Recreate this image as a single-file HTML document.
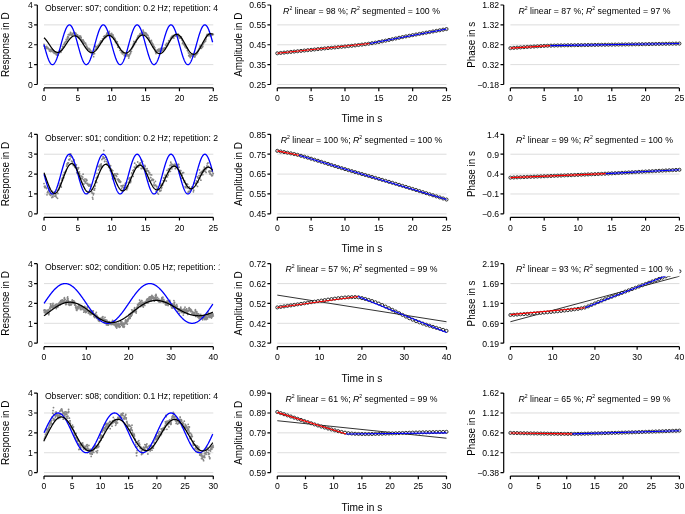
<!DOCTYPE html>
<html><head><meta charset="utf-8"><style>
html,body{margin:0;padding:0;background:#fff;}
body{width:685px;height:514px;overflow:hidden;}
svg{display:block;will-change:transform;}
text{font-family:"Liberation Sans", sans-serif;}
</style></head><body>
<svg width="685" height="514" viewBox="0 0 685 514" font-family='"Liberation Sans", sans-serif' fill="#000"><rect width="685" height="514" fill="#fff"/><line x1="44.00" y1="84.50" x2="213.30" y2="84.50" stroke="#d9d9d9" stroke-width="0.9"/><line x1="44.00" y1="64.62" x2="213.30" y2="64.62" stroke="#d9d9d9" stroke-width="0.9"/><line x1="44.00" y1="44.75" x2="213.30" y2="44.75" stroke="#d9d9d9" stroke-width="0.9"/><line x1="44.00" y1="24.88" x2="213.30" y2="24.88" stroke="#d9d9d9" stroke-width="0.9"/><path d="M44.0,44.3h0.01M44.3,46.2h0.01M44.6,46.4h0.01M44.9,48.2h0.01M45.2,47.0h0.01M45.5,47.7h0.01M45.8,47.3h0.01M46.2,47.8h0.01M46.5,46.4h0.01M46.8,48.5h0.01M47.1,47.8h0.01M47.4,48.2h0.01M47.7,47.3h0.01M48.0,48.1h0.01M48.3,48.8h0.01M48.6,48.9h0.01M48.9,48.9h0.01M49.2,50.0h0.01M49.5,51.0h0.01M49.8,51.0h0.01M50.2,49.9h0.01M50.5,49.3h0.01M50.8,51.5h0.01M51.1,50.4h0.01M51.4,51.1h0.01M51.7,49.6h0.01M52.0,51.2h0.01M52.3,51.2h0.01M52.6,50.9h0.01M52.9,51.8h0.01M53.2,50.1h0.01M53.5,52.5h0.01M53.9,51.3h0.01M54.2,52.9h0.01M54.5,53.4h0.01M54.8,53.2h0.01M55.1,52.1h0.01M55.4,52.0h0.01M55.7,52.0h0.01M56.0,53.9h0.01M56.3,54.7h0.01M56.6,53.8h0.01M56.9,54.7h0.01M57.2,55.2h0.01M57.5,53.6h0.01M57.9,54.2h0.01M58.2,55.2h0.01M58.5,53.7h0.01M58.8,53.3h0.01M59.1,53.0h0.01M59.4,50.8h0.01M59.7,51.7h0.01M60.0,51.8h0.01M60.3,51.1h0.01M60.6,52.2h0.01M60.9,52.3h0.01M61.2,50.7h0.01M61.5,49.1h0.01M61.9,50.0h0.01M62.2,49.6h0.01M62.5,46.3h0.01M62.8,47.8h0.01M63.1,46.9h0.01M63.4,47.0h0.01M63.7,44.6h0.01M64.0,44.7h0.01M64.3,43.3h0.01M64.6,43.0h0.01M64.9,44.0h0.01M65.2,42.1h0.01M65.5,41.8h0.01M65.9,41.4h0.01M66.2,39.3h0.01M66.5,40.3h0.01M66.8,41.3h0.01M67.1,39.7h0.01M67.4,37.7h0.01M67.7,36.7h0.01M68.0,38.5h0.01M68.3,34.7h0.01M68.6,37.1h0.01M68.9,34.5h0.01M69.2,35.1h0.01M69.5,34.5h0.01M69.9,34.5h0.01M70.2,33.9h0.01M70.5,32.5h0.01M70.8,32.6h0.01M71.1,35.1h0.01M71.4,34.1h0.01M71.7,34.1h0.01M72.0,35.3h0.01M72.3,34.0h0.01M72.6,34.5h0.01M72.9,34.1h0.01M73.2,33.1h0.01M73.6,32.3h0.01M73.9,33.6h0.01M74.2,32.5h0.01M74.5,32.6h0.01M74.8,32.7h0.01M75.1,34.2h0.01M75.4,33.4h0.01M75.7,33.5h0.01M76.0,33.4h0.01M76.3,35.9h0.01M76.6,34.7h0.01M76.9,34.9h0.01M77.2,35.7h0.01M77.6,34.8h0.01M77.9,35.9h0.01M78.2,36.4h0.01M78.5,37.5h0.01M78.8,37.1h0.01M79.1,36.5h0.01M79.4,37.8h0.01M79.7,36.9h0.01M80.0,35.9h0.01M80.3,37.0h0.01M80.6,36.1h0.01M80.9,38.8h0.01M81.2,37.5h0.01M81.6,39.7h0.01M81.9,40.2h0.01M82.2,39.9h0.01M82.5,41.0h0.01M82.8,40.9h0.01M83.1,40.0h0.01M83.4,42.1h0.01M83.7,43.1h0.01M84.0,41.5h0.01M84.3,42.8h0.01M84.6,43.2h0.01M84.9,43.3h0.01M85.2,43.1h0.01M85.6,43.2h0.01M85.9,44.5h0.01M86.2,46.6h0.01M86.5,46.0h0.01M86.8,46.2h0.01M87.1,47.4h0.01M87.4,47.7h0.01M87.7,49.2h0.01M88.0,49.0h0.01M88.3,49.7h0.01M88.6,49.0h0.01M88.9,48.3h0.01M89.2,49.3h0.01M89.6,51.1h0.01M89.9,49.5h0.01M90.2,50.4h0.01M90.5,50.7h0.01M90.8,50.8h0.01M91.1,52.4h0.01M91.4,51.5h0.01M91.7,51.8h0.01M92.0,53.0h0.01M92.3,54.6h0.01M92.6,54.2h0.01M92.9,53.5h0.01M93.3,53.9h0.01M93.6,56.7h0.01M93.9,53.6h0.01M94.2,50.5h0.01M94.5,53.7h0.01M94.8,50.1h0.01M95.1,49.8h0.01M95.4,46.5h0.01M95.7,46.5h0.01M96.0,49.2h0.01M96.3,48.1h0.01M96.6,47.4h0.01M96.9,46.8h0.01M97.3,48.0h0.01M97.6,46.2h0.01M97.9,45.6h0.01M98.2,45.8h0.01M98.5,45.5h0.01M98.8,44.3h0.01M99.1,44.1h0.01M99.4,44.7h0.01M99.7,43.8h0.01M100.0,42.9h0.01M100.3,42.0h0.01M100.6,42.3h0.01M100.9,41.0h0.01M101.3,40.9h0.01M101.6,41.2h0.01M101.9,41.4h0.01M102.2,41.5h0.01M102.5,38.8h0.01M102.8,39.5h0.01M103.1,39.0h0.01M103.4,39.1h0.01M103.7,36.6h0.01M104.0,37.1h0.01M104.3,38.0h0.01M104.6,35.8h0.01M104.9,36.7h0.01M105.3,37.7h0.01M105.6,35.6h0.01M105.9,37.3h0.01M106.2,36.6h0.01M106.5,34.7h0.01M106.8,33.6h0.01M107.1,33.0h0.01M107.4,34.2h0.01M107.7,35.5h0.01M108.0,33.9h0.01M108.3,33.1h0.01M108.6,32.3h0.01M108.9,33.9h0.01M109.3,31.5h0.01M109.6,33.3h0.01M109.9,34.8h0.01M110.2,35.1h0.01M110.5,34.7h0.01M110.8,35.1h0.01M111.1,35.9h0.01M111.4,34.5h0.01M111.7,33.4h0.01M112.0,35.0h0.01M112.3,36.2h0.01M112.6,35.4h0.01M113.0,35.0h0.01M113.3,36.5h0.01M113.6,37.1h0.01M113.9,38.9h0.01M114.2,38.9h0.01M114.5,38.1h0.01M114.8,38.6h0.01M115.1,38.9h0.01M115.4,41.8h0.01M115.7,40.5h0.01M116.0,41.8h0.01M116.3,43.3h0.01M116.6,42.7h0.01M117.0,42.0h0.01M117.3,41.9h0.01M117.6,45.3h0.01M117.9,47.2h0.01M118.2,44.5h0.01M118.5,46.4h0.01M118.8,47.0h0.01M119.1,47.5h0.01M119.4,48.1h0.01M119.7,48.1h0.01M120.0,50.3h0.01M120.3,50.1h0.01M120.6,50.3h0.01M121.0,50.5h0.01M121.3,52.6h0.01M121.6,52.3h0.01M121.9,51.2h0.01M122.2,51.9h0.01M122.5,53.9h0.01M122.8,51.5h0.01M123.1,53.3h0.01M123.4,52.7h0.01M123.7,52.8h0.01M124.0,53.3h0.01M124.3,55.5h0.01M124.6,54.9h0.01M125.0,54.8h0.01M125.3,56.1h0.01M125.6,55.9h0.01M125.9,56.3h0.01M126.2,54.9h0.01M126.5,54.7h0.01M126.8,54.4h0.01M127.1,52.7h0.01M127.4,54.7h0.01M127.7,54.6h0.01M128.0,56.0h0.01M128.3,54.8h0.01M128.7,58.1h0.01M129.0,56.6h0.01M129.3,55.8h0.01M129.6,54.8h0.01M129.9,54.2h0.01M130.2,53.5h0.01M130.5,53.4h0.01M130.8,51.7h0.01M131.1,51.1h0.01M131.4,51.5h0.01M131.7,48.9h0.01M132.0,48.3h0.01M132.3,47.5h0.01M132.7,46.8h0.01M133.0,45.1h0.01M133.3,46.7h0.01M133.6,43.4h0.01M133.9,41.4h0.01M134.2,43.3h0.01M134.5,44.5h0.01M134.8,41.9h0.01M135.1,41.8h0.01M135.4,42.4h0.01M135.7,41.7h0.01M136.0,42.0h0.01M136.3,39.9h0.01M136.7,39.7h0.01M137.0,39.1h0.01M137.3,37.9h0.01M137.6,37.9h0.01M137.9,36.2h0.01M138.2,37.5h0.01M138.5,36.3h0.01M138.8,35.7h0.01M139.1,35.6h0.01M139.4,34.9h0.01M139.7,35.1h0.01M140.0,33.6h0.01M140.3,35.2h0.01M140.7,33.7h0.01M141.0,34.1h0.01M141.3,34.8h0.01M141.6,32.2h0.01M141.9,32.9h0.01M142.2,32.3h0.01M142.5,33.0h0.01M142.8,33.0h0.01M143.1,30.2h0.01M143.4,31.7h0.01M143.7,32.3h0.01M144.0,32.3h0.01M144.3,33.5h0.01M144.7,34.0h0.01M145.0,32.7h0.01M145.3,33.1h0.01M145.6,33.2h0.01M145.9,33.0h0.01M146.2,35.0h0.01M146.5,34.8h0.01M146.8,34.2h0.01M147.1,35.0h0.01M147.4,35.0h0.01M147.7,35.7h0.01M148.0,35.4h0.01M148.4,37.8h0.01M148.7,37.3h0.01M149.0,38.1h0.01M149.3,39.1h0.01M149.6,40.6h0.01M149.9,41.4h0.01M150.2,41.3h0.01M150.5,41.0h0.01M150.8,41.4h0.01M151.1,41.4h0.01M151.4,40.3h0.01M151.7,42.1h0.01M152.0,42.8h0.01M152.4,44.1h0.01M152.7,43.6h0.01M153.0,46.6h0.01M153.3,45.0h0.01M153.6,46.2h0.01M153.9,46.5h0.01M154.2,46.7h0.01M154.5,48.5h0.01M154.8,47.6h0.01M155.1,49.3h0.01M155.4,51.3h0.01M155.7,52.5h0.01M156.0,53.5h0.01M156.4,52.3h0.01M156.7,50.8h0.01M157.0,50.7h0.01M157.3,49.9h0.01M157.6,49.8h0.01M157.9,49.7h0.01M158.2,51.3h0.01M158.5,50.7h0.01M158.8,49.2h0.01M159.1,51.2h0.01M159.4,51.2h0.01M159.7,51.6h0.01M160.0,50.0h0.01M160.4,48.4h0.01M160.7,51.8h0.01M161.0,51.6h0.01M161.3,51.1h0.01M161.6,50.0h0.01M161.9,49.4h0.01M162.2,49.3h0.01M162.5,48.5h0.01M162.8,50.0h0.01M163.1,49.0h0.01M163.4,48.6h0.01M163.7,48.7h0.01M164.0,49.2h0.01M164.4,48.0h0.01M164.7,49.2h0.01M165.0,47.8h0.01M165.3,48.1h0.01M165.6,45.0h0.01M165.9,45.5h0.01M166.2,46.0h0.01M166.5,43.3h0.01M166.8,46.4h0.01M167.1,45.2h0.01M167.4,45.4h0.01M167.7,43.8h0.01M168.1,44.6h0.01M168.4,42.4h0.01M168.7,40.6h0.01M169.0,42.4h0.01M169.3,41.6h0.01M169.6,41.5h0.01M169.9,40.3h0.01M170.2,40.2h0.01M170.5,38.3h0.01M170.8,38.7h0.01M171.1,37.4h0.01M171.4,37.8h0.01M171.7,36.3h0.01M172.1,36.9h0.01M172.4,37.0h0.01M172.7,37.7h0.01M173.0,35.7h0.01M173.3,35.5h0.01M173.6,36.5h0.01M173.9,38.1h0.01M174.2,35.6h0.01M174.5,35.4h0.01M174.8,35.9h0.01M175.1,35.2h0.01M175.4,36.1h0.01M175.7,35.3h0.01M176.1,34.5h0.01M176.4,34.5h0.01M176.7,34.3h0.01M177.0,35.5h0.01M177.3,35.6h0.01M177.6,35.3h0.01M177.9,35.5h0.01M178.2,34.1h0.01M178.5,36.4h0.01M178.8,35.8h0.01M179.1,36.8h0.01M179.4,37.8h0.01M179.7,37.9h0.01M180.1,38.2h0.01M180.4,37.0h0.01M180.7,36.6h0.01M181.0,37.0h0.01M181.3,36.9h0.01M181.6,38.5h0.01M181.9,39.0h0.01M182.2,40.3h0.01M182.5,43.3h0.01M182.8,42.8h0.01M183.1,41.8h0.01M183.4,43.4h0.01M183.7,44.4h0.01M184.1,44.8h0.01M184.4,44.2h0.01M184.7,45.8h0.01M185.0,46.8h0.01M185.3,46.5h0.01M185.6,46.3h0.01M185.9,46.7h0.01M186.2,47.9h0.01M186.5,48.2h0.01M186.8,48.0h0.01M187.1,48.6h0.01M187.4,50.6h0.01M187.8,50.9h0.01M188.1,50.1h0.01M188.4,52.8h0.01M188.7,55.7h0.01M189.0,53.3h0.01M189.3,56.0h0.01M189.6,54.3h0.01M189.9,55.1h0.01M190.2,57.5h0.01M190.5,56.5h0.01M190.8,54.8h0.01M191.1,55.1h0.01M191.4,54.9h0.01M191.8,55.9h0.01M192.1,54.2h0.01M192.4,56.0h0.01M192.7,54.9h0.01M193.0,55.0h0.01M193.3,54.5h0.01M193.6,54.4h0.01M193.9,55.7h0.01M194.2,56.4h0.01M194.5,55.1h0.01M194.8,57.0h0.01M195.1,55.9h0.01M195.4,55.0h0.01M195.8,55.1h0.01M196.1,53.2h0.01M196.4,53.6h0.01M196.7,54.2h0.01M197.0,52.7h0.01M197.3,51.7h0.01M197.6,52.9h0.01M197.9,51.0h0.01M198.2,51.1h0.01M198.5,49.9h0.01M198.8,49.8h0.01M199.1,48.5h0.01M199.4,48.4h0.01M199.8,46.3h0.01M200.1,46.2h0.01M200.4,45.5h0.01M200.7,46.1h0.01M201.0,48.4h0.01M201.3,48.3h0.01M201.6,46.5h0.01M201.9,47.4h0.01M202.2,46.9h0.01M202.5,45.4h0.01M202.8,46.6h0.01M203.1,44.1h0.01M203.4,42.9h0.01M203.8,42.8h0.01M204.1,41.7h0.01M204.4,42.3h0.01M204.7,41.3h0.01M205.0,40.4h0.01M205.3,41.3h0.01M205.6,40.9h0.01M205.9,39.3h0.01M206.2,37.7h0.01M206.5,36.1h0.01M206.8,35.1h0.01M207.1,34.3h0.01M207.5,35.8h0.01M207.8,35.0h0.01M208.1,34.8h0.01M208.4,34.1h0.01M208.7,34.7h0.01M209.0,35.8h0.01M209.3,34.5h0.01M209.6,33.7h0.01M209.9,34.1h0.01M210.2,35.0h0.01M210.5,34.8h0.01M210.8,35.9h0.01M211.1,35.1h0.01M211.5,35.0h0.01M211.8,34.9h0.01M212.1,35.0h0.01M212.4,34.7h0.01M212.7,33.8h0.01M213.0,34.5h0.01M213.3,34.4h0.01" stroke="#878787" stroke-width="1.8" stroke-linecap="round" fill="none"/><polyline points="44.00,44.75 44.28,45.79 44.56,46.82 44.84,47.85 45.12,48.87 45.41,49.87 45.69,50.87 45.97,51.85 46.25,52.80 46.53,53.74 46.81,54.65 47.09,55.54 47.37,56.39 47.65,57.22 47.93,58.01 48.22,58.76 48.50,59.48 48.78,60.15 49.06,60.79 49.34,61.38 49.62,61.92 49.90,62.42 50.18,62.87 50.46,63.27 50.74,63.62 51.03,63.92 51.31,64.17 51.59,64.36 51.87,64.50 52.15,64.59 52.43,64.62 52.71,64.60 52.99,64.53 53.27,64.40 53.56,64.22 53.84,63.98 54.12,63.70 54.40,63.36 54.68,62.97 54.96,62.53 55.24,62.04 55.52,61.51 55.80,60.93 56.08,60.31 56.37,59.64 56.65,58.94 56.93,58.19 57.21,57.41 57.49,56.59 57.77,55.75 58.05,54.87 58.33,53.96 58.61,53.03 58.90,52.08 59.18,51.11 59.46,50.11 59.74,49.11 60.02,48.09 60.30,47.07 60.58,46.04 60.86,45.00 61.14,43.96 61.42,42.93 61.71,41.90 61.99,40.88 62.27,39.87 62.55,38.87 62.83,37.89 63.11,36.93 63.39,35.98 63.67,35.07 63.95,34.17 64.23,33.31 64.52,32.48 64.80,31.68 65.08,30.92 65.36,30.19 65.64,29.51 65.92,28.86 66.20,28.26 66.48,27.71 66.76,27.20 67.05,26.73 67.33,26.32 67.61,25.96 67.89,25.65 68.17,25.39 68.45,25.18 68.73,25.03 69.01,24.93 69.29,24.88 69.57,24.89 69.86,24.95 70.14,25.06 70.42,25.23 70.70,25.45 70.98,25.73 71.26,26.05 71.54,26.43 71.82,26.86 72.10,27.33 72.38,27.86 72.67,28.42 72.95,29.04 73.23,29.69 73.51,30.39 73.79,31.13 74.07,31.90 74.35,32.71 74.63,33.55 74.91,34.42 75.20,35.32 75.48,36.24 75.76,37.19 76.04,38.16 76.32,39.15 76.60,40.15 76.88,41.16 77.16,42.18 77.44,43.22 77.72,44.25 78.01,45.29 78.29,46.32 78.57,47.35 78.85,48.38 79.13,49.39 79.41,50.39 79.69,51.38 79.97,52.34 80.25,53.29 80.53,54.22 80.82,55.11 81.10,55.98 81.38,56.82 81.66,57.63 81.94,58.40 82.22,59.14 82.50,59.83 82.78,60.48 83.06,61.10 83.35,61.66 83.63,62.18 83.91,62.66 84.19,63.08 84.47,63.46 84.75,63.78 85.03,64.06 85.31,64.28 85.59,64.44 85.87,64.56 86.16,64.62 86.44,64.62 86.72,64.57 87.00,64.47 87.28,64.31 87.56,64.10 87.84,63.84 88.12,63.53 88.40,63.16 88.69,62.75 88.97,62.29 89.25,61.77 89.53,61.22 89.81,60.61 90.09,59.97 90.37,59.28 90.65,58.55 90.93,57.79 91.21,56.99 91.50,56.16 91.78,55.29 92.06,54.40 92.34,53.48 92.62,52.54 92.90,51.58 93.18,50.59 93.46,49.60 93.74,48.58 94.02,47.56 94.31,46.53 94.59,45.50 94.87,44.46 95.15,43.43 95.43,42.40 95.71,41.37 95.99,40.35 96.27,39.35 96.55,38.36 96.84,37.39 97.12,36.43 97.40,35.51 97.68,34.60 97.96,33.72 98.24,32.88 98.52,32.06 98.80,31.28 99.08,30.54 99.36,29.83 99.65,29.17 99.93,28.55 100.21,27.97 100.49,27.44 100.77,26.95 101.05,26.51 101.33,26.13 101.61,25.79 101.89,25.51 102.17,25.27 102.46,25.09 102.74,24.97 103.02,24.89 103.30,24.88 103.58,24.91 103.86,25.00 104.14,25.14 104.42,25.34 104.70,25.59 104.99,25.89 105.27,26.24 105.55,26.65 105.83,27.10 106.11,27.60 106.39,28.15 106.67,28.74 106.95,29.37 107.23,30.05 107.51,30.77 107.80,31.52 108.08,32.31 108.36,33.14 108.64,34.00 108.92,34.88 109.20,35.79 109.48,36.73 109.76,37.69 110.04,38.67 110.32,39.66 110.61,40.67 110.89,41.69 111.17,42.72 111.45,43.75 111.73,44.79 112.01,45.82 112.29,46.86 112.57,47.88 112.85,48.90 113.14,49.91 113.42,50.90 113.70,51.88 113.98,52.84 114.26,53.77 114.54,54.68 114.82,55.57 115.10,56.42 115.38,57.24 115.66,58.03 115.95,58.79 116.23,59.50 116.51,60.17 116.79,60.81 117.07,61.40 117.35,61.94 117.63,62.44 117.91,62.88 118.19,63.28 118.48,63.63 118.76,63.93 119.04,64.18 119.32,64.37 119.60,64.51 119.88,64.59 120.16,64.62 120.44,64.60 120.72,64.53 121.00,64.40 121.29,64.21 121.57,63.98 121.85,63.69 122.13,63.35 122.41,62.96 122.69,62.52 122.97,62.03 123.25,61.49 123.53,60.91 123.81,60.28 124.10,59.62 124.38,58.91 124.66,58.16 124.94,57.38 125.22,56.56 125.50,55.71 125.78,54.83 126.06,53.93 126.34,53.00 126.63,52.04 126.91,51.07 127.19,50.08 127.47,49.07 127.75,48.06 128.03,47.03 128.31,46.00 128.59,44.96 128.87,43.93 129.15,42.89 129.44,41.86 129.72,40.84 130.00,39.83 130.28,38.83 130.56,37.85 130.84,36.89 131.12,35.95 131.40,35.03 131.68,34.14 131.96,33.28 132.25,32.45 132.53,31.65 132.81,30.89 133.09,30.17 133.37,29.48 133.65,28.84 133.93,28.24 134.21,27.69 134.49,27.18 134.78,26.72 135.06,26.31 135.34,25.95 135.62,25.64 135.90,25.38 136.18,25.17 136.46,25.02 136.74,24.92 137.02,24.88 137.30,24.89 137.59,24.95 137.87,25.07 138.15,25.24 138.43,25.46 138.71,25.74 138.99,26.07 139.27,26.45 139.55,26.87 139.83,27.35 140.11,27.88 140.40,28.45 140.68,29.06 140.96,29.72 141.24,30.42 141.52,31.15 141.80,31.93 142.08,32.74 142.36,33.58 142.64,34.45 142.93,35.35 143.21,36.28 143.49,37.23 143.77,38.19 144.05,39.18 144.33,40.18 144.61,41.20 144.89,42.22 145.17,43.25 145.45,44.29 145.74,45.32 146.02,46.36 146.30,47.39 146.58,48.41 146.86,49.43 147.14,50.43 147.42,51.41 147.70,52.38 147.98,53.33 148.27,54.25 148.55,55.15 148.83,56.01 149.11,56.85 149.39,57.66 149.67,58.43 149.95,59.16 150.23,59.85 150.51,60.51 150.79,61.12 151.08,61.68 151.36,62.20 151.64,62.67 151.92,63.10 152.20,63.47 152.48,63.79 152.76,64.06 153.04,64.28 153.32,64.45 153.60,64.56 153.89,64.62 154.17,64.62 154.45,64.57 154.73,64.47 155.01,64.31 155.29,64.10 155.57,63.83 155.85,63.52 156.13,63.15 156.42,62.73 156.70,62.27 156.98,61.75 157.26,61.20 157.54,60.59 157.82,59.94 158.10,59.26 158.38,58.53 158.66,57.76 158.94,56.96 159.23,56.13 159.51,55.26 159.79,54.37 160.07,53.45 160.35,52.51 160.63,51.54 160.91,50.56 161.19,49.56 161.47,48.55 161.75,47.53 162.04,46.50 162.32,45.46 162.60,44.43 162.88,43.39 163.16,42.36 163.44,41.33 163.72,40.32 164.00,39.31 164.28,38.32 164.57,37.35 164.85,36.40 165.13,35.47 165.41,34.57 165.69,33.69 165.97,32.85 166.25,32.03 166.53,31.25 166.81,30.51 167.09,29.81 167.38,29.15 167.66,28.53 167.94,27.95 168.22,27.42 168.50,26.93 168.78,26.50 169.06,26.11 169.34,25.78 169.62,25.50 169.91,25.27 170.19,25.09 170.47,24.96 170.75,24.89 171.03,24.88 171.31,24.91 171.59,25.00 171.87,25.15 172.15,25.35 172.43,25.60 172.72,25.90 173.00,26.26 173.28,26.66 173.56,27.12 173.84,27.62 174.12,28.17 174.40,28.76 174.68,29.40 174.96,30.08 175.24,30.79 175.53,31.55 175.81,32.34 176.09,33.17 176.37,34.03 176.65,34.91 176.93,35.83 177.21,36.77 177.49,37.72 177.77,38.70 178.06,39.70 178.34,40.71 178.62,41.73 178.90,42.76 179.18,43.79 179.46,44.82 179.74,45.86 180.02,46.89 180.30,47.92 180.58,48.94 180.87,49.95 181.15,50.94 181.43,51.92 181.71,52.87 181.99,53.81 182.27,54.72 182.55,55.60 182.83,56.45 183.11,57.27 183.39,58.06 183.68,58.81 183.96,59.53 184.24,60.20 184.52,60.83 184.80,61.42 185.08,61.96 185.36,62.45 185.64,62.90 185.92,63.30 186.21,63.64 186.49,63.94 186.77,64.18 187.05,64.37 187.33,64.51 187.61,64.60 187.89,64.62 188.17,64.60 188.45,64.52 188.73,64.39 189.02,64.20 189.30,63.97 189.58,63.68 189.86,63.33 190.14,62.94 190.42,62.50 190.70,62.01 190.98,61.47 191.26,60.89 191.54,60.26 191.83,59.59 192.11,58.88 192.39,58.14 192.67,57.35 192.95,56.53 193.23,55.68 193.51,54.80 193.79,53.90 194.07,52.96 194.36,52.01 194.64,51.03 194.92,50.04 195.20,49.04 195.48,48.02 195.76,46.99 196.04,45.96 196.32,44.92 196.60,43.89 196.88,42.85 197.17,41.83 197.45,40.81 197.73,39.80 198.01,38.80 198.29,37.82 198.57,36.86 198.85,35.92 199.13,35.00 199.41,34.11 199.70,33.25 199.98,32.42 200.26,31.63 200.54,30.87 200.82,30.14 201.10,29.46 201.38,28.82 201.66,28.22 201.94,27.67 202.22,27.16 202.51,26.70 202.79,26.29 203.07,25.93 203.35,25.63 203.63,25.37 203.91,25.17 204.19,25.02 204.47,24.92 204.75,24.88 205.03,24.89 205.32,24.95 205.60,25.07 205.88,25.25 206.16,25.47 206.44,25.75 206.72,26.08 207.00,26.46 207.28,26.89 207.56,27.37 207.85,27.90 208.13,28.47 208.41,29.08 208.69,29.74 208.97,30.44 209.25,31.18 209.53,31.96 209.81,32.77 210.09,33.61 210.37,34.48 210.66,35.38 210.94,36.31 211.22,37.26 211.50,38.23 211.78,39.22 212.06,40.22 212.34,41.23 212.62,42.26" fill="none" stroke="#0000ff" stroke-width="1.3"/><polyline points="44.00,37.70 44.28,37.96 44.56,38.23 44.84,38.52 45.12,38.83 45.41,39.15 45.69,39.48 45.97,39.83 46.25,40.18 46.53,40.55 46.81,40.93 47.09,41.32 47.37,41.71 47.65,42.11 47.93,42.52 48.22,42.93 48.50,43.35 48.78,43.77 49.06,44.19 49.34,44.61 49.62,45.02 49.90,45.44 50.18,45.85 50.46,46.26 50.74,46.67 51.03,47.06 51.31,47.45 51.59,47.84 51.87,48.21 52.15,48.57 52.43,48.92 52.71,49.26 52.99,49.58 53.27,49.89 53.56,50.19 53.84,50.46 54.12,50.73 54.40,50.97 54.68,51.20 54.96,51.41 55.24,51.60 55.52,51.77 55.80,51.92 56.08,52.05 56.37,52.16 56.65,52.25 56.93,52.31 57.21,52.36 57.49,52.38 57.77,52.38 58.05,52.36 58.33,52.32 58.61,52.25 58.90,52.17 59.18,52.06 59.46,51.93 59.74,51.78 60.02,51.61 60.30,51.42 60.58,51.21 60.86,50.98 61.14,50.74 61.42,50.47 61.71,50.19 61.99,49.89 62.27,49.58 62.55,49.25 62.83,48.91 63.11,48.56 63.39,48.19 63.67,47.81 63.95,47.43 64.23,47.03 64.52,46.63 64.80,46.22 65.08,45.80 65.36,45.38 65.64,44.95 65.92,44.52 66.20,44.10 66.48,43.67 66.76,43.24 67.05,42.81 67.33,42.39 67.61,41.97 67.89,41.56 68.17,41.15 68.45,40.76 68.73,40.37 69.01,39.99 69.29,39.62 69.57,39.26 69.86,38.92 70.14,38.59 70.42,38.27 70.70,37.97 70.98,37.69 71.26,37.42 71.54,37.17 71.82,36.94 72.10,36.73 72.38,36.53 72.67,36.36 72.95,36.21 73.23,36.08 73.51,35.97 73.79,35.88 74.07,35.82 74.35,35.77 74.63,35.75 74.91,35.75 75.20,35.78 75.48,35.82 75.76,35.89 76.04,35.98 76.32,36.09 76.60,36.23 76.88,36.38 77.16,36.56 77.44,36.76 77.72,36.97 78.01,37.21 78.29,37.46 78.57,37.74 78.85,38.03 79.13,38.33 79.41,38.66 79.69,38.99 79.97,39.35 80.25,39.71 80.53,40.09 80.82,40.48 81.10,40.87 81.38,41.28 81.66,41.70 81.94,42.12 82.22,42.55 82.50,42.98 82.78,43.42 83.06,43.86 83.35,44.30 83.63,44.74 83.91,45.18 84.19,45.61 84.47,46.05 84.75,46.48 85.03,46.90 85.31,47.31 85.59,47.72 85.87,48.12 86.16,48.51 86.44,48.88 86.72,49.24 87.00,49.59 87.28,49.93 87.56,50.25 87.84,50.55 88.12,50.84 88.40,51.11 88.69,51.36 88.97,51.59 89.25,51.80 89.53,52.00 89.81,52.16 90.09,52.31 90.37,52.44 90.65,52.54 90.93,52.63 91.21,52.68 91.50,52.72 91.78,52.73 92.06,52.72 92.34,52.69 92.62,52.63 92.90,52.55 93.18,52.45 93.46,52.32 93.74,52.18 94.02,52.01 94.31,51.82 94.59,51.61 94.87,51.38 95.15,51.13 95.43,50.86 95.71,50.57 95.99,50.26 96.27,49.94 96.55,49.60 96.84,49.25 97.12,48.88 97.40,48.50 97.68,48.11 97.96,47.70 98.24,47.29 98.52,46.87 98.80,46.44 99.08,46.00 99.36,45.56 99.65,45.12 99.93,44.67 100.21,44.22 100.49,43.77 100.77,43.32 101.05,42.87 101.33,42.43 101.61,41.99 101.89,41.55 102.17,41.12 102.46,40.71 102.74,40.29 103.02,39.89 103.30,39.50 103.58,39.13 103.86,38.76 104.14,38.41 104.42,38.08 104.70,37.76 104.99,37.46 105.27,37.18 105.55,36.92 105.83,36.67 106.11,36.45 106.39,36.24 106.67,36.06 106.95,35.90 107.23,35.76 107.51,35.65 107.80,35.55 108.08,35.48 108.36,35.44 108.64,35.41 108.92,35.42 109.20,35.44 109.48,35.49 109.76,35.56 110.04,35.66 110.32,35.77 110.61,35.91 110.89,36.08 111.17,36.26 111.45,36.47 111.73,36.70 112.01,36.94 112.29,37.21 112.57,37.50 112.85,37.80 113.14,38.13 113.42,38.47 113.70,38.82 113.98,39.19 114.26,39.57 114.54,39.97 114.82,40.37 115.10,40.79 115.38,41.22 115.66,41.65 115.95,42.09 116.23,42.54 116.51,43.00 116.79,43.45 117.07,43.91 117.35,44.37 117.63,44.83 117.91,45.29 118.19,45.74 118.48,46.19 118.76,46.64 119.04,47.08 119.32,47.51 119.60,47.93 119.88,48.34 120.16,48.74 120.44,49.13 120.72,49.51 121.00,49.87 121.29,50.22 121.57,50.55 121.85,50.86 122.13,51.16 122.41,51.44 122.69,51.69 122.97,51.93 123.25,52.15 123.53,52.34 123.81,52.51 124.10,52.67 124.38,52.79 124.66,52.90 124.94,52.98 125.22,53.03 125.50,53.07 125.78,53.08 126.06,53.06 126.34,53.02 126.63,52.96 126.91,52.87 127.19,52.76 127.47,52.63 127.75,52.47 128.03,52.29 128.31,52.09 128.59,51.86 128.87,51.62 129.15,51.35 129.44,51.07 129.72,50.76 130.00,50.44 130.28,50.10 130.56,49.75 130.84,49.38 131.12,48.99 131.40,48.59 131.68,48.18 131.96,47.76 132.25,47.33 132.53,46.89 132.81,46.44 133.09,45.98 133.37,45.52 133.65,45.06 133.93,44.59 134.21,44.12 134.49,43.65 134.78,43.18 135.06,42.71 135.34,42.25 135.62,41.79 135.90,41.34 136.18,40.89 136.46,40.46 136.74,40.03 137.02,39.61 137.30,39.21 137.59,38.82 137.87,38.44 138.15,38.08 138.43,37.73 138.71,37.40 138.99,37.09 139.27,36.80 139.55,36.53 139.83,36.27 140.11,36.04 140.40,35.83 140.68,35.64 140.96,35.48 141.24,35.34 141.52,35.22 141.80,35.13 142.08,35.06 142.36,35.01 142.64,34.99 142.93,34.99 143.21,35.02 143.49,35.08 143.77,35.16 144.05,35.26 144.33,35.39 144.61,35.54 144.89,35.71 145.17,35.91 145.45,36.13 145.74,36.37 146.02,36.63 146.30,36.92 146.58,37.22 146.86,37.54 147.14,37.89 147.42,38.24 147.70,38.62 147.98,39.01 148.27,39.41 148.55,39.83 148.83,40.26 149.11,40.70 149.39,41.16 149.67,41.62 149.95,42.08 150.23,42.56 150.51,43.04 150.79,43.52 151.08,44.00 151.36,44.49 151.64,44.97 151.92,45.46 152.20,45.94 152.48,46.41 152.76,46.88 153.04,47.35 153.32,47.80 153.60,48.25 153.89,48.69 154.17,49.11 154.45,49.52 154.73,49.92 155.01,50.30 155.29,50.67 155.57,51.02 155.85,51.35 156.13,51.66 156.42,51.95 156.70,52.22 156.98,52.47 157.26,52.70 157.54,52.91 157.82,53.09 158.10,53.24 158.38,53.38 158.66,53.49 158.94,53.57 159.23,53.63 159.51,53.66 159.79,53.66 160.07,53.64 160.35,53.60 160.63,53.53 160.91,53.43 161.19,53.31 161.47,53.16 161.75,52.99 162.04,52.80 162.32,52.58 162.60,52.34 162.88,52.07 163.16,51.79 163.44,51.48 163.72,51.15 164.00,50.80 164.28,50.44 164.57,50.06 164.85,49.66 165.13,49.24 165.41,48.81 165.69,48.37 165.97,47.92 166.25,47.45 166.53,46.98 166.81,46.50 167.09,46.01 167.38,45.51 167.66,45.01 167.94,44.51 168.22,44.01 168.50,43.50 168.78,43.00 169.06,42.50 169.34,42.00 169.62,41.51 169.91,41.03 170.19,40.55 170.47,40.08 170.75,39.63 171.03,39.18 171.31,38.75 171.59,38.33 171.87,37.93 172.15,37.54 172.43,37.17 172.72,36.82 173.00,36.49 173.28,36.18 173.56,35.89 173.84,35.63 174.12,35.38 174.40,35.16 174.68,34.96 174.96,34.79 175.24,34.65 175.53,34.52 175.81,34.43 176.09,34.36 176.37,34.32 176.65,34.30 176.93,34.31 177.21,34.35 177.49,34.41 177.77,34.50 178.06,34.62 178.34,34.76 178.62,34.93 178.90,35.12 179.18,35.34 179.46,35.58 179.74,35.85 180.02,36.13 180.30,36.44 180.58,36.77 180.87,37.13 181.15,37.50 181.43,37.89 181.71,38.29 181.99,38.72 182.27,39.15 182.55,39.60 182.83,40.07 183.11,40.55 183.39,41.03 183.68,41.53 183.96,42.03 184.24,42.54 184.52,43.05 184.80,43.57 185.08,44.09 185.36,44.61 185.64,45.13 185.92,45.65 186.21,46.16 186.49,46.67 186.77,47.18 187.05,47.67 187.33,48.16 187.61,48.63 187.89,49.10 188.17,49.55 188.45,49.99 188.73,50.41 189.02,50.81 189.30,51.20 189.58,51.57 189.86,51.92 190.14,52.25 190.42,52.56 190.70,52.84 190.98,53.10 191.26,53.34 191.54,53.55 191.83,53.74 192.11,53.90 192.39,54.04 192.67,54.15 192.95,54.23 193.23,54.28 193.51,54.31 193.79,54.31 194.07,54.28 194.36,54.23 194.64,54.15 194.92,54.04 195.20,53.90 195.48,53.74 195.76,53.55 196.04,53.34 196.32,53.10 196.60,52.84 196.88,52.55 197.17,52.24 197.45,51.91 197.73,51.55 198.01,51.18 198.29,50.78 198.57,50.37 198.85,49.94 199.13,49.50 199.41,49.04 199.70,48.56 199.98,48.08 200.26,47.58 200.54,47.07 200.82,46.56 201.10,46.04 201.38,45.51 201.66,44.98 201.94,44.44 202.22,43.90 202.51,43.37 202.79,42.83 203.07,42.30 203.35,41.78 203.63,41.25 203.91,40.74 204.19,40.24 204.47,39.74 204.75,39.26 205.03,38.79 205.32,38.33 205.60,37.89 205.88,37.47 206.16,37.06 206.44,36.67 206.72,36.30 207.00,35.95 207.28,35.63 207.56,35.33 207.85,35.05 208.13,34.79 208.41,34.56 208.69,34.36 208.97,34.18 209.25,34.03 209.53,33.91 209.81,33.81 210.09,33.74 210.37,33.70 210.66,33.69 210.94,33.70 211.22,33.75 211.50,33.82 211.78,33.92 212.06,34.05 212.34,34.21 212.62,34.39" fill="none" stroke="#000" stroke-width="1.25"/><path d="M37.30,5.00V84.50M34.10,84.50H37.30M34.10,64.62H37.30M34.10,44.75H37.30M34.10,24.88H37.30M34.10,5.00H37.30M44.00,87.95H213.30M44.00,87.95V91.15M77.86,87.95V91.15M111.72,87.95V91.15M145.58,87.95V91.15M179.44,87.95V91.15M213.30,87.95V91.15" stroke="#000" stroke-width="1.2" fill="none"/><text transform="translate(32.70,87.85) scale(1.005,1)" font-size="8.6" text-anchor="end">0</text><text transform="translate(32.70,67.97) scale(1.005,1)" font-size="8.6" text-anchor="end">1</text><text transform="translate(32.70,48.10) scale(1.005,1)" font-size="8.6" text-anchor="end">2</text><text transform="translate(32.70,28.23) scale(1.005,1)" font-size="8.6" text-anchor="end">3</text><text transform="translate(32.70,8.35) scale(1.005,1)" font-size="8.6" text-anchor="end">4</text><text transform="translate(44.00,101.25) scale(1.005,1)" font-size="8.6" text-anchor="middle">0</text><text transform="translate(77.86,101.25) scale(1.005,1)" font-size="8.6" text-anchor="middle">5</text><text transform="translate(111.72,101.25) scale(1.005,1)" font-size="8.6" text-anchor="middle">10</text><text transform="translate(145.58,101.25) scale(1.005,1)" font-size="8.6" text-anchor="middle">15</text><text transform="translate(179.44,101.25) scale(1.005,1)" font-size="8.6" text-anchor="middle">20</text><text transform="translate(213.30,101.25) scale(1.005,1)" font-size="8.6" text-anchor="middle">25</text><text transform="translate(8.70,44.75) scale(1.04,1) rotate(-90)" font-size="9.85" text-anchor="middle">Response in D</text><clipPath id="cl0"><rect x="0" y="-5.0" width="219.6" height="30"/></clipPath><g clip-path="url(#cl0)"><text transform="translate(44.90,11.30) scale(1.047,1)" font-size="8.25" text-anchor="start">Observer: s07; condition: 0.2 Hz; repetition: 4</text></g><line x1="277.30" y1="84.50" x2="446.50" y2="84.50" stroke="#d9d9d9" stroke-width="0.9"/><line x1="277.30" y1="64.62" x2="446.50" y2="64.62" stroke="#d9d9d9" stroke-width="0.9"/><line x1="277.30" y1="44.75" x2="446.50" y2="44.75" stroke="#d9d9d9" stroke-width="0.9"/><line x1="277.30" y1="24.88" x2="446.50" y2="24.88" stroke="#d9d9d9" stroke-width="0.9"/><g fill="#fff" stroke="#000" stroke-width="0.8"><circle cx="277.30" cy="53.30" r="1.55"/><circle cx="280.68" cy="52.95" r="1.55"/><circle cx="284.07" cy="52.60" r="1.55"/><circle cx="287.45" cy="52.26" r="1.55"/><circle cx="290.84" cy="51.91" r="1.55"/><circle cx="294.22" cy="51.57" r="1.55"/><circle cx="297.60" cy="51.22" r="1.55"/><circle cx="300.99" cy="50.88" r="1.55"/><circle cx="304.37" cy="50.53" r="1.55"/><circle cx="307.76" cy="50.18" r="1.55"/><circle cx="311.14" cy="49.83" r="1.55"/><circle cx="314.52" cy="49.48" r="1.55"/><circle cx="317.91" cy="49.12" r="1.55"/><circle cx="321.29" cy="48.77" r="1.55"/><circle cx="324.68" cy="48.43" r="1.55"/><circle cx="328.06" cy="48.10" r="1.55"/><circle cx="331.44" cy="47.78" r="1.55"/><circle cx="334.83" cy="47.46" r="1.55"/><circle cx="338.21" cy="47.14" r="1.55"/><circle cx="341.60" cy="46.81" r="1.55"/><circle cx="344.98" cy="46.48" r="1.55"/><circle cx="348.36" cy="46.13" r="1.55"/><circle cx="351.75" cy="45.78" r="1.55"/><circle cx="355.13" cy="45.41" r="1.55"/><circle cx="358.52" cy="45.02" r="1.55"/><circle cx="361.90" cy="44.60" r="1.55"/><circle cx="365.28" cy="44.17" r="1.55"/><circle cx="368.67" cy="43.70" r="1.55"/><circle cx="372.05" cy="43.20" r="1.55"/><circle cx="375.44" cy="42.63" r="1.55"/><circle cx="378.82" cy="42.01" r="1.55"/><circle cx="382.20" cy="41.34" r="1.55"/><circle cx="385.59" cy="40.65" r="1.55"/><circle cx="388.97" cy="39.93" r="1.55"/><circle cx="392.36" cy="39.20" r="1.55"/><circle cx="395.74" cy="38.47" r="1.55"/><circle cx="399.12" cy="37.76" r="1.55"/><circle cx="402.51" cy="37.06" r="1.55"/><circle cx="405.89" cy="36.40" r="1.55"/><circle cx="409.28" cy="35.77" r="1.55"/><circle cx="412.66" cy="35.14" r="1.55"/><circle cx="416.04" cy="34.52" r="1.55"/><circle cx="419.43" cy="33.90" r="1.55"/><circle cx="422.81" cy="33.29" r="1.55"/><circle cx="426.20" cy="32.69" r="1.55"/><circle cx="429.58" cy="32.08" r="1.55"/><circle cx="432.96" cy="31.48" r="1.55"/><circle cx="436.35" cy="30.87" r="1.55"/><circle cx="439.73" cy="30.27" r="1.55"/><circle cx="443.12" cy="29.66" r="1.55"/><circle cx="446.50" cy="29.05" r="1.55"/></g><polyline points="277.30,53.30 369.68,43.56" fill="none" stroke="#ff0000" stroke-width="1.1"/><polyline points="369.68,43.56 446.50,29.05" fill="none" stroke="#0000ff" stroke-width="1.1"/><path d="M270.60,5.00V84.50M267.40,84.50H270.60M267.40,64.62H270.60M267.40,44.75H270.60M267.40,24.88H270.60M267.40,5.00H270.60M277.30,87.95H446.50M277.30,87.95V91.15M311.14,87.95V91.15M344.98,87.95V91.15M378.82,87.95V91.15M412.66,87.95V91.15M446.50,87.95V91.15" stroke="#000" stroke-width="1.2" fill="none"/><text transform="translate(266.00,87.85) scale(1.005,1)" font-size="8.6" text-anchor="end">0.25</text><text transform="translate(266.00,67.97) scale(1.005,1)" font-size="8.6" text-anchor="end">0.35</text><text transform="translate(266.00,48.10) scale(1.005,1)" font-size="8.6" text-anchor="end">0.45</text><text transform="translate(266.00,28.23) scale(1.005,1)" font-size="8.6" text-anchor="end">0.55</text><text transform="translate(266.00,8.35) scale(1.005,1)" font-size="8.6" text-anchor="end">0.65</text><text transform="translate(277.30,101.25) scale(1.005,1)" font-size="8.6" text-anchor="middle">0</text><text transform="translate(311.14,101.25) scale(1.005,1)" font-size="8.6" text-anchor="middle">5</text><text transform="translate(344.98,101.25) scale(1.005,1)" font-size="8.6" text-anchor="middle">10</text><text transform="translate(378.82,101.25) scale(1.005,1)" font-size="8.6" text-anchor="middle">15</text><text transform="translate(412.66,101.25) scale(1.005,1)" font-size="8.6" text-anchor="middle">20</text><text transform="translate(446.50,101.25) scale(1.005,1)" font-size="8.6" text-anchor="middle">25</text><text transform="translate(242.00,44.75) scale(1.04,1) rotate(-90)" font-size="9.85" text-anchor="middle">Amplitude in D</text><text transform="translate(361.90,122.45) scale(0.99,1)" font-size="10.3" text-anchor="middle">Time in s</text><text transform="translate(361.50,13.60) scale(0.917,1)" font-size="9.5" text-anchor="middle"><tspan font-style="italic">R</tspan><tspan font-size="5.6" dy="-4.0">2</tspan><tspan dy="4.0"> linear = 98 %; </tspan><tspan font-style="italic">R</tspan><tspan font-size="5.6" dy="-4.0">2</tspan><tspan dy="4.0"> segmented = 100 %</tspan></text><line x1="510.40" y1="84.50" x2="679.40" y2="84.50" stroke="#d9d9d9" stroke-width="0.9"/><line x1="510.40" y1="64.62" x2="679.40" y2="64.62" stroke="#d9d9d9" stroke-width="0.9"/><line x1="510.40" y1="44.75" x2="679.40" y2="44.75" stroke="#d9d9d9" stroke-width="0.9"/><line x1="510.40" y1="24.88" x2="679.40" y2="24.88" stroke="#d9d9d9" stroke-width="0.9"/><g fill="#fff" stroke="#000" stroke-width="0.8"><circle cx="510.40" cy="48.13" r="1.55"/><circle cx="513.78" cy="47.89" r="1.55"/><circle cx="517.16" cy="47.65" r="1.55"/><circle cx="520.54" cy="47.42" r="1.55"/><circle cx="523.92" cy="47.18" r="1.55"/><circle cx="527.30" cy="46.95" r="1.55"/><circle cx="530.68" cy="46.74" r="1.55"/><circle cx="534.06" cy="46.52" r="1.55"/><circle cx="537.44" cy="46.31" r="1.55"/><circle cx="540.82" cy="46.10" r="1.55"/><circle cx="544.20" cy="45.91" r="1.55"/><circle cx="547.58" cy="45.76" r="1.55"/><circle cx="550.96" cy="45.64" r="1.55"/><circle cx="554.34" cy="45.55" r="1.55"/><circle cx="557.72" cy="45.47" r="1.55"/><circle cx="561.10" cy="45.40" r="1.55"/><circle cx="564.48" cy="45.34" r="1.55"/><circle cx="567.86" cy="45.28" r="1.55"/><circle cx="571.24" cy="45.23" r="1.55"/><circle cx="574.62" cy="45.18" r="1.55"/><circle cx="578.00" cy="45.14" r="1.55"/><circle cx="581.38" cy="45.09" r="1.55"/><circle cx="584.76" cy="45.05" r="1.55"/><circle cx="588.14" cy="45.00" r="1.55"/><circle cx="591.52" cy="44.95" r="1.55"/><circle cx="594.90" cy="44.90" r="1.55"/><circle cx="598.28" cy="44.84" r="1.55"/><circle cx="601.66" cy="44.79" r="1.55"/><circle cx="605.04" cy="44.75" r="1.55"/><circle cx="608.42" cy="44.70" r="1.55"/><circle cx="611.80" cy="44.65" r="1.55"/><circle cx="615.18" cy="44.60" r="1.55"/><circle cx="618.56" cy="44.55" r="1.55"/><circle cx="621.94" cy="44.51" r="1.55"/><circle cx="625.32" cy="44.46" r="1.55"/><circle cx="628.70" cy="44.41" r="1.55"/><circle cx="632.08" cy="44.35" r="1.55"/><circle cx="635.46" cy="44.30" r="1.55"/><circle cx="638.84" cy="44.24" r="1.55"/><circle cx="642.22" cy="44.19" r="1.55"/><circle cx="645.60" cy="44.13" r="1.55"/><circle cx="648.98" cy="44.08" r="1.55"/><circle cx="652.36" cy="44.02" r="1.55"/><circle cx="655.74" cy="43.96" r="1.55"/><circle cx="659.12" cy="43.90" r="1.55"/><circle cx="662.50" cy="43.85" r="1.55"/><circle cx="665.88" cy="43.79" r="1.55"/><circle cx="669.26" cy="43.73" r="1.55"/><circle cx="672.64" cy="43.67" r="1.55"/><circle cx="676.02" cy="43.61" r="1.55"/><circle cx="679.40" cy="43.56" r="1.55"/></g><polyline points="510.40,48.13 550.28,45.66" fill="none" stroke="#ff0000" stroke-width="1.1"/><polyline points="550.28,45.66 679.40,43.56" fill="none" stroke="#0000ff" stroke-width="1.1"/><path d="M503.70,5.00V84.50M500.50,84.50H503.70M500.50,64.62H503.70M500.50,44.75H503.70M500.50,24.88H503.70M500.50,5.00H503.70M510.40,87.95H679.40M510.40,87.95V91.15M544.20,87.95V91.15M578.00,87.95V91.15M611.80,87.95V91.15M645.60,87.95V91.15M679.40,87.95V91.15" stroke="#000" stroke-width="1.2" fill="none"/><text transform="translate(499.10,87.85) scale(1.005,1)" font-size="8.6" text-anchor="end">−0.18</text><text transform="translate(499.10,67.97) scale(1.005,1)" font-size="8.6" text-anchor="end">0.32</text><text transform="translate(499.10,48.10) scale(1.005,1)" font-size="8.6" text-anchor="end">0.82</text><text transform="translate(499.10,28.23) scale(1.005,1)" font-size="8.6" text-anchor="end">1.32</text><text transform="translate(499.10,8.35) scale(1.005,1)" font-size="8.6" text-anchor="end">1.82</text><text transform="translate(510.40,101.25) scale(1.005,1)" font-size="8.6" text-anchor="middle">0</text><text transform="translate(544.20,101.25) scale(1.005,1)" font-size="8.6" text-anchor="middle">5</text><text transform="translate(578.00,101.25) scale(1.005,1)" font-size="8.6" text-anchor="middle">10</text><text transform="translate(611.80,101.25) scale(1.005,1)" font-size="8.6" text-anchor="middle">15</text><text transform="translate(645.60,101.25) scale(1.005,1)" font-size="8.6" text-anchor="middle">20</text><text transform="translate(679.40,101.25) scale(1.005,1)" font-size="8.6" text-anchor="middle">25</text><text transform="translate(475.10,44.75) scale(1.04,1) rotate(-90)" font-size="9.85" text-anchor="middle">Phase in s</text><text transform="translate(594.50,13.60) scale(0.917,1)" font-size="9.5" text-anchor="middle"><tspan font-style="italic">R</tspan><tspan font-size="5.6" dy="-4.0">2</tspan><tspan dy="4.0"> linear = 87 %; </tspan><tspan font-style="italic">R</tspan><tspan font-size="5.6" dy="-4.0">2</tspan><tspan dy="4.0"> segmented = 97 %</tspan></text><line x1="44.00" y1="213.85" x2="213.30" y2="213.85" stroke="#d9d9d9" stroke-width="0.9"/><line x1="44.00" y1="193.97" x2="213.30" y2="193.97" stroke="#d9d9d9" stroke-width="0.9"/><line x1="44.00" y1="174.10" x2="213.30" y2="174.10" stroke="#d9d9d9" stroke-width="0.9"/><line x1="44.00" y1="154.22" x2="213.30" y2="154.22" stroke="#d9d9d9" stroke-width="0.9"/><path d="M44.0,183.6h0.01M44.4,186.4h0.01M44.8,187.5h0.01M45.1,186.2h0.01M45.5,186.8h0.01M45.9,187.6h0.01M46.3,187.8h0.01M46.6,188.5h0.01M47.0,194.8h0.01M47.4,192.7h0.01M47.8,191.7h0.01M48.1,192.8h0.01M48.5,190.7h0.01M48.9,188.5h0.01M49.3,189.6h0.01M49.6,194.5h0.01M50.0,193.5h0.01M50.4,192.4h0.01M50.8,195.4h0.01M51.1,191.2h0.01M51.5,193.9h0.01M51.9,197.5h0.01M52.3,191.3h0.01M52.7,196.1h0.01M53.0,196.9h0.01M53.4,194.7h0.01M53.8,193.3h0.01M54.2,192.2h0.01M54.5,192.6h0.01M54.9,196.2h0.01M55.3,194.3h0.01M55.7,196.0h0.01M56.0,194.8h0.01M56.4,197.1h0.01M56.8,192.7h0.01M57.2,190.7h0.01M57.5,198.3h0.01M57.9,193.4h0.01M58.3,189.5h0.01M58.7,189.7h0.01M59.0,188.1h0.01M59.4,185.8h0.01M59.8,184.9h0.01M60.2,183.3h0.01M60.6,183.4h0.01M60.9,186.2h0.01M61.3,187.1h0.01M61.7,179.9h0.01M62.1,178.3h0.01M62.4,180.5h0.01M62.8,177.4h0.01M63.2,175.1h0.01M63.6,177.7h0.01M63.9,175.0h0.01M64.3,172.4h0.01M64.7,173.4h0.01M65.1,172.6h0.01M65.4,171.9h0.01M65.8,171.6h0.01M66.2,170.4h0.01M66.6,166.0h0.01M66.9,164.0h0.01M67.3,164.6h0.01M67.7,162.9h0.01M68.1,163.3h0.01M68.5,162.8h0.01M68.8,159.6h0.01M69.2,159.9h0.01M69.6,156.2h0.01M70.0,158.9h0.01M70.3,155.9h0.01M70.7,153.9h0.01M71.1,157.1h0.01M71.5,161.1h0.01M71.8,161.6h0.01M72.2,161.7h0.01M72.6,163.4h0.01M73.0,161.5h0.01M73.3,165.6h0.01M73.7,165.3h0.01M74.1,159.9h0.01M74.5,163.8h0.01M74.9,167.3h0.01M75.2,165.7h0.01M75.6,165.6h0.01M76.0,165.7h0.01M76.4,164.8h0.01M76.7,172.8h0.01M77.1,167.9h0.01M77.5,169.0h0.01M77.9,168.4h0.01M78.2,168.8h0.01M78.6,167.7h0.01M79.0,173.0h0.01M79.4,171.8h0.01M79.7,173.8h0.01M80.1,178.5h0.01M80.5,178.4h0.01M80.9,175.8h0.01M81.2,178.4h0.01M81.6,182.2h0.01M82.0,176.5h0.01M82.4,178.7h0.01M82.8,177.1h0.01M83.1,174.2h0.01M83.5,179.8h0.01M83.9,184.0h0.01M84.3,181.3h0.01M84.6,180.9h0.01M85.0,178.9h0.01M85.4,182.6h0.01M85.8,181.3h0.01M86.1,183.2h0.01M86.5,179.4h0.01M86.9,180.4h0.01M87.3,183.9h0.01M87.6,183.3h0.01M88.0,185.0h0.01M88.4,184.3h0.01M88.8,186.1h0.01M89.1,185.7h0.01M89.5,185.9h0.01M89.9,184.5h0.01M90.3,184.8h0.01M90.7,186.5h0.01M91.0,185.9h0.01M91.4,189.3h0.01M91.8,191.9h0.01M92.2,193.2h0.01M92.5,197.4h0.01M92.9,199.1h0.01M93.3,194.8h0.01M93.7,193.5h0.01M94.0,190.0h0.01M94.4,190.2h0.01M94.8,188.4h0.01M95.2,185.9h0.01M95.5,181.4h0.01M95.9,180.6h0.01M96.3,177.9h0.01M96.7,182.4h0.01M97.0,173.3h0.01M97.4,176.3h0.01M97.8,176.9h0.01M98.2,166.5h0.01M98.6,169.9h0.01M98.9,169.6h0.01M99.3,166.1h0.01M99.7,168.0h0.01M100.1,165.0h0.01M100.4,166.3h0.01M100.8,166.5h0.01M101.2,164.0h0.01M101.6,165.8h0.01M101.9,159.5h0.01M102.3,166.9h0.01M102.7,158.4h0.01M103.1,156.7h0.01M103.4,157.9h0.01M103.8,150.5h0.01M104.2,158.5h0.01M104.6,161.5h0.01M104.9,161.3h0.01M105.3,157.3h0.01M105.7,157.2h0.01M106.1,159.6h0.01M106.5,163.8h0.01M106.8,161.6h0.01M107.2,164.0h0.01M107.6,163.2h0.01M108.0,163.8h0.01M108.3,163.5h0.01M108.7,167.3h0.01M109.1,166.3h0.01M109.5,166.4h0.01M109.8,166.8h0.01M110.2,170.5h0.01M110.6,165.7h0.01M111.0,168.8h0.01M111.3,170.9h0.01M111.7,170.5h0.01M112.1,170.1h0.01M112.5,178.7h0.01M112.8,170.6h0.01M113.2,177.8h0.01M113.6,174.6h0.01M114.0,175.5h0.01M114.4,174.0h0.01M114.7,174.9h0.01M115.1,173.8h0.01M115.5,178.5h0.01M115.9,175.4h0.01M116.2,175.7h0.01M116.6,176.4h0.01M117.0,173.7h0.01M117.4,179.6h0.01M117.7,174.2h0.01M118.1,178.8h0.01M118.5,180.7h0.01M118.9,181.6h0.01M119.2,179.8h0.01M119.6,182.2h0.01M120.0,180.9h0.01M120.4,182.3h0.01M120.7,181.7h0.01M121.1,185.9h0.01M121.5,188.4h0.01M121.9,190.4h0.01M122.3,185.6h0.01M122.6,186.9h0.01M123.0,190.4h0.01M123.4,185.3h0.01M123.8,188.0h0.01M124.1,189.9h0.01M124.5,185.3h0.01M124.9,187.4h0.01M125.3,183.4h0.01M125.6,183.3h0.01M126.0,183.4h0.01M126.4,187.6h0.01M126.8,189.7h0.01M127.1,185.9h0.01M127.5,188.1h0.01M127.9,186.4h0.01M128.3,182.5h0.01M128.7,182.3h0.01M129.0,179.0h0.01M129.4,177.9h0.01M129.8,180.2h0.01M130.2,177.9h0.01M130.5,182.5h0.01M130.9,180.9h0.01M131.3,176.9h0.01M131.7,173.0h0.01M132.0,173.2h0.01M132.4,174.6h0.01M132.8,170.6h0.01M133.2,176.3h0.01M133.5,169.9h0.01M133.9,171.6h0.01M134.3,167.1h0.01M134.7,163.2h0.01M135.0,168.3h0.01M135.4,167.5h0.01M135.8,167.6h0.01M136.2,165.0h0.01M136.6,166.1h0.01M136.9,166.0h0.01M137.3,167.2h0.01M137.7,162.0h0.01M138.1,166.1h0.01M138.4,166.9h0.01M138.8,165.9h0.01M139.2,164.0h0.01M139.6,164.4h0.01M139.9,163.2h0.01M140.3,162.9h0.01M140.7,164.5h0.01M141.1,168.5h0.01M141.4,160.0h0.01M141.8,168.5h0.01M142.2,162.3h0.01M142.6,161.3h0.01M142.9,168.0h0.01M143.3,166.7h0.01M143.7,167.1h0.01M144.1,169.0h0.01M144.5,168.1h0.01M144.8,165.5h0.01M145.2,166.4h0.01M145.6,169.1h0.01M146.0,171.2h0.01M146.3,170.6h0.01M146.7,170.9h0.01M147.1,168.7h0.01M147.5,170.6h0.01M147.8,174.3h0.01M148.2,170.9h0.01M148.6,171.2h0.01M149.0,172.7h0.01M149.3,181.2h0.01M149.7,173.0h0.01M150.1,174.7h0.01M150.5,177.6h0.01M150.8,177.7h0.01M151.2,180.5h0.01M151.6,174.9h0.01M152.0,179.7h0.01M152.4,179.1h0.01M152.7,179.7h0.01M153.1,180.6h0.01M153.5,179.6h0.01M153.9,185.0h0.01M154.2,182.9h0.01M154.6,185.7h0.01M155.0,185.5h0.01M155.4,181.3h0.01M155.7,185.1h0.01M156.1,191.3h0.01M156.5,186.7h0.01M156.9,186.4h0.01M157.2,188.4h0.01M157.6,193.1h0.01M158.0,189.2h0.01M158.4,194.1h0.01M158.7,189.8h0.01M159.1,189.4h0.01M159.5,189.8h0.01M159.9,191.3h0.01M160.3,185.4h0.01M160.6,183.5h0.01M161.0,190.6h0.01M161.4,188.6h0.01M161.8,187.3h0.01M162.1,184.6h0.01M162.5,185.3h0.01M162.9,183.8h0.01M163.3,180.7h0.01M163.6,178.0h0.01M164.0,181.5h0.01M164.4,177.9h0.01M164.8,180.0h0.01M165.1,175.1h0.01M165.5,176.6h0.01M165.9,176.2h0.01M166.3,181.0h0.01M166.6,176.6h0.01M167.0,170.3h0.01M167.4,176.9h0.01M167.8,173.1h0.01M168.2,175.0h0.01M168.5,169.0h0.01M168.9,171.8h0.01M169.3,169.5h0.01M169.7,168.5h0.01M170.0,165.5h0.01M170.4,171.3h0.01M170.8,162.2h0.01M171.2,164.0h0.01M171.5,165.8h0.01M171.9,168.8h0.01M172.3,166.8h0.01M172.7,164.3h0.01M173.0,164.8h0.01M173.4,166.4h0.01M173.8,165.3h0.01M174.2,166.1h0.01M174.5,165.6h0.01M174.9,164.1h0.01M175.3,168.7h0.01M175.7,165.2h0.01M176.1,164.6h0.01M176.4,166.8h0.01M176.8,164.4h0.01M177.2,164.8h0.01M177.6,165.9h0.01M177.9,167.2h0.01M178.3,164.5h0.01M178.7,164.5h0.01M179.1,167.2h0.01M179.4,173.2h0.01M179.8,170.3h0.01M180.2,171.7h0.01M180.6,173.2h0.01M180.9,170.7h0.01M181.3,174.0h0.01M181.7,178.3h0.01M182.1,175.4h0.01M182.4,173.4h0.01M182.8,172.7h0.01M183.2,178.1h0.01M183.6,172.7h0.01M184.0,180.6h0.01M184.3,182.3h0.01M184.7,181.0h0.01M185.1,186.8h0.01M185.5,187.6h0.01M185.8,183.6h0.01M186.2,185.1h0.01M186.6,186.5h0.01M187.0,184.0h0.01M187.3,187.9h0.01M187.7,184.3h0.01M188.1,192.3h0.01M188.5,191.4h0.01M188.8,187.2h0.01M189.2,186.8h0.01M189.6,188.7h0.01M190.0,191.0h0.01M190.4,189.0h0.01M190.7,190.2h0.01M191.1,188.8h0.01M191.5,187.8h0.01M191.9,186.9h0.01M192.2,188.2h0.01M192.6,187.8h0.01M193.0,187.1h0.01M193.4,191.8h0.01M193.7,190.2h0.01M194.1,183.2h0.01M194.5,183.1h0.01M194.9,183.4h0.01M195.2,183.6h0.01M195.6,183.2h0.01M196.0,185.1h0.01M196.4,180.8h0.01M196.7,181.5h0.01M197.1,176.6h0.01M197.5,186.4h0.01M197.9,178.0h0.01M198.3,182.1h0.01M198.6,177.7h0.01M199.0,175.7h0.01M199.4,169.9h0.01M199.8,178.4h0.01M200.1,173.0h0.01M200.5,175.4h0.01M200.9,180.2h0.01M201.3,171.9h0.01M201.6,174.6h0.01M202.0,172.4h0.01M202.4,171.0h0.01M202.8,174.7h0.01M203.1,172.0h0.01M203.5,169.3h0.01M203.9,169.8h0.01M204.3,167.2h0.01M204.6,171.0h0.01M205.0,168.7h0.01M205.4,171.6h0.01M205.8,169.5h0.01M206.2,172.4h0.01M206.5,168.4h0.01M206.9,165.9h0.01M207.3,163.8h0.01M207.7,163.3h0.01M208.0,163.0h0.01M208.4,166.3h0.01M208.8,171.7h0.01M209.2,170.8h0.01M209.5,172.1h0.01M209.9,173.9h0.01M210.3,173.2h0.01M210.7,171.1h0.01M211.0,174.3h0.01M211.4,175.2h0.01M211.8,175.8h0.01M212.2,171.4h0.01M212.5,175.5h0.01M212.9,173.1h0.01M213.3,173.7h0.01" stroke="#878787" stroke-width="1.8" stroke-linecap="round" fill="none"/><polyline points="44.00,174.10 44.28,175.14 44.56,176.17 44.84,177.20 45.12,178.22 45.41,179.22 45.69,180.22 45.97,181.20 46.25,182.15 46.53,183.09 46.81,184.00 47.09,184.89 47.37,185.74 47.65,186.57 47.93,187.36 48.22,188.11 48.50,188.83 48.78,189.50 49.06,190.14 49.34,190.73 49.62,191.27 49.90,191.77 50.18,192.22 50.46,192.62 50.74,192.97 51.03,193.27 51.31,193.52 51.59,193.71 51.87,193.85 52.15,193.94 52.43,193.97 52.71,193.95 52.99,193.88 53.27,193.75 53.56,193.57 53.84,193.33 54.12,193.05 54.40,192.71 54.68,192.32 54.96,191.88 55.24,191.39 55.52,190.86 55.80,190.28 56.08,189.66 56.37,188.99 56.65,188.29 56.93,187.54 57.21,186.76 57.49,185.94 57.77,185.10 58.05,184.22 58.33,183.31 58.61,182.38 58.90,181.43 59.18,180.46 59.46,179.46 59.74,178.46 60.02,177.44 60.30,176.42 60.58,175.39 60.86,174.35 61.14,173.31 61.42,172.28 61.71,171.25 61.99,170.23 62.27,169.22 62.55,168.22 62.83,167.24 63.11,166.28 63.39,165.33 63.67,164.42 63.95,163.52 64.23,162.66 64.52,161.83 64.80,161.03 65.08,160.27 65.36,159.54 65.64,158.86 65.92,158.21 66.20,157.61 66.48,157.06 66.76,156.55 67.05,156.08 67.33,155.67 67.61,155.31 67.89,155.00 68.17,154.74 68.45,154.53 68.73,154.38 69.01,154.28 69.29,154.23 69.57,154.24 69.86,154.30 70.14,154.41 70.42,154.58 70.70,154.80 70.98,155.08 71.26,155.40 71.54,155.78 71.82,156.21 72.10,156.68 72.38,157.21 72.67,157.77 72.95,158.39 73.23,159.04 73.51,159.74 73.79,160.48 74.07,161.25 74.35,162.06 74.63,162.90 74.91,163.77 75.20,164.67 75.48,165.59 75.76,166.54 76.04,167.51 76.32,168.50 76.60,169.50 76.88,170.51 77.16,171.53 77.44,172.57 77.72,173.60 78.01,174.64 78.29,175.67 78.57,176.70 78.85,177.73 79.13,178.74 79.41,179.74 79.69,180.73 79.97,181.69 80.25,182.64 80.53,183.57 80.82,184.46 81.10,185.33 81.38,186.17 81.66,186.98 81.94,187.75 82.22,188.49 82.50,189.18 82.78,189.83 83.06,190.45 83.35,191.01 83.63,191.53 83.91,192.01 84.19,192.43 84.47,192.81 84.75,193.13 85.03,193.41 85.31,193.63 85.59,193.79 85.87,193.91 86.16,193.97 86.44,193.97 86.72,193.92 87.00,193.82 87.28,193.66 87.56,193.45 87.84,193.19 88.12,192.88 88.40,192.51 88.69,192.10 88.97,191.64 89.25,191.12 89.53,190.57 89.81,189.96 90.09,189.32 90.37,188.63 90.65,187.90 90.93,187.14 91.21,186.34 91.50,185.51 91.78,184.64 92.06,183.75 92.34,182.83 92.62,181.89 92.90,180.93 93.18,179.94 93.46,178.95 93.74,177.93 94.02,176.91 94.31,175.88 94.59,174.85 94.87,173.81 95.15,172.78 95.43,171.75 95.71,170.72 95.99,169.70 96.27,168.70 96.55,167.71 96.84,166.74 97.12,165.78 97.40,164.86 97.68,163.95 97.96,163.07 98.24,162.23 98.52,161.41 98.80,160.63 99.08,159.89 99.36,159.18 99.65,158.52 99.93,157.90 100.21,157.32 100.49,156.79 100.77,156.30 101.05,155.86 101.33,155.48 101.61,155.14 101.89,154.86 102.17,154.62 102.46,154.44 102.74,154.32 103.02,154.24 103.30,154.23 103.58,154.26 103.86,154.35 104.14,154.49 104.42,154.69 104.70,154.94 104.99,155.24 105.27,155.59 105.55,156.00 105.83,156.45 106.11,156.95 106.39,157.50 106.67,158.09 106.95,158.72 107.23,159.40 107.51,160.12 107.80,160.87 108.08,161.66 108.36,162.49 108.64,163.35 108.92,164.23 109.20,165.14 109.48,166.08 109.76,167.04 110.04,168.02 110.32,169.01 110.61,170.02 110.89,171.04 111.17,172.07 111.45,173.10 111.73,174.14 112.01,175.17 112.29,176.21 112.57,177.23 112.85,178.25 113.14,179.26 113.42,180.25 113.70,181.23 113.98,182.19 114.26,183.12 114.54,184.03 114.82,184.92 115.10,185.77 115.38,186.59 115.66,187.38 115.95,188.14 116.23,188.85 116.51,189.52 116.79,190.16 117.07,190.75 117.35,191.29 117.63,191.79 117.91,192.23 118.19,192.63 118.48,192.98 118.76,193.28 119.04,193.53 119.32,193.72 119.60,193.86 119.88,193.94 120.16,193.97 120.44,193.95 120.72,193.88 121.00,193.75 121.29,193.56 121.57,193.33 121.85,193.04 122.13,192.70 122.41,192.31 122.69,191.87 122.97,191.38 123.25,190.84 123.53,190.26 123.81,189.63 124.10,188.97 124.38,188.26 124.66,187.51 124.94,186.73 125.22,185.91 125.50,185.06 125.78,184.18 126.06,183.28 126.34,182.35 126.63,181.39 126.91,180.42 127.19,179.43 127.47,178.42 127.75,177.41 128.03,176.38 128.31,175.35 128.59,174.31 128.87,173.28 129.15,172.24 129.44,171.21 129.72,170.19 130.00,169.18 130.28,168.18 130.56,167.20 130.84,166.24 131.12,165.30 131.40,164.38 131.68,163.49 131.96,162.63 132.25,161.80 132.53,161.00 132.81,160.24 133.09,159.52 133.37,158.83 133.65,158.19 133.93,157.59 134.21,157.04 134.49,156.53 134.78,156.07 135.06,155.66 135.34,155.30 135.62,154.99 135.90,154.73 136.18,154.52 136.46,154.37 136.74,154.27 137.02,154.23 137.30,154.24 137.59,154.30 137.87,154.42 138.15,154.59 138.43,154.81 138.71,155.09 138.99,155.42 139.27,155.80 139.55,156.22 139.83,156.70 140.11,157.23 140.40,157.80 140.68,158.41 140.96,159.07 141.24,159.77 141.52,160.50 141.80,161.28 142.08,162.09 142.36,162.93 142.64,163.80 142.93,164.70 143.21,165.63 143.49,166.58 143.77,167.54 144.05,168.53 144.33,169.53 144.61,170.55 144.89,171.57 145.17,172.60 145.45,173.64 145.74,174.67 146.02,175.71 146.30,176.74 146.58,177.76 146.86,178.78 147.14,179.78 147.42,180.76 147.70,181.73 147.98,182.68 148.27,183.60 148.55,184.50 148.83,185.36 149.11,186.20 149.39,187.01 149.67,187.78 149.95,188.51 150.23,189.20 150.51,189.86 150.79,190.47 151.08,191.03 151.36,191.55 151.64,192.02 151.92,192.45 152.20,192.82 152.48,193.14 152.76,193.41 153.04,193.63 153.32,193.80 153.60,193.91 153.89,193.97 154.17,193.97 154.45,193.92 154.73,193.82 155.01,193.66 155.29,193.45 155.57,193.18 155.85,192.87 156.13,192.50 156.42,192.08 156.70,191.62 156.98,191.10 157.26,190.55 157.54,189.94 157.82,189.29 158.10,188.61 158.38,187.88 158.66,187.11 158.94,186.31 159.23,185.48 159.51,184.61 159.79,183.72 160.07,182.80 160.35,181.86 160.63,180.89 160.91,179.91 161.19,178.91 161.47,177.90 161.75,176.88 162.04,175.85 162.32,174.81 162.60,173.78 162.88,172.74 163.16,171.71 163.44,170.68 163.72,169.67 164.00,168.66 164.28,167.67 164.57,166.70 164.85,165.75 165.13,164.82 165.41,163.92 165.69,163.04 165.97,162.20 166.25,161.38 166.53,160.60 166.81,159.86 167.09,159.16 167.38,158.50 167.66,157.88 167.94,157.30 168.22,156.77 168.50,156.28 168.78,155.85 169.06,155.46 169.34,155.13 169.62,154.85 169.91,154.62 170.19,154.44 170.47,154.31 170.75,154.24 171.03,154.23 171.31,154.26 171.59,154.35 171.87,154.50 172.15,154.70 172.43,154.95 172.72,155.25 173.00,155.61 173.28,156.01 173.56,156.47 173.84,156.97 174.12,157.52 174.40,158.11 174.68,158.75 174.96,159.43 175.24,160.14 175.53,160.90 175.81,161.69 176.09,162.52 176.37,163.38 176.65,164.26 176.93,165.18 177.21,166.12 177.49,167.07 177.77,168.05 178.06,169.05 178.34,170.06 178.62,171.08 178.90,172.11 179.18,173.14 179.46,174.17 179.74,175.21 180.02,176.24 180.30,177.27 180.58,178.29 180.87,179.30 181.15,180.29 181.43,181.27 181.71,182.22 181.99,183.16 182.27,184.07 182.55,184.95 182.83,185.80 183.11,186.62 183.39,187.41 183.68,188.16 183.96,188.88 184.24,189.55 184.52,190.18 184.80,190.77 185.08,191.31 185.36,191.80 185.64,192.25 185.92,192.65 186.21,192.99 186.49,193.29 186.77,193.53 187.05,193.72 187.33,193.86 187.61,193.95 187.89,193.97 188.17,193.95 188.45,193.87 188.73,193.74 189.02,193.55 189.30,193.32 189.58,193.03 189.86,192.68 190.14,192.29 190.42,191.85 190.70,191.36 190.98,190.82 191.26,190.24 191.54,189.61 191.83,188.94 192.11,188.23 192.39,187.49 192.67,186.70 192.95,185.88 193.23,185.03 193.51,184.15 193.79,183.25 194.07,182.31 194.36,181.36 194.64,180.38 194.92,179.39 195.20,178.39 195.48,177.37 195.76,176.34 196.04,175.31 196.32,174.27 196.60,173.24 196.88,172.20 197.17,171.18 197.45,170.16 197.73,169.15 198.01,168.15 198.29,167.17 198.57,166.21 198.85,165.27 199.13,164.35 199.41,163.46 199.70,162.60 199.98,161.77 200.26,160.98 200.54,160.22 200.82,159.49 201.10,158.81 201.38,158.17 201.66,157.57 201.94,157.02 202.22,156.51 202.51,156.05 202.79,155.64 203.07,155.28 203.35,154.98 203.63,154.72 203.91,154.52 204.19,154.37 204.47,154.27 204.75,154.23 205.03,154.24 205.32,154.30 205.60,154.42 205.88,154.60 206.16,154.82 206.44,155.10 206.72,155.43 207.00,155.81 207.28,156.24 207.56,156.72 207.85,157.25 208.13,157.82 208.41,158.43 208.69,159.09 208.97,159.79 209.25,160.53 209.53,161.31 209.81,162.12 210.09,162.96 210.37,163.83 210.66,164.73 210.94,165.66 211.22,166.61 211.50,167.58 211.78,168.57 212.06,169.57 212.34,170.58 212.62,171.61" fill="none" stroke="#0000ff" stroke-width="1.3"/><polyline points="44.00,172.67 44.28,173.40 44.56,174.15 44.84,174.91 45.12,175.68 45.41,176.46 45.69,177.24 45.97,178.03 46.25,178.81 46.53,179.59 46.81,180.37 47.09,181.15 47.37,181.91 47.65,182.67 47.93,183.41 48.22,184.14 48.50,184.86 48.78,185.56 49.06,186.23 49.34,186.89 49.62,187.52 49.90,188.13 50.18,188.71 50.46,189.27 50.74,189.79 51.03,190.29 51.31,190.75 51.59,191.18 51.87,191.57 52.15,191.93 52.43,192.25 52.71,192.53 52.99,192.78 53.27,192.99 53.56,193.16 53.84,193.28 54.12,193.37 54.40,193.42 54.68,193.43 54.96,193.40 55.24,193.32 55.52,193.21 55.80,193.06 56.08,192.86 56.37,192.63 56.65,192.37 56.93,192.06 57.21,191.72 57.49,191.34 57.77,190.92 58.05,190.48 58.33,190.00 58.61,189.49 58.90,188.95 59.18,188.38 59.46,187.79 59.74,187.17 60.02,186.53 60.30,185.87 60.58,185.19 60.86,184.48 61.14,183.77 61.42,183.04 61.71,182.29 61.99,181.54 62.27,180.78 62.55,180.01 62.83,179.24 63.11,178.47 63.39,177.70 63.67,176.93 63.95,176.16 64.23,175.41 64.52,174.65 64.80,173.91 65.08,173.19 65.36,172.47 65.64,171.78 65.92,171.10 66.20,170.44 66.48,169.80 66.76,169.19 67.05,168.60 67.33,168.04 67.61,167.51 67.89,167.00 68.17,166.53 68.45,166.09 68.73,165.68 69.01,165.30 69.29,164.96 69.57,164.66 69.86,164.40 70.14,164.17 70.42,163.98 70.70,163.82 70.98,163.71 71.26,163.63 71.54,163.60 71.82,163.60 72.10,163.65 72.38,163.73 72.67,163.85 72.95,164.01 73.23,164.21 73.51,164.44 73.79,164.71 74.07,165.02 74.35,165.36 74.63,165.74 74.91,166.15 75.20,166.59 75.48,167.06 75.76,167.56 76.04,168.09 76.32,168.65 76.60,169.23 76.88,169.83 77.16,170.46 77.44,171.10 77.72,171.77 78.01,172.45 78.29,173.14 78.57,173.85 78.85,174.57 79.13,175.30 79.41,176.03 79.69,176.77 79.97,177.51 80.25,178.25 80.53,179.00 80.82,179.73 81.10,180.47 81.38,181.19 81.66,181.91 81.94,182.62 82.22,183.31 82.50,183.99 82.78,184.65 83.06,185.30 83.35,185.92 83.63,186.52 83.91,187.10 84.19,187.66 84.47,188.18 84.75,188.69 85.03,189.16 85.31,189.60 85.59,190.01 85.87,190.39 86.16,190.73 86.44,191.04 86.72,191.32 87.00,191.56 87.28,191.76 87.56,191.93 87.84,192.05 88.12,192.15 88.40,192.20 88.69,192.22 88.97,192.19 89.25,192.13 89.53,192.04 89.81,191.90 90.09,191.73 90.37,191.52 90.65,191.28 90.93,191.00 91.21,190.69 91.50,190.34 91.78,189.96 92.06,189.55 92.34,189.11 92.62,188.64 92.90,188.14 93.18,187.62 93.46,187.07 93.74,186.50 94.02,185.90 94.31,185.29 94.59,184.65 94.87,184.00 95.15,183.34 95.43,182.66 95.71,181.97 95.99,181.27 96.27,180.56 96.55,179.85 96.84,179.13 97.12,178.41 97.40,177.69 97.68,176.97 97.96,176.26 98.24,175.55 98.52,174.85 98.80,174.15 99.08,173.47 99.36,172.80 99.65,172.15 99.93,171.51 100.21,170.90 100.49,170.30 100.77,169.72 101.05,169.17 101.33,168.64 101.61,168.13 101.89,167.65 102.17,167.20 102.46,166.79 102.74,166.40 103.02,166.04 103.30,165.71 103.58,165.42 103.86,165.16 104.14,164.94 104.42,164.75 104.70,164.60 104.99,164.48 105.27,164.40 105.55,164.36 105.83,164.35 106.11,164.38 106.39,164.45 106.67,164.55 106.95,164.68 107.23,164.86 107.51,165.06 107.80,165.30 108.08,165.58 108.36,165.89 108.64,166.23 108.92,166.60 109.20,167.00 109.48,167.43 109.76,167.88 110.04,168.37 110.32,168.87 110.61,169.41 110.89,169.96 111.17,170.53 111.45,171.13 111.73,171.74 112.01,172.36 112.29,173.00 112.57,173.66 112.85,174.32 113.14,174.99 113.42,175.67 113.70,176.35 113.98,177.04 114.26,177.73 114.54,178.42 114.82,179.10 115.10,179.79 115.38,180.46 115.66,181.13 115.95,181.79 116.23,182.43 116.51,183.07 116.79,183.69 117.07,184.29 117.35,184.87 117.63,185.44 117.91,185.98 118.19,186.50 118.48,187.00 118.76,187.47 119.04,187.92 119.32,188.34 119.60,188.73 119.88,189.09 120.16,189.42 120.44,189.71 120.72,189.98 121.00,190.21 121.29,190.41 121.57,190.58 121.85,190.71 122.13,190.80 122.41,190.86 122.69,190.89 122.97,190.88 123.25,190.84 123.53,190.76 123.81,190.64 124.10,190.50 124.38,190.31 124.66,190.10 124.94,189.85 125.22,189.57 125.50,189.26 125.78,188.92 126.06,188.55 126.34,188.15 126.63,187.73 126.91,187.28 127.19,186.80 127.47,186.30 127.75,185.78 128.03,185.24 128.31,184.68 128.59,184.10 128.87,183.50 129.15,182.89 129.44,182.27 129.72,181.64 130.00,180.99 130.28,180.34 130.56,179.68 130.84,179.02 131.12,178.36 131.40,177.69 131.68,177.03 131.96,176.37 132.25,175.71 132.53,175.06 132.81,174.42 133.09,173.78 133.37,173.16 133.65,172.55 133.93,171.96 134.21,171.38 134.49,170.83 134.78,170.29 135.06,169.77 135.34,169.27 135.62,168.80 135.90,168.35 136.18,167.92 136.46,167.53 136.74,167.16 137.02,166.82 137.30,166.51 137.59,166.23 137.87,165.98 138.15,165.76 138.43,165.58 138.71,165.43 138.99,165.31 139.27,165.23 139.55,165.17 139.83,165.16 140.11,165.17 140.40,165.22 140.68,165.31 140.96,165.42 141.24,165.57 141.52,165.76 141.80,165.97 142.08,166.21 142.36,166.49 142.64,166.80 142.93,167.13 143.21,167.49 143.49,167.88 143.77,168.30 144.05,168.74 144.33,169.20 144.61,169.68 144.89,170.19 145.17,170.72 145.45,171.26 145.74,171.82 146.02,172.40 146.30,172.99 146.58,173.59 146.86,174.20 147.14,174.82 147.42,175.45 147.70,176.08 147.98,176.72 148.27,177.35 148.55,177.99 148.83,178.63 149.11,179.26 149.39,179.89 149.67,180.51 149.95,181.13 150.23,181.73 150.51,182.32 150.79,182.90 151.08,183.47 151.36,184.02 151.64,184.55 151.92,185.06 152.20,185.56 152.48,186.03 152.76,186.48 153.04,186.90 153.32,187.30 153.60,187.67 153.89,188.02 154.17,188.34 154.45,188.63 154.73,188.89 155.01,189.12 155.29,189.32 155.57,189.49 155.85,189.62 156.13,189.73 156.42,189.80 156.70,189.84 156.98,189.85 157.26,189.83 157.54,189.77 157.82,189.68 158.10,189.56 158.38,189.41 158.66,189.23 158.94,189.02 159.23,188.77 159.51,188.50 159.79,188.20 160.07,187.87 160.35,187.52 160.63,187.14 160.91,186.74 161.19,186.31 161.47,185.86 161.75,185.39 162.04,184.90 162.32,184.39 162.60,183.86 162.88,183.32 163.16,182.77 163.44,182.20 163.72,181.62 164.00,181.03 164.28,180.43 164.57,179.83 164.85,179.22 165.13,178.61 165.41,177.99 165.69,177.38 165.97,176.77 166.25,176.16 166.53,175.56 166.81,174.97 167.09,174.38 167.38,173.80 167.66,173.23 167.94,172.68 168.22,172.14 168.50,171.62 168.78,171.11 169.06,170.62 169.34,170.15 169.62,169.71 169.91,169.28 170.19,168.88 170.47,168.50 170.75,168.15 171.03,167.82 171.31,167.52 171.59,167.25 171.87,167.00 172.15,166.79 172.43,166.60 172.72,166.45 173.00,166.32 173.28,166.23 173.56,166.16 173.84,166.13 174.12,166.13 174.40,166.15 174.68,166.21 174.96,166.30 175.24,166.42 175.53,166.58 175.81,166.76 176.09,166.96 176.37,167.20 176.65,167.47 176.93,167.76 177.21,168.08 177.49,168.42 177.77,168.79 178.06,169.18 178.34,169.59 178.62,170.03 178.90,170.48 179.18,170.95 179.46,171.44 179.74,171.95 180.02,172.47 180.30,173.01 180.58,173.55 180.87,174.11 181.15,174.67 181.43,175.25 181.71,175.82 181.99,176.40 182.27,176.99 182.55,177.58 182.83,178.16 183.11,178.74 183.39,179.32 183.68,179.90 183.96,180.46 184.24,181.02 184.52,181.57 184.80,182.11 185.08,182.64 185.36,183.15 185.64,183.65 185.92,184.13 186.21,184.59 186.49,185.03 186.77,185.45 187.05,185.85 187.33,186.23 187.61,186.59 187.89,186.92 188.17,187.23 188.45,187.51 188.73,187.76 189.02,187.99 189.30,188.18 189.58,188.36 189.86,188.50 190.14,188.61 190.42,188.69 190.70,188.75 190.98,188.77 191.26,188.76 191.54,188.73 191.83,188.67 192.11,188.57 192.39,188.45 192.67,188.30 192.95,188.12 193.23,187.91 193.51,187.68 193.79,187.42 194.07,187.13 194.36,186.82 194.64,186.49 194.92,186.13 195.20,185.75 195.48,185.35 195.76,184.93 196.04,184.50 196.32,184.04 196.60,183.57 196.88,183.08 197.17,182.58 197.45,182.07 197.73,181.55 198.01,181.01 198.29,180.47 198.57,179.92 198.85,179.37 199.13,178.82 199.41,178.26 199.70,177.70 199.98,177.14 200.26,176.59 200.54,176.03 200.82,175.49 201.10,174.95 201.38,174.42 201.66,173.89 201.94,173.38 202.22,172.89 202.51,172.40 202.79,171.93 203.07,171.48 203.35,171.04 203.63,170.62 203.91,170.22 204.19,169.85 204.47,169.49 204.75,169.16 205.03,168.85 205.32,168.56 205.60,168.30 205.88,168.06 206.16,167.85 206.44,167.67 206.72,167.51 207.00,167.39 207.28,167.28 207.56,167.21 207.85,167.17 208.13,167.15 208.41,167.16 208.69,167.20 208.97,167.27 209.25,167.36 209.53,167.49 209.81,167.64 210.09,167.81 210.37,168.01 210.66,168.24 210.94,168.49 211.22,168.77 211.50,169.07 211.78,169.39 212.06,169.74 212.34,170.10 212.62,170.48" fill="none" stroke="#000" stroke-width="1.25"/><path d="M37.30,134.35V213.85M34.10,213.85H37.30M34.10,193.97H37.30M34.10,174.10H37.30M34.10,154.22H37.30M34.10,134.35H37.30M44.00,217.30H213.30M44.00,217.30V220.50M77.86,217.30V220.50M111.72,217.30V220.50M145.58,217.30V220.50M179.44,217.30V220.50M213.30,217.30V220.50" stroke="#000" stroke-width="1.2" fill="none"/><text transform="translate(32.70,217.20) scale(1.005,1)" font-size="8.6" text-anchor="end">0</text><text transform="translate(32.70,197.32) scale(1.005,1)" font-size="8.6" text-anchor="end">1</text><text transform="translate(32.70,177.45) scale(1.005,1)" font-size="8.6" text-anchor="end">2</text><text transform="translate(32.70,157.57) scale(1.005,1)" font-size="8.6" text-anchor="end">3</text><text transform="translate(32.70,137.70) scale(1.005,1)" font-size="8.6" text-anchor="end">4</text><text transform="translate(44.00,230.60) scale(1.005,1)" font-size="8.6" text-anchor="middle">0</text><text transform="translate(77.86,230.60) scale(1.005,1)" font-size="8.6" text-anchor="middle">5</text><text transform="translate(111.72,230.60) scale(1.005,1)" font-size="8.6" text-anchor="middle">10</text><text transform="translate(145.58,230.60) scale(1.005,1)" font-size="8.6" text-anchor="middle">15</text><text transform="translate(179.44,230.60) scale(1.005,1)" font-size="8.6" text-anchor="middle">20</text><text transform="translate(213.30,230.60) scale(1.005,1)" font-size="8.6" text-anchor="middle">25</text><text transform="translate(8.70,174.10) scale(1.04,1) rotate(-90)" font-size="9.85" text-anchor="middle">Response in D</text><clipPath id="cl1"><rect x="0" y="124.35" width="219.6" height="30"/></clipPath><g clip-path="url(#cl1)"><text transform="translate(44.90,140.65) scale(1.047,1)" font-size="8.25" text-anchor="start">Observer: s01; condition: 0.2 Hz; repetition: 2</text></g><line x1="277.30" y1="213.85" x2="446.50" y2="213.85" stroke="#d9d9d9" stroke-width="0.9"/><line x1="277.30" y1="193.97" x2="446.50" y2="193.97" stroke="#d9d9d9" stroke-width="0.9"/><line x1="277.30" y1="174.10" x2="446.50" y2="174.10" stroke="#d9d9d9" stroke-width="0.9"/><line x1="277.30" y1="154.22" x2="446.50" y2="154.22" stroke="#d9d9d9" stroke-width="0.9"/><g fill="#fff" stroke="#000" stroke-width="0.8"><circle cx="277.30" cy="150.85" r="1.55"/><circle cx="280.68" cy="151.50" r="1.55"/><circle cx="284.07" cy="152.11" r="1.55"/><circle cx="287.45" cy="152.72" r="1.55"/><circle cx="290.84" cy="153.36" r="1.55"/><circle cx="294.22" cy="154.06" r="1.55"/><circle cx="297.60" cy="154.86" r="1.55"/><circle cx="300.99" cy="155.77" r="1.55"/><circle cx="304.37" cy="156.72" r="1.55"/><circle cx="307.76" cy="157.70" r="1.55"/><circle cx="311.14" cy="158.71" r="1.55"/><circle cx="314.52" cy="159.73" r="1.55"/><circle cx="317.91" cy="160.77" r="1.55"/><circle cx="321.29" cy="161.82" r="1.55"/><circle cx="324.68" cy="162.87" r="1.55"/><circle cx="328.06" cy="163.93" r="1.55"/><circle cx="331.44" cy="164.99" r="1.55"/><circle cx="334.83" cy="166.05" r="1.55"/><circle cx="338.21" cy="167.09" r="1.55"/><circle cx="341.60" cy="168.12" r="1.55"/><circle cx="344.98" cy="169.13" r="1.55"/><circle cx="348.36" cy="170.13" r="1.55"/><circle cx="351.75" cy="171.12" r="1.55"/><circle cx="355.13" cy="172.10" r="1.55"/><circle cx="358.52" cy="173.08" r="1.55"/><circle cx="361.90" cy="174.05" r="1.55"/><circle cx="365.28" cy="175.02" r="1.55"/><circle cx="368.67" cy="175.99" r="1.55"/><circle cx="372.05" cy="176.96" r="1.55"/><circle cx="375.44" cy="177.92" r="1.55"/><circle cx="378.82" cy="178.90" r="1.55"/><circle cx="382.20" cy="179.87" r="1.55"/><circle cx="385.59" cy="180.85" r="1.55"/><circle cx="388.97" cy="181.83" r="1.55"/><circle cx="392.36" cy="182.82" r="1.55"/><circle cx="395.74" cy="183.82" r="1.55"/><circle cx="399.12" cy="184.83" r="1.55"/><circle cx="402.51" cy="185.85" r="1.55"/><circle cx="405.89" cy="186.88" r="1.55"/><circle cx="409.28" cy="187.92" r="1.55"/><circle cx="412.66" cy="188.96" r="1.55"/><circle cx="416.04" cy="190.01" r="1.55"/><circle cx="419.43" cy="191.06" r="1.55"/><circle cx="422.81" cy="192.12" r="1.55"/><circle cx="426.20" cy="193.18" r="1.55"/><circle cx="429.58" cy="194.24" r="1.55"/><circle cx="432.96" cy="195.31" r="1.55"/><circle cx="436.35" cy="196.37" r="1.55"/><circle cx="439.73" cy="197.43" r="1.55"/><circle cx="443.12" cy="198.49" r="1.55"/><circle cx="446.50" cy="199.54" r="1.55"/></g><polyline points="277.30,150.85 298.96,155.22" fill="none" stroke="#ff0000" stroke-width="1.1"/><polyline points="298.96,155.22 446.50,199.54" fill="none" stroke="#0000ff" stroke-width="1.1"/><path d="M270.60,134.35V213.85M267.40,213.85H270.60M267.40,193.97H270.60M267.40,174.10H270.60M267.40,154.22H270.60M267.40,134.35H270.60M277.30,217.30H446.50M277.30,217.30V220.50M311.14,217.30V220.50M344.98,217.30V220.50M378.82,217.30V220.50M412.66,217.30V220.50M446.50,217.30V220.50" stroke="#000" stroke-width="1.2" fill="none"/><text transform="translate(266.00,217.20) scale(1.005,1)" font-size="8.6" text-anchor="end">0.45</text><text transform="translate(266.00,197.32) scale(1.005,1)" font-size="8.6" text-anchor="end">0.55</text><text transform="translate(266.00,177.45) scale(1.005,1)" font-size="8.6" text-anchor="end">0.65</text><text transform="translate(266.00,157.57) scale(1.005,1)" font-size="8.6" text-anchor="end">0.75</text><text transform="translate(266.00,137.70) scale(1.005,1)" font-size="8.6" text-anchor="end">0.85</text><text transform="translate(277.30,230.60) scale(1.005,1)" font-size="8.6" text-anchor="middle">0</text><text transform="translate(311.14,230.60) scale(1.005,1)" font-size="8.6" text-anchor="middle">5</text><text transform="translate(344.98,230.60) scale(1.005,1)" font-size="8.6" text-anchor="middle">10</text><text transform="translate(378.82,230.60) scale(1.005,1)" font-size="8.6" text-anchor="middle">15</text><text transform="translate(412.66,230.60) scale(1.005,1)" font-size="8.6" text-anchor="middle">20</text><text transform="translate(446.50,230.60) scale(1.005,1)" font-size="8.6" text-anchor="middle">25</text><text transform="translate(242.00,174.10) scale(1.04,1) rotate(-90)" font-size="9.85" text-anchor="middle">Amplitude in D</text><text transform="translate(361.90,251.80) scale(0.99,1)" font-size="10.3" text-anchor="middle">Time in s</text><text transform="translate(361.50,142.95) scale(0.917,1)" font-size="9.5" text-anchor="middle"><tspan font-style="italic">R</tspan><tspan font-size="5.6" dy="-4.0">2</tspan><tspan dy="4.0"> linear = 100 %; </tspan><tspan font-style="italic">R</tspan><tspan font-size="5.6" dy="-4.0">2</tspan><tspan dy="4.0"> segmented = 100 %</tspan></text><line x1="510.40" y1="213.85" x2="679.40" y2="213.85" stroke="#d9d9d9" stroke-width="0.9"/><line x1="510.40" y1="193.97" x2="679.40" y2="193.97" stroke="#d9d9d9" stroke-width="0.9"/><line x1="510.40" y1="174.10" x2="679.40" y2="174.10" stroke="#d9d9d9" stroke-width="0.9"/><line x1="510.40" y1="154.22" x2="679.40" y2="154.22" stroke="#d9d9d9" stroke-width="0.9"/><g fill="#fff" stroke="#000" stroke-width="0.8"><circle cx="510.40" cy="177.64" r="1.55"/><circle cx="513.78" cy="177.50" r="1.55"/><circle cx="517.16" cy="177.36" r="1.55"/><circle cx="520.54" cy="177.22" r="1.55"/><circle cx="523.92" cy="177.08" r="1.55"/><circle cx="527.30" cy="176.94" r="1.55"/><circle cx="530.68" cy="176.81" r="1.55"/><circle cx="534.06" cy="176.67" r="1.55"/><circle cx="537.44" cy="176.53" r="1.55"/><circle cx="540.82" cy="176.39" r="1.55"/><circle cx="544.20" cy="176.25" r="1.55"/><circle cx="547.58" cy="176.11" r="1.55"/><circle cx="550.96" cy="175.97" r="1.55"/><circle cx="554.34" cy="175.83" r="1.55"/><circle cx="557.72" cy="175.69" r="1.55"/><circle cx="561.10" cy="175.55" r="1.55"/><circle cx="564.48" cy="175.41" r="1.55"/><circle cx="567.86" cy="175.27" r="1.55"/><circle cx="571.24" cy="175.14" r="1.55"/><circle cx="574.62" cy="175.00" r="1.55"/><circle cx="578.00" cy="174.86" r="1.55"/><circle cx="581.38" cy="174.72" r="1.55"/><circle cx="584.76" cy="174.59" r="1.55"/><circle cx="588.14" cy="174.44" r="1.55"/><circle cx="591.52" cy="174.30" r="1.55"/><circle cx="594.90" cy="174.15" r="1.55"/><circle cx="598.28" cy="174.01" r="1.55"/><circle cx="601.66" cy="173.85" r="1.55"/><circle cx="605.04" cy="173.69" r="1.55"/><circle cx="608.42" cy="173.53" r="1.55"/><circle cx="611.80" cy="173.36" r="1.55"/><circle cx="615.18" cy="173.19" r="1.55"/><circle cx="618.56" cy="173.01" r="1.55"/><circle cx="621.94" cy="172.82" r="1.55"/><circle cx="625.32" cy="172.64" r="1.55"/><circle cx="628.70" cy="172.45" r="1.55"/><circle cx="632.08" cy="172.26" r="1.55"/><circle cx="635.46" cy="172.07" r="1.55"/><circle cx="638.84" cy="171.88" r="1.55"/><circle cx="642.22" cy="171.70" r="1.55"/><circle cx="645.60" cy="171.52" r="1.55"/><circle cx="648.98" cy="171.34" r="1.55"/><circle cx="652.36" cy="171.16" r="1.55"/><circle cx="655.74" cy="170.99" r="1.55"/><circle cx="659.12" cy="170.81" r="1.55"/><circle cx="662.50" cy="170.64" r="1.55"/><circle cx="665.88" cy="170.46" r="1.55"/><circle cx="669.26" cy="170.29" r="1.55"/><circle cx="672.64" cy="170.12" r="1.55"/><circle cx="676.02" cy="169.94" r="1.55"/><circle cx="679.40" cy="169.77" r="1.55"/></g><polyline points="510.40,177.64 605.72,173.66" fill="none" stroke="#ff0000" stroke-width="1.1"/><polyline points="605.72,173.66 679.40,169.77" fill="none" stroke="#0000ff" stroke-width="1.1"/><path d="M503.70,134.35V213.85M500.50,213.85H503.70M500.50,193.97H503.70M500.50,174.10H503.70M500.50,154.22H503.70M500.50,134.35H503.70M510.40,217.30H679.40M510.40,217.30V220.50M544.20,217.30V220.50M578.00,217.30V220.50M611.80,217.30V220.50M645.60,217.30V220.50M679.40,217.30V220.50" stroke="#000" stroke-width="1.2" fill="none"/><text transform="translate(499.10,217.20) scale(1.005,1)" font-size="8.6" text-anchor="end">−0.6</text><text transform="translate(499.10,197.32) scale(1.005,1)" font-size="8.6" text-anchor="end">−0.1</text><text transform="translate(499.10,177.45) scale(1.005,1)" font-size="8.6" text-anchor="end">0.4</text><text transform="translate(499.10,157.57) scale(1.005,1)" font-size="8.6" text-anchor="end">0.9</text><text transform="translate(499.10,137.70) scale(1.005,1)" font-size="8.6" text-anchor="end">1.4</text><text transform="translate(510.40,230.60) scale(1.005,1)" font-size="8.6" text-anchor="middle">0</text><text transform="translate(544.20,230.60) scale(1.005,1)" font-size="8.6" text-anchor="middle">5</text><text transform="translate(578.00,230.60) scale(1.005,1)" font-size="8.6" text-anchor="middle">10</text><text transform="translate(611.80,230.60) scale(1.005,1)" font-size="8.6" text-anchor="middle">15</text><text transform="translate(645.60,230.60) scale(1.005,1)" font-size="8.6" text-anchor="middle">20</text><text transform="translate(679.40,230.60) scale(1.005,1)" font-size="8.6" text-anchor="middle">25</text><text transform="translate(475.10,174.10) scale(1.04,1) rotate(-90)" font-size="9.85" text-anchor="middle">Phase in s</text><text transform="translate(594.50,142.95) scale(0.917,1)" font-size="9.5" text-anchor="middle"><tspan font-style="italic">R</tspan><tspan font-size="5.6" dy="-4.0">2</tspan><tspan dy="4.0"> linear = 99 %; </tspan><tspan font-style="italic">R</tspan><tspan font-size="5.6" dy="-4.0">2</tspan><tspan dy="4.0"> segmented = 100 %</tspan></text><line x1="44.00" y1="343.20" x2="213.30" y2="343.20" stroke="#d9d9d9" stroke-width="0.9"/><line x1="44.00" y1="323.32" x2="213.30" y2="323.32" stroke="#d9d9d9" stroke-width="0.9"/><line x1="44.00" y1="303.45" x2="213.30" y2="303.45" stroke="#d9d9d9" stroke-width="0.9"/><line x1="44.00" y1="283.57" x2="213.30" y2="283.57" stroke="#d9d9d9" stroke-width="0.9"/><path d="M44.0,310.2h0.01M44.2,311.1h0.01M44.4,312.6h0.01M44.6,310.5h0.01M44.8,309.9h0.01M45.0,309.9h0.01M45.2,310.7h0.01M45.3,310.4h0.01M45.5,312.6h0.01M45.7,312.1h0.01M45.9,312.1h0.01M46.1,313.0h0.01M46.3,310.9h0.01M46.5,311.5h0.01M46.7,313.0h0.01M46.9,313.4h0.01M47.1,310.2h0.01M47.3,311.8h0.01M47.5,312.4h0.01M47.7,310.7h0.01M47.8,310.5h0.01M48.0,311.1h0.01M48.2,310.9h0.01M48.4,309.8h0.01M48.6,313.3h0.01M48.8,314.7h0.01M49.0,313.2h0.01M49.2,310.8h0.01M49.4,311.1h0.01M49.6,308.7h0.01M49.8,308.7h0.01M50.0,308.7h0.01M50.2,306.9h0.01M50.3,308.9h0.01M50.5,303.9h0.01M50.7,305.2h0.01M50.9,304.0h0.01M51.1,306.2h0.01M51.3,306.4h0.01M51.5,307.3h0.01M51.7,307.1h0.01M51.9,307.6h0.01M52.1,306.9h0.01M52.3,307.5h0.01M52.5,305.7h0.01M52.7,307.5h0.01M52.8,304.8h0.01M53.0,303.4h0.01M53.2,306.2h0.01M53.4,305.9h0.01M53.6,307.9h0.01M53.8,308.0h0.01M54.0,306.8h0.01M54.2,306.3h0.01M54.4,305.7h0.01M54.6,305.8h0.01M54.8,305.6h0.01M55.0,305.4h0.01M55.2,304.8h0.01M55.4,305.4h0.01M55.5,306.4h0.01M55.7,306.6h0.01M55.9,307.5h0.01M56.1,305.1h0.01M56.3,308.5h0.01M56.5,304.2h0.01M56.7,306.3h0.01M56.9,305.1h0.01M57.1,305.0h0.01M57.3,304.9h0.01M57.5,305.9h0.01M57.7,307.2h0.01M57.9,305.3h0.01M58.0,306.4h0.01M58.2,303.8h0.01M58.4,305.3h0.01M58.6,303.8h0.01M58.8,305.2h0.01M59.0,304.2h0.01M59.2,302.6h0.01M59.4,304.1h0.01M59.6,302.5h0.01M59.8,303.6h0.01M60.0,304.9h0.01M60.2,301.6h0.01M60.4,303.7h0.01M60.5,302.9h0.01M60.7,300.7h0.01M60.9,302.2h0.01M61.1,300.8h0.01M61.3,301.9h0.01M61.5,302.4h0.01M61.7,300.3h0.01M61.9,301.4h0.01M62.1,299.8h0.01M62.3,301.0h0.01M62.5,303.0h0.01M62.7,302.6h0.01M62.9,300.5h0.01M63.0,301.1h0.01M63.2,302.6h0.01M63.4,302.3h0.01M63.6,302.1h0.01M63.8,301.0h0.01M64.0,300.2h0.01M64.2,298.3h0.01M64.4,297.7h0.01M64.6,300.6h0.01M64.8,299.6h0.01M65.0,302.3h0.01M65.2,299.3h0.01M65.4,302.6h0.01M65.5,302.4h0.01M65.7,304.6h0.01M65.9,301.4h0.01M66.1,303.0h0.01M66.3,302.1h0.01M66.5,304.4h0.01M66.7,300.7h0.01M66.9,300.5h0.01M67.1,300.8h0.01M67.3,297.8h0.01M67.5,298.4h0.01M67.7,296.9h0.01M67.9,300.0h0.01M68.0,298.7h0.01M68.2,301.5h0.01M68.4,300.7h0.01M68.6,303.9h0.01M68.8,304.5h0.01M69.0,303.0h0.01M69.2,305.2h0.01M69.4,305.3h0.01M69.6,302.4h0.01M69.8,304.2h0.01M70.0,303.7h0.01M70.2,304.9h0.01M70.4,302.2h0.01M70.5,304.6h0.01M70.7,303.8h0.01M70.9,305.1h0.01M71.1,303.8h0.01M71.3,304.8h0.01M71.5,303.6h0.01M71.7,303.5h0.01M71.9,301.1h0.01M72.1,302.4h0.01M72.3,300.0h0.01M72.5,301.4h0.01M72.7,302.2h0.01M72.9,302.9h0.01M73.1,303.3h0.01M73.2,303.3h0.01M73.4,300.9h0.01M73.6,302.9h0.01M73.8,300.8h0.01M74.0,302.3h0.01M74.2,301.5h0.01M74.4,303.6h0.01M74.6,302.0h0.01M74.8,305.2h0.01M75.0,303.9h0.01M75.2,304.5h0.01M75.4,305.2h0.01M75.6,307.3h0.01M75.7,307.0h0.01M75.9,305.6h0.01M76.1,308.7h0.01M76.3,307.8h0.01M76.5,310.3h0.01M76.7,307.4h0.01M76.9,310.4h0.01M77.1,308.4h0.01M77.3,308.9h0.01M77.5,307.2h0.01M77.7,308.9h0.01M77.9,306.3h0.01M78.1,307.6h0.01M78.2,308.6h0.01M78.4,308.0h0.01M78.6,306.0h0.01M78.8,305.8h0.01M79.0,305.9h0.01M79.2,306.0h0.01M79.4,307.4h0.01M79.6,306.1h0.01M79.8,307.6h0.01M80.0,308.1h0.01M80.2,307.5h0.01M80.4,309.6h0.01M80.6,307.1h0.01M80.7,307.7h0.01M80.9,306.5h0.01M81.1,309.4h0.01M81.3,306.9h0.01M81.5,305.7h0.01M81.7,305.9h0.01M81.9,309.5h0.01M82.1,307.4h0.01M82.3,307.4h0.01M82.5,306.9h0.01M82.7,307.4h0.01M82.9,308.3h0.01M83.1,306.9h0.01M83.2,308.4h0.01M83.4,307.6h0.01M83.6,309.1h0.01M83.8,312.2h0.01M84.0,310.2h0.01M84.2,309.9h0.01M84.4,311.1h0.01M84.6,311.0h0.01M84.8,306.3h0.01M85.0,307.5h0.01M85.2,310.1h0.01M85.4,311.2h0.01M85.6,310.3h0.01M85.7,312.5h0.01M85.9,311.3h0.01M86.1,308.5h0.01M86.3,308.7h0.01M86.5,312.0h0.01M86.7,308.7h0.01M86.9,311.1h0.01M87.1,310.9h0.01M87.3,306.9h0.01M87.5,307.9h0.01M87.7,310.8h0.01M87.9,311.0h0.01M88.1,310.8h0.01M88.2,310.6h0.01M88.4,313.3h0.01M88.6,313.0h0.01M88.8,312.1h0.01M89.0,312.1h0.01M89.2,312.4h0.01M89.4,310.7h0.01M89.6,312.2h0.01M89.8,312.8h0.01M90.0,314.6h0.01M90.2,313.7h0.01M90.4,312.7h0.01M90.6,310.9h0.01M90.7,313.2h0.01M90.9,311.2h0.01M91.1,314.7h0.01M91.3,314.3h0.01M91.5,311.5h0.01M91.7,311.0h0.01M91.9,313.3h0.01M92.1,311.1h0.01M92.3,311.7h0.01M92.5,312.9h0.01M92.7,311.2h0.01M92.9,314.2h0.01M93.1,312.8h0.01M93.3,311.0h0.01M93.4,314.3h0.01M93.6,314.7h0.01M93.8,316.4h0.01M94.0,315.5h0.01M94.2,315.9h0.01M94.4,316.3h0.01M94.6,317.3h0.01M94.8,317.5h0.01M95.0,317.1h0.01M95.2,314.0h0.01M95.4,316.2h0.01M95.6,315.7h0.01M95.8,315.0h0.01M95.9,315.8h0.01M96.1,316.2h0.01M96.3,312.5h0.01M96.5,317.5h0.01M96.7,318.3h0.01M96.9,315.4h0.01M97.1,317.1h0.01M97.3,316.6h0.01M97.5,317.8h0.01M97.7,317.5h0.01M97.9,316.9h0.01M98.1,318.7h0.01M98.3,319.8h0.01M98.4,320.6h0.01M98.6,320.3h0.01M98.8,320.5h0.01M99.0,321.0h0.01M99.2,319.4h0.01M99.4,321.3h0.01M99.6,320.8h0.01M99.8,318.4h0.01M100.0,318.8h0.01M100.2,318.9h0.01M100.4,318.3h0.01M100.6,319.1h0.01M100.8,318.7h0.01M100.9,319.5h0.01M101.1,318.7h0.01M101.3,318.9h0.01M101.5,318.9h0.01M101.7,319.4h0.01M101.9,319.4h0.01M102.1,318.0h0.01M102.3,317.1h0.01M102.5,318.5h0.01M102.7,317.6h0.01M102.9,316.7h0.01M103.1,320.0h0.01M103.3,320.0h0.01M103.4,318.9h0.01M103.6,322.3h0.01M103.8,319.6h0.01M104.0,320.1h0.01M104.2,319.9h0.01M104.4,319.3h0.01M104.6,319.7h0.01M104.8,323.0h0.01M105.0,317.3h0.01M105.2,321.5h0.01M105.4,321.8h0.01M105.6,319.8h0.01M105.8,323.4h0.01M105.9,320.6h0.01M106.1,321.6h0.01M106.3,321.0h0.01M106.5,324.9h0.01M106.7,320.2h0.01M106.9,324.4h0.01M107.1,324.5h0.01M107.3,323.0h0.01M107.5,321.6h0.01M107.7,323.9h0.01M107.9,321.6h0.01M108.1,325.2h0.01M108.3,323.6h0.01M108.4,322.1h0.01M108.6,322.6h0.01M108.8,324.5h0.01M109.0,321.8h0.01M109.2,323.2h0.01M109.4,322.5h0.01M109.6,321.7h0.01M109.8,323.6h0.01M110.0,322.4h0.01M110.2,322.4h0.01M110.4,322.3h0.01M110.6,322.7h0.01M110.8,323.9h0.01M111.0,322.6h0.01M111.1,324.6h0.01M111.3,322.7h0.01M111.5,322.4h0.01M111.7,323.4h0.01M111.9,324.4h0.01M112.1,324.1h0.01M112.3,321.9h0.01M112.5,320.5h0.01M112.7,321.5h0.01M112.9,321.7h0.01M113.1,321.8h0.01M113.3,322.1h0.01M113.5,323.4h0.01M113.6,324.5h0.01M113.8,323.4h0.01M114.0,324.2h0.01M114.2,321.0h0.01M114.4,324.9h0.01M114.6,322.1h0.01M114.8,324.3h0.01M115.0,323.6h0.01M115.2,324.3h0.01M115.4,326.0h0.01M115.6,325.4h0.01M115.8,326.8h0.01M116.0,324.3h0.01M116.1,326.4h0.01M116.3,326.2h0.01M116.5,323.2h0.01M116.7,328.0h0.01M116.9,324.7h0.01M117.1,324.4h0.01M117.3,323.9h0.01M117.5,325.5h0.01M117.7,324.9h0.01M117.9,324.8h0.01M118.1,326.7h0.01M118.3,325.9h0.01M118.5,323.5h0.01M118.6,323.4h0.01M118.8,325.1h0.01M119.0,325.8h0.01M119.2,324.9h0.01M119.4,327.3h0.01M119.6,324.8h0.01M119.8,324.3h0.01M120.0,324.6h0.01M120.2,326.7h0.01M120.4,323.3h0.01M120.6,323.2h0.01M120.8,321.3h0.01M121.0,322.8h0.01M121.1,324.1h0.01M121.3,324.2h0.01M121.5,324.2h0.01M121.7,325.3h0.01M121.9,321.9h0.01M122.1,323.5h0.01M122.3,324.6h0.01M122.5,323.9h0.01M122.7,325.7h0.01M122.9,326.9h0.01M123.1,323.8h0.01M123.3,324.0h0.01M123.5,323.2h0.01M123.6,324.9h0.01M123.8,323.3h0.01M124.0,327.3h0.01M124.2,324.5h0.01M124.4,326.6h0.01M124.6,324.6h0.01M124.8,323.9h0.01M125.0,323.5h0.01M125.2,322.2h0.01M125.4,320.7h0.01M125.6,319.8h0.01M125.8,321.8h0.01M126.0,321.8h0.01M126.1,321.7h0.01M126.3,322.1h0.01M126.5,323.0h0.01M126.7,320.8h0.01M126.9,321.9h0.01M127.1,321.5h0.01M127.3,324.2h0.01M127.5,319.4h0.01M127.7,319.8h0.01M127.9,321.0h0.01M128.1,320.0h0.01M128.3,319.2h0.01M128.5,318.3h0.01M128.7,318.9h0.01M128.8,318.7h0.01M129.0,316.9h0.01M129.2,317.2h0.01M129.4,314.3h0.01M129.6,316.6h0.01M129.8,316.3h0.01M130.0,318.0h0.01M130.2,318.3h0.01M130.4,316.7h0.01M130.6,313.7h0.01M130.8,315.5h0.01M131.0,316.1h0.01M131.2,316.2h0.01M131.3,312.6h0.01M131.5,312.3h0.01M131.7,309.8h0.01M131.9,315.1h0.01M132.1,313.0h0.01M132.3,313.8h0.01M132.5,310.4h0.01M132.7,312.4h0.01M132.9,311.6h0.01M133.1,311.0h0.01M133.3,310.7h0.01M133.5,312.0h0.01M133.7,311.6h0.01M133.8,310.7h0.01M134.0,311.6h0.01M134.2,311.0h0.01M134.4,309.0h0.01M134.6,307.6h0.01M134.8,310.6h0.01M135.0,310.3h0.01M135.2,309.3h0.01M135.4,311.9h0.01M135.6,310.6h0.01M135.8,310.8h0.01M136.0,311.3h0.01M136.2,313.0h0.01M136.3,311.3h0.01M136.5,309.4h0.01M136.7,307.5h0.01M136.9,307.6h0.01M137.1,307.1h0.01M137.3,307.0h0.01M137.5,304.8h0.01M137.7,308.0h0.01M137.9,306.2h0.01M138.1,305.3h0.01M138.3,305.8h0.01M138.5,303.5h0.01M138.7,303.7h0.01M138.8,304.5h0.01M139.0,304.4h0.01M139.2,304.1h0.01M139.4,304.5h0.01M139.6,300.1h0.01M139.8,302.6h0.01M140.0,304.3h0.01M140.2,303.1h0.01M140.4,301.6h0.01M140.6,304.6h0.01M140.8,306.5h0.01M141.0,304.7h0.01M141.2,304.5h0.01M141.3,303.4h0.01M141.5,304.6h0.01M141.7,300.6h0.01M141.9,300.7h0.01M142.1,302.4h0.01M142.3,305.0h0.01M142.5,304.1h0.01M142.7,305.9h0.01M142.9,303.2h0.01M143.1,304.0h0.01M143.3,307.0h0.01M143.5,305.1h0.01M143.7,303.0h0.01M143.8,304.4h0.01M144.0,302.5h0.01M144.2,302.4h0.01M144.4,304.6h0.01M144.6,305.0h0.01M144.8,305.4h0.01M145.0,303.0h0.01M145.2,302.7h0.01M145.4,302.2h0.01M145.6,302.3h0.01M145.8,301.6h0.01M146.0,303.1h0.01M146.2,301.1h0.01M146.3,300.9h0.01M146.5,301.3h0.01M146.7,299.4h0.01M146.9,301.2h0.01M147.1,302.9h0.01M147.3,301.4h0.01M147.5,300.5h0.01M147.7,298.8h0.01M147.9,303.0h0.01M148.1,299.1h0.01M148.3,299.7h0.01M148.5,300.1h0.01M148.7,298.0h0.01M148.9,301.5h0.01M149.0,298.8h0.01M149.2,298.0h0.01M149.4,296.8h0.01M149.6,298.5h0.01M149.8,297.5h0.01M150.0,298.9h0.01M150.2,300.0h0.01M150.4,298.8h0.01M150.6,299.2h0.01M150.8,296.7h0.01M151.0,299.9h0.01M151.2,301.0h0.01M151.4,299.2h0.01M151.5,297.9h0.01M151.7,297.0h0.01M151.9,295.5h0.01M152.1,296.7h0.01M152.3,296.1h0.01M152.5,298.2h0.01M152.7,296.6h0.01M152.9,296.5h0.01M153.1,297.7h0.01M153.3,298.7h0.01M153.5,297.3h0.01M153.7,297.1h0.01M153.9,299.5h0.01M154.0,300.2h0.01M154.2,300.2h0.01M154.4,301.1h0.01M154.6,298.0h0.01M154.8,299.3h0.01M155.0,299.1h0.01M155.2,298.9h0.01M155.4,295.5h0.01M155.6,297.2h0.01M155.8,296.5h0.01M156.0,294.5h0.01M156.2,295.4h0.01M156.4,297.8h0.01M156.5,299.4h0.01M156.7,299.5h0.01M156.9,300.1h0.01M157.1,299.9h0.01M157.3,300.3h0.01M157.5,297.4h0.01M157.7,299.4h0.01M157.9,299.4h0.01M158.1,300.9h0.01M158.3,301.0h0.01M158.5,299.1h0.01M158.7,301.5h0.01M158.9,299.1h0.01M159.0,300.9h0.01M159.2,302.1h0.01M159.4,300.4h0.01M159.6,301.6h0.01M159.8,301.8h0.01M160.0,300.8h0.01M160.2,301.1h0.01M160.4,301.2h0.01M160.6,301.7h0.01M160.8,302.0h0.01M161.0,300.2h0.01M161.2,300.9h0.01M161.4,300.7h0.01M161.5,299.7h0.01M161.7,298.2h0.01M161.9,297.6h0.01M162.1,300.2h0.01M162.3,297.6h0.01M162.5,298.9h0.01M162.7,301.0h0.01M162.9,297.2h0.01M163.1,302.3h0.01M163.3,300.6h0.01M163.5,302.7h0.01M163.7,299.5h0.01M163.9,300.5h0.01M164.0,301.2h0.01M164.2,301.8h0.01M164.4,301.9h0.01M164.6,302.5h0.01M164.8,302.4h0.01M165.0,302.5h0.01M165.2,302.0h0.01M165.4,304.6h0.01M165.6,303.3h0.01M165.8,304.4h0.01M166.0,305.1h0.01M166.2,303.0h0.01M166.4,303.7h0.01M166.6,301.4h0.01M166.7,304.8h0.01M166.9,301.5h0.01M167.1,301.4h0.01M167.3,302.4h0.01M167.5,301.0h0.01M167.7,304.3h0.01M167.9,302.2h0.01M168.1,305.6h0.01M168.3,303.7h0.01M168.5,301.7h0.01M168.7,302.7h0.01M168.9,302.7h0.01M169.1,301.0h0.01M169.2,302.5h0.01M169.4,303.5h0.01M169.6,301.9h0.01M169.8,300.5h0.01M170.0,301.2h0.01M170.2,302.3h0.01M170.4,304.2h0.01M170.6,304.2h0.01M170.8,305.5h0.01M171.0,305.6h0.01M171.2,306.1h0.01M171.4,305.2h0.01M171.6,307.8h0.01M171.7,306.8h0.01M171.9,306.1h0.01M172.1,304.4h0.01M172.3,303.9h0.01M172.5,307.7h0.01M172.7,308.0h0.01M172.9,306.6h0.01M173.1,304.9h0.01M173.3,306.1h0.01M173.5,305.9h0.01M173.7,306.7h0.01M173.9,300.6h0.01M174.1,302.9h0.01M174.2,303.8h0.01M174.4,304.9h0.01M174.6,302.3h0.01M174.8,305.2h0.01M175.0,305.5h0.01M175.2,308.3h0.01M175.4,306.1h0.01M175.6,307.2h0.01M175.8,306.7h0.01M176.0,306.4h0.01M176.2,307.6h0.01M176.4,307.1h0.01M176.6,306.8h0.01M176.7,304.7h0.01M176.9,307.4h0.01M177.1,308.2h0.01M177.3,306.2h0.01M177.5,309.2h0.01M177.7,308.5h0.01M177.9,311.6h0.01M178.1,309.0h0.01M178.3,310.8h0.01M178.5,310.6h0.01M178.7,309.8h0.01M178.9,310.7h0.01M179.1,310.0h0.01M179.2,309.2h0.01M179.4,313.3h0.01M179.6,310.5h0.01M179.8,310.2h0.01M180.0,308.7h0.01M180.2,311.1h0.01M180.4,309.7h0.01M180.6,308.4h0.01M180.8,307.2h0.01M181.0,310.7h0.01M181.2,310.2h0.01M181.4,312.3h0.01M181.6,309.5h0.01M181.7,310.1h0.01M181.9,309.9h0.01M182.1,312.5h0.01M182.3,311.8h0.01M182.5,312.4h0.01M182.7,310.6h0.01M182.9,311.5h0.01M183.1,311.4h0.01M183.3,315.1h0.01M183.5,309.4h0.01M183.7,313.1h0.01M183.9,311.0h0.01M184.1,313.1h0.01M184.2,308.9h0.01M184.4,309.9h0.01M184.6,310.8h0.01M184.8,309.2h0.01M185.0,307.2h0.01M185.2,309.7h0.01M185.4,310.8h0.01M185.6,311.5h0.01M185.8,311.5h0.01M186.0,310.5h0.01M186.2,312.1h0.01M186.4,312.7h0.01M186.6,309.0h0.01M186.8,309.0h0.01M186.9,311.0h0.01M187.1,310.3h0.01M187.3,312.9h0.01M187.5,313.0h0.01M187.7,314.4h0.01M187.9,314.3h0.01M188.1,311.2h0.01M188.3,310.9h0.01M188.5,310.7h0.01M188.7,310.5h0.01M188.9,308.7h0.01M189.1,307.6h0.01M189.3,308.1h0.01M189.4,309.3h0.01M189.6,309.5h0.01M189.8,310.1h0.01M190.0,310.2h0.01M190.2,309.0h0.01M190.4,311.7h0.01M190.6,309.7h0.01M190.8,309.3h0.01M191.0,309.7h0.01M191.2,310.3h0.01M191.4,310.1h0.01M191.6,311.6h0.01M191.8,311.2h0.01M191.9,313.8h0.01M192.1,313.9h0.01M192.3,311.9h0.01M192.5,313.2h0.01M192.7,312.0h0.01M192.9,313.7h0.01M193.1,312.4h0.01M193.3,312.5h0.01M193.5,313.4h0.01M193.7,314.0h0.01M193.9,315.3h0.01M194.1,314.3h0.01M194.3,314.5h0.01M194.4,314.8h0.01M194.6,312.6h0.01M194.8,314.7h0.01M195.0,314.0h0.01M195.2,311.0h0.01M195.4,309.7h0.01M195.6,311.9h0.01M195.8,316.4h0.01M196.0,315.3h0.01M196.2,313.8h0.01M196.4,314.0h0.01M196.6,311.6h0.01M196.8,311.6h0.01M196.9,312.9h0.01M197.1,313.8h0.01M197.3,315.5h0.01M197.5,313.4h0.01M197.7,316.9h0.01M197.9,317.1h0.01M198.1,314.8h0.01M198.3,317.5h0.01M198.5,315.0h0.01M198.7,313.9h0.01M198.9,315.9h0.01M199.1,317.1h0.01M199.3,318.8h0.01M199.4,317.0h0.01M199.6,315.5h0.01M199.8,316.4h0.01M200.0,315.5h0.01M200.2,317.6h0.01M200.4,315.5h0.01M200.6,318.0h0.01M200.8,314.3h0.01M201.0,317.4h0.01M201.2,315.6h0.01M201.4,317.3h0.01M201.6,316.4h0.01M201.8,318.2h0.01M201.9,317.0h0.01M202.1,317.0h0.01M202.3,319.1h0.01M202.5,318.8h0.01M202.7,319.8h0.01M202.9,317.1h0.01M203.1,317.0h0.01M203.3,317.6h0.01M203.5,318.4h0.01M203.7,317.7h0.01M203.9,316.7h0.01M204.1,317.7h0.01M204.3,316.7h0.01M204.5,316.9h0.01M204.6,317.5h0.01M204.8,319.6h0.01M205.0,317.8h0.01M205.2,317.8h0.01M205.4,316.4h0.01M205.6,316.3h0.01M205.8,318.9h0.01M206.0,319.0h0.01M206.2,319.6h0.01M206.4,317.7h0.01M206.6,317.6h0.01M206.8,318.4h0.01M207.0,317.7h0.01M207.1,315.3h0.01M207.3,317.5h0.01M207.5,318.9h0.01M207.7,315.4h0.01M207.9,311.8h0.01M208.1,314.9h0.01M208.3,313.4h0.01M208.5,316.9h0.01M208.7,314.2h0.01M208.9,315.8h0.01M209.1,315.5h0.01M209.3,314.3h0.01M209.5,317.4h0.01M209.6,314.3h0.01M209.8,314.5h0.01M210.0,315.4h0.01M210.2,316.2h0.01M210.4,315.5h0.01M210.6,316.8h0.01M210.8,313.9h0.01M211.0,313.8h0.01M211.2,317.5h0.01M211.4,318.1h0.01M211.6,316.5h0.01M211.8,316.5h0.01M212.0,316.9h0.01M212.1,314.9h0.01M212.3,313.2h0.01M212.5,314.4h0.01M212.7,314.6h0.01M212.9,315.8h0.01M213.1,314.1h0.01M213.3,315.9h0.01" stroke="#878787" stroke-width="1.8" stroke-linecap="round" fill="none"/><polyline points="44.00,303.45 44.28,303.03 44.56,302.62 44.84,302.21 45.13,301.79 45.41,301.38 45.69,300.97 45.97,300.55 46.25,300.14 46.53,299.73 46.81,299.33 47.10,298.92 47.38,298.52 47.66,298.12 47.94,297.72 48.22,297.32 48.50,296.93 48.78,296.54 49.07,296.15 49.35,295.77 49.63,295.39 49.91,295.01 50.19,294.63 50.47,294.26 50.76,293.90 51.04,293.54 51.32,293.18 51.60,292.82 51.88,292.48 52.16,292.13 52.44,291.79 52.73,291.46 53.01,291.13 53.29,290.81 53.57,290.49 53.85,290.18 54.13,289.87 54.41,289.57 54.70,289.28 54.98,288.99 55.26,288.71 55.54,288.43 55.82,288.16 56.10,287.90 56.38,287.65 56.67,287.40 56.95,287.16 57.23,286.92 57.51,286.70 57.79,286.48 58.07,286.26 58.35,286.06 58.64,285.86 58.92,285.67 59.20,285.49 59.48,285.32 59.76,285.15 60.04,284.99 60.32,284.84 60.61,284.70 60.89,284.57 61.17,284.44 61.45,284.32 61.73,284.22 62.01,284.12 62.29,284.02 62.58,283.94 62.86,283.87 63.14,283.80 63.42,283.74 63.70,283.69 63.98,283.65 64.27,283.62 64.55,283.60 64.83,283.58 65.11,283.58 65.39,283.58 65.67,283.59 65.95,283.61 66.24,283.64 66.52,283.68 66.80,283.72 67.08,283.78 67.36,283.84 67.64,283.91 67.92,283.99 68.21,284.08 68.49,284.18 68.77,284.28 69.05,284.40 69.33,284.52 69.61,284.65 69.89,284.79 70.18,284.94 70.46,285.09 70.74,285.25 71.02,285.42 71.30,285.60 71.58,285.79 71.86,285.98 72.15,286.19 72.43,286.40 72.71,286.61 72.99,286.84 73.27,287.07 73.55,287.31 73.83,287.55 74.12,287.81 74.40,288.06 74.68,288.33 74.96,288.60 75.24,288.88 75.52,289.17 75.81,289.46 76.09,289.76 76.37,290.06 76.65,290.37 76.93,290.69 77.21,291.01 77.49,291.34 77.78,291.67 78.06,292.00 78.34,292.35 78.62,292.69 78.90,293.04 79.18,293.40 79.46,293.76 79.75,294.13 80.03,294.49 80.31,294.87 80.59,295.24 80.87,295.62 81.15,296.01 81.43,296.39 81.72,296.78 82.00,297.17 82.28,297.57 82.56,297.97 82.84,298.37 83.12,298.77 83.40,299.18 83.69,299.58 83.97,299.99 84.25,300.40 84.53,300.81 84.81,301.22 85.09,301.64 85.37,302.05 85.66,302.46 85.94,302.88 86.22,303.29 86.50,303.71 86.78,304.12 87.06,304.54 87.35,304.95 87.63,305.37 87.91,305.78 88.19,306.19 88.47,306.60 88.75,307.01 89.03,307.42 89.32,307.83 89.60,308.23 89.88,308.63 90.16,309.03 90.44,309.43 90.72,309.82 91.00,310.21 91.29,310.60 91.57,310.99 91.85,311.37 92.13,311.75 92.41,312.13 92.69,312.50 92.97,312.87 93.26,313.23 93.54,313.59 93.82,313.94 94.10,314.29 94.38,314.64 94.66,314.98 94.94,315.32 95.23,315.65 95.51,315.97 95.79,316.29 96.07,316.61 96.35,316.91 96.63,317.22 96.91,317.51 97.20,317.80 97.48,318.09 97.76,318.36 98.04,318.64 98.32,318.90 98.60,319.16 98.88,319.41 99.17,319.65 99.45,319.89 99.73,320.12 100.01,320.34 100.29,320.56 100.57,320.76 100.86,320.96 101.14,321.16 101.42,321.34 101.70,321.52 101.98,321.69 102.26,321.85 102.54,322.00 102.83,322.15 103.11,322.28 103.39,322.41 103.67,322.53 103.95,322.64 104.23,322.75 104.51,322.84 104.80,322.93 105.08,323.01 105.36,323.08 105.64,323.14 105.92,323.19 106.20,323.23 106.48,323.27 106.77,323.30 107.05,323.31 107.33,323.32 107.61,323.32 107.89,323.32 108.17,323.30 108.45,323.27 108.74,323.24 109.02,323.20 109.30,323.15 109.58,323.09 109.86,323.02 110.14,322.94 110.42,322.85 110.71,322.76 110.99,322.66 111.27,322.55 111.55,322.43 111.83,322.30 112.11,322.16 112.40,322.02 112.68,321.87 112.96,321.71 113.24,321.54 113.52,321.37 113.80,321.18 114.08,320.99 114.37,320.79 114.65,320.58 114.93,320.37 115.21,320.15 115.49,319.92 115.77,319.68 116.05,319.44 116.34,319.19 116.62,318.93 116.90,318.67 117.18,318.40 117.46,318.12 117.74,317.84 118.02,317.55 118.31,317.25 118.59,316.95 118.87,316.65 119.15,316.33 119.43,316.01 119.71,315.69 119.99,315.36 120.28,315.02 120.56,314.68 120.84,314.34 121.12,313.99 121.40,313.63 121.68,313.28 121.96,312.91 122.25,312.55 122.53,312.17 122.81,311.80 123.09,311.42 123.37,311.04 123.65,310.65 123.93,310.26 124.22,309.87 124.50,309.48 124.78,309.08 125.06,308.68 125.34,308.28 125.62,307.88 125.91,307.47 126.19,307.06 126.47,306.65 126.75,306.24 127.03,305.83 127.31,305.42 127.59,305.01 127.88,304.59 128.16,304.18 128.44,303.76 128.72,303.35 129.00,302.93 129.28,302.52 129.56,302.10 129.85,301.69 130.13,301.28 130.41,300.86 130.69,300.45 130.97,300.04 131.25,299.63 131.53,299.23 131.82,298.82 132.10,298.42 132.38,298.02 132.66,297.62 132.94,297.23 133.22,296.83 133.50,296.44 133.79,296.06 134.07,295.67 134.35,295.29 134.63,294.91 134.91,294.54 135.19,294.17 135.47,293.81 135.76,293.45 136.04,293.09 136.32,292.74 136.60,292.39 136.88,292.05 137.16,291.71 137.45,291.38 137.73,291.05 138.01,290.73 138.29,290.41 138.57,290.10 138.85,289.80 139.13,289.50 139.42,289.21 139.70,288.92 139.98,288.64 140.26,288.37 140.54,288.10 140.82,287.84 141.10,287.58 141.39,287.34 141.67,287.10 141.95,286.87 142.23,286.64 142.51,286.42 142.79,286.21 143.07,286.01 143.36,285.81 143.64,285.63 143.92,285.45 144.20,285.27 144.48,285.11 144.76,284.95 145.04,284.81 145.33,284.67 145.61,284.54 145.89,284.41 146.17,284.30 146.45,284.19 146.73,284.09 147.01,284.00 147.30,283.92 147.58,283.85 147.86,283.78 148.14,283.73 148.42,283.68 148.70,283.64 148.99,283.61 149.27,283.59 149.55,283.58 149.83,283.58 150.11,283.58 150.39,283.59 150.67,283.62 150.96,283.65 151.24,283.69 151.52,283.73 151.80,283.79 152.08,283.86 152.36,283.93 152.64,284.01 152.93,284.10 153.21,284.20 153.49,284.31 153.77,284.43 154.05,284.55 154.33,284.68 154.61,284.82 154.90,284.97 155.18,285.13 155.46,285.29 155.74,285.47 156.02,285.65 156.30,285.84 156.58,286.03 156.87,286.24 157.15,286.45 157.43,286.67 157.71,286.89 157.99,287.13 158.27,287.37 158.55,287.61 158.84,287.87 159.12,288.13 159.40,288.40 159.68,288.67 159.96,288.95 160.24,289.24 160.52,289.53 160.81,289.83 161.09,290.14 161.37,290.45 161.65,290.77 161.93,291.09 162.21,291.42 162.50,291.75 162.78,292.09 163.06,292.43 163.34,292.78 163.62,293.13 163.90,293.49 164.18,293.85 164.47,294.22 164.75,294.59 165.03,294.96 165.31,295.34 165.59,295.72 165.87,296.10 166.15,296.49 166.44,296.88 166.72,297.27 167.00,297.67 167.28,298.07 167.56,298.47 167.84,298.87 168.12,299.28 168.41,299.68 168.69,300.09 168.97,300.50 169.25,300.91 169.53,301.32 169.81,301.74 170.09,302.15 170.38,302.57 170.66,302.98 170.94,303.40 171.22,303.81 171.50,304.23 171.78,304.64 172.06,305.06 172.35,305.47 172.63,305.88 172.91,306.29 173.19,306.70 173.47,307.11 173.75,307.52 174.04,307.93 174.32,308.33 174.60,308.73 174.88,309.13 175.16,309.53 175.44,309.92 175.72,310.31 176.01,310.70 176.29,311.08 176.57,311.47 176.85,311.84 177.13,312.22 177.41,312.59 177.69,312.96 177.98,313.32 178.26,313.68 178.54,314.03 178.82,314.38 179.10,314.72 179.38,315.06 179.66,315.40 179.95,315.73 180.23,316.05 180.51,316.37 180.79,316.68 181.07,316.99 181.35,317.29 181.63,317.59 181.92,317.87 182.20,318.16 182.48,318.43 182.76,318.70 183.04,318.96 183.32,319.22 183.60,319.47 183.89,319.71 184.17,319.95 184.45,320.18 184.73,320.40 185.01,320.61 185.29,320.82 185.58,321.01 185.86,321.20 186.14,321.39 186.42,321.56 186.70,321.73 186.98,321.89 187.26,322.04 187.55,322.18 187.83,322.32 188.11,322.44 188.39,322.56 188.67,322.67 188.95,322.77 189.23,322.87 189.52,322.95 189.80,323.03 190.08,323.09 190.36,323.15 190.64,323.20 190.92,323.24 191.20,323.28 191.49,323.30 191.77,323.32 192.05,323.32 192.33,323.32 192.61,323.31 192.89,323.29 193.17,323.27 193.46,323.23 193.74,323.19 194.02,323.13 194.30,323.07 194.58,323.00 194.86,322.92 195.14,322.83 195.43,322.74 195.71,322.63 195.99,322.52 196.27,322.40 196.55,322.27 196.83,322.13 197.11,321.98 197.40,321.83 197.68,321.67 197.96,321.50 198.24,321.32 198.52,321.13 198.80,320.94 199.09,320.74 199.37,320.53 199.65,320.32 199.93,320.09 200.21,319.86 200.49,319.62 200.77,319.38 201.06,319.13 201.34,318.87 201.62,318.60 201.90,318.33 202.18,318.05 202.46,317.77 202.74,317.48 203.03,317.18 203.31,316.88 203.59,316.57 203.87,316.25 204.15,315.93 204.43,315.61 204.71,315.28 205.00,314.94 205.28,314.60 205.56,314.25 205.84,313.90 206.12,313.55 206.40,313.19 206.68,312.82 206.97,312.45 207.25,312.08 207.53,311.71 207.81,311.33 208.09,310.94 208.37,310.56 208.65,310.17 208.94,309.78 209.22,309.38 209.50,308.98 209.78,308.58 210.06,308.18 210.34,307.78 210.63,307.37 210.91,306.96 211.19,306.55 211.47,306.14 211.75,305.73 212.03,305.32 212.31,304.90 212.60,304.49 212.88,304.07" fill="none" stroke="#0000ff" stroke-width="1.3"/><polyline points="44.00,315.76 44.28,315.56 44.56,315.36 44.84,315.15 45.13,314.94 45.41,314.74 45.69,314.53 45.97,314.32 46.25,314.11 46.53,313.90 46.81,313.69 47.10,313.48 47.38,313.26 47.66,313.05 47.94,312.84 48.22,312.63 48.50,312.41 48.78,312.20 49.07,311.99 49.35,311.77 49.63,311.56 49.91,311.35 50.19,311.14 50.47,310.93 50.76,310.72 51.04,310.51 51.32,310.30 51.60,310.09 51.88,309.89 52.16,309.68 52.44,309.48 52.73,309.27 53.01,309.07 53.29,308.87 53.57,308.67 53.85,308.48 54.13,308.28 54.41,308.09 54.70,307.90 54.98,307.71 55.26,307.52 55.54,307.33 55.82,307.15 56.10,306.97 56.38,306.79 56.67,306.62 56.95,306.44 57.23,306.27 57.51,306.10 57.79,305.94 58.07,305.77 58.35,305.61 58.64,305.46 58.92,305.30 59.20,305.15 59.48,305.00 59.76,304.86 60.04,304.72 60.32,304.58 60.61,304.44 60.89,304.31 61.17,304.18 61.45,304.06 61.73,303.94 62.01,303.82 62.29,303.71 62.58,303.60 62.86,303.49 63.14,303.39 63.42,303.29 63.70,303.20 63.98,303.11 64.27,303.02 64.55,302.94 64.83,302.86 65.11,302.79 65.39,302.72 65.67,302.65 65.95,302.59 66.24,302.54 66.52,302.48 66.80,302.43 67.08,302.39 67.36,302.35 67.64,302.31 67.92,302.28 68.21,302.26 68.49,302.23 68.77,302.22 69.05,302.20 69.33,302.19 69.61,302.19 69.89,302.19 70.18,302.19 70.46,302.20 70.74,302.21 71.02,302.23 71.30,302.25 71.58,302.28 71.86,302.31 72.15,302.35 72.43,302.38 72.71,302.43 72.99,302.48 73.27,302.53 73.55,302.59 73.83,302.65 74.12,302.71 74.40,302.78 74.68,302.85 74.96,302.93 75.24,303.01 75.52,303.10 75.81,303.19 76.09,303.29 76.37,303.38 76.65,303.49 76.93,303.59 77.21,303.70 77.49,303.82 77.78,303.93 78.06,304.05 78.34,304.18 78.62,304.31 78.90,304.44 79.18,304.57 79.46,304.71 79.75,304.86 80.03,305.00 80.31,305.15 80.59,305.30 80.87,305.46 81.15,305.62 81.43,305.78 81.72,305.94 82.00,306.11 82.28,306.28 82.56,306.45 82.84,306.63 83.12,306.81 83.40,306.99 83.69,307.17 83.97,307.35 84.25,307.54 84.53,307.73 84.81,307.92 85.09,308.12 85.37,308.31 85.66,308.51 85.94,308.71 86.22,308.91 86.50,309.11 86.78,309.32 87.06,309.52 87.35,309.73 87.63,309.93 87.91,310.14 88.19,310.35 88.47,310.56 88.75,310.78 89.03,310.99 89.32,311.20 89.60,311.41 89.88,311.63 90.16,311.84 90.44,312.06 90.72,312.27 91.00,312.49 91.29,312.70 91.57,312.92 91.85,313.13 92.13,313.35 92.41,313.56 92.69,313.78 92.97,313.99 93.26,314.20 93.54,314.41 93.82,314.62 94.10,314.83 94.38,315.04 94.66,315.25 94.94,315.46 95.23,315.66 95.51,315.87 95.79,316.07 96.07,316.27 96.35,316.47 96.63,316.67 96.91,316.86 97.20,317.05 97.48,317.25 97.76,317.44 98.04,317.62 98.32,317.81 98.60,317.99 98.88,318.17 99.17,318.35 99.45,318.52 99.73,318.69 100.01,318.86 100.29,319.03 100.57,319.19 100.86,319.36 101.14,319.51 101.42,319.67 101.70,319.82 101.98,319.97 102.26,320.11 102.54,320.25 102.83,320.39 103.11,320.52 103.39,320.66 103.67,320.78 103.95,320.91 104.23,321.03 104.51,321.14 104.80,321.25 105.08,321.36 105.36,321.46 105.64,321.56 105.92,321.66 106.20,321.75 106.48,321.84 106.77,321.92 107.05,322.00 107.33,322.07 107.61,322.14 107.89,322.20 108.17,322.26 108.45,322.32 108.74,322.36 109.02,322.41 109.30,322.45 109.58,322.48 109.86,322.51 110.14,322.54 110.42,322.56 110.71,322.58 110.99,322.59 111.27,322.60 111.55,322.60 111.83,322.60 112.11,322.59 112.40,322.58 112.68,322.57 112.96,322.54 113.24,322.52 113.52,322.49 113.80,322.45 114.08,322.42 114.37,322.37 114.65,322.32 114.93,322.27 115.21,322.21 115.49,322.15 115.77,322.08 116.05,322.01 116.34,321.94 116.62,321.86 116.90,321.77 117.18,321.69 117.46,321.59 117.74,321.50 118.02,321.40 118.31,321.29 118.59,321.18 118.87,321.07 119.15,320.95 119.43,320.83 119.71,320.71 119.99,320.58 120.28,320.45 120.56,320.31 120.84,320.18 121.12,320.03 121.40,319.89 121.68,319.74 121.96,319.59 122.25,319.43 122.53,319.27 122.81,319.11 123.09,318.95 123.37,318.78 123.65,318.61 123.93,318.43 124.22,318.25 124.50,318.07 124.78,317.89 125.06,317.70 125.34,317.52 125.62,317.33 125.91,317.13 126.19,316.94 126.47,316.74 126.75,316.54 127.03,316.33 127.31,316.13 127.59,315.92 127.88,315.72 128.16,315.51 128.44,315.29 128.72,315.08 129.00,314.87 129.28,314.65 129.56,314.44 129.85,314.22 130.13,314.00 130.41,313.78 130.69,313.56 130.97,313.34 131.25,313.12 131.53,312.90 131.82,312.67 132.10,312.45 132.38,312.23 132.66,312.01 132.94,311.78 133.22,311.56 133.50,311.34 133.79,311.11 134.07,310.89 134.35,310.67 134.63,310.45 134.91,310.23 135.19,310.01 135.47,309.79 135.76,309.57 136.04,309.35 136.32,309.13 136.60,308.92 136.88,308.70 137.16,308.49 137.45,308.27 137.73,308.06 138.01,307.85 138.29,307.65 138.57,307.44 138.85,307.23 139.13,307.03 139.42,306.83 139.70,306.63 139.98,306.43 140.26,306.24 140.54,306.05 140.82,305.85 141.10,305.67 141.39,305.48 141.67,305.30 141.95,305.12 142.23,304.94 142.51,304.76 142.79,304.59 143.07,304.42 143.36,304.25 143.64,304.09 143.92,303.93 144.20,303.77 144.48,303.62 144.76,303.47 145.04,303.32 145.33,303.17 145.61,303.03 145.89,302.89 146.17,302.76 146.45,302.63 146.73,302.50 147.01,302.38 147.30,302.26 147.58,302.15 147.86,302.03 148.14,301.93 148.42,301.82 148.70,301.72 148.99,301.62 149.27,301.53 149.55,301.44 149.83,301.36 150.11,301.28 150.39,301.20 150.67,301.13 150.96,301.06 151.24,300.99 151.52,300.93 151.80,300.87 152.08,300.82 152.36,300.77 152.64,300.73 152.93,300.69 153.21,300.65 153.49,300.62 153.77,300.59 154.05,300.56 154.33,300.53 154.61,300.51 154.90,300.49 155.18,300.47 155.46,300.46 155.74,300.45 156.02,300.44 156.30,300.44 156.58,300.44 156.87,300.45 157.15,300.46 157.43,300.47 157.71,300.49 157.99,300.52 158.27,300.54 158.55,300.57 158.84,300.60 159.12,300.64 159.40,300.68 159.68,300.73 159.96,300.78 160.24,300.83 160.52,300.88 160.81,300.94 161.09,301.01 161.37,301.07 161.65,301.14 161.93,301.21 162.21,301.29 162.50,301.37 162.78,301.45 163.06,301.54 163.34,301.63 163.62,301.72 163.90,301.81 164.18,301.91 164.47,302.01 164.75,302.11 165.03,302.22 165.31,302.33 165.59,302.44 165.87,302.55 166.15,302.67 166.44,302.79 166.72,302.91 167.00,303.03 167.28,303.16 167.56,303.29 167.84,303.42 168.12,303.55 168.41,303.68 168.69,303.82 168.97,303.96 169.25,304.10 169.53,304.24 169.81,304.38 170.09,304.53 170.38,304.67 170.66,304.82 170.94,304.97 171.22,305.12 171.50,305.27 171.78,305.42 172.06,305.57 172.35,305.73 172.63,305.88 172.91,306.04 173.19,306.20 173.47,306.35 173.75,306.51 174.04,306.67 174.32,306.83 174.60,306.99 174.88,307.15 175.16,307.31 175.44,307.47 175.72,307.63 176.01,307.79 176.29,307.95 176.57,308.11 176.85,308.27 177.13,308.43 177.41,308.59 177.69,308.75 177.98,308.91 178.26,309.07 178.54,309.23 178.82,309.39 179.10,309.54 179.38,309.70 179.66,309.85 179.95,310.01 180.23,310.16 180.51,310.31 180.79,310.47 181.07,310.62 181.35,310.76 181.63,310.91 181.92,311.06 182.20,311.20 182.48,311.35 182.76,311.49 183.04,311.63 183.32,311.77 183.60,311.91 183.89,312.04 184.17,312.18 184.45,312.31 184.73,312.44 185.01,312.57 185.29,312.69 185.58,312.82 185.86,312.94 186.14,313.06 186.42,313.18 186.70,313.29 186.98,313.41 187.26,313.52 187.55,313.63 187.83,313.73 188.11,313.84 188.39,313.94 188.67,314.04 188.95,314.13 189.23,314.23 189.52,314.32 189.80,314.41 190.08,314.49 190.36,314.58 190.64,314.66 190.92,314.73 191.20,314.81 191.49,314.88 191.77,314.95 192.05,315.01 192.33,315.08 192.61,315.14 192.89,315.19 193.17,315.25 193.46,315.30 193.74,315.35 194.02,315.39 194.30,315.43 194.58,315.47 194.86,315.51 195.14,315.54 195.43,315.57 195.71,315.59 195.99,315.62 196.27,315.64 196.55,315.66 196.83,315.68 197.11,315.70 197.40,315.72 197.68,315.73 197.96,315.74 198.24,315.75 198.52,315.76 198.80,315.76 199.09,315.75 199.37,315.75 199.65,315.74 199.93,315.73 200.21,315.71 200.49,315.69 200.77,315.67 201.06,315.65 201.34,315.62 201.62,315.59 201.90,315.55 202.18,315.52 202.46,315.48 202.74,315.43 203.03,315.39 203.31,315.34 203.59,315.29 203.87,315.23 204.15,315.17 204.43,315.11 204.71,315.05 205.00,314.98 205.28,314.91 205.56,314.84 205.84,314.76 206.12,314.68 206.40,314.60 206.68,314.52 206.97,314.43 207.25,314.34 207.53,314.25 207.81,314.16 208.09,314.06 208.37,313.96 208.65,313.86 208.94,313.76 209.22,313.65 209.50,313.54 209.78,313.43 210.06,313.32 210.34,313.21 210.63,313.09 210.91,312.97 211.19,312.85 211.47,312.73 211.75,312.60 212.03,312.48 212.31,312.35 212.60,312.22 212.88,312.09" fill="none" stroke="#000" stroke-width="1.25"/><path d="M37.30,263.70V343.20M34.10,343.20H37.30M34.10,323.32H37.30M34.10,303.45H37.30M34.10,283.57H37.30M34.10,263.70H37.30M44.00,346.65H213.30M44.00,346.65V349.85M86.33,346.65V349.85M128.65,346.65V349.85M170.97,346.65V349.85M213.30,346.65V349.85" stroke="#000" stroke-width="1.2" fill="none"/><text transform="translate(32.70,346.55) scale(1.005,1)" font-size="8.6" text-anchor="end">0</text><text transform="translate(32.70,326.68) scale(1.005,1)" font-size="8.6" text-anchor="end">1</text><text transform="translate(32.70,306.80) scale(1.005,1)" font-size="8.6" text-anchor="end">2</text><text transform="translate(32.70,286.93) scale(1.005,1)" font-size="8.6" text-anchor="end">3</text><text transform="translate(32.70,267.05) scale(1.005,1)" font-size="8.6" text-anchor="end">4</text><text transform="translate(44.00,359.95) scale(1.005,1)" font-size="8.6" text-anchor="middle">0</text><text transform="translate(86.33,359.95) scale(1.005,1)" font-size="8.6" text-anchor="middle">10</text><text transform="translate(128.65,359.95) scale(1.005,1)" font-size="8.6" text-anchor="middle">20</text><text transform="translate(170.97,359.95) scale(1.005,1)" font-size="8.6" text-anchor="middle">30</text><text transform="translate(213.30,359.95) scale(1.005,1)" font-size="8.6" text-anchor="middle">40</text><text transform="translate(8.70,303.45) scale(1.04,1) rotate(-90)" font-size="9.85" text-anchor="middle">Response in D</text><clipPath id="cl2"><rect x="0" y="253.7" width="219.6" height="30"/></clipPath><g clip-path="url(#cl2)"><text transform="translate(44.90,270.00) scale(1.047,1)" font-size="8.25" text-anchor="start">Observer: s02; condition: 0.05 Hz; repetition: 1</text></g><line x1="277.30" y1="343.20" x2="446.50" y2="343.20" stroke="#d9d9d9" stroke-width="0.9"/><line x1="277.30" y1="323.32" x2="446.50" y2="323.32" stroke="#d9d9d9" stroke-width="0.9"/><line x1="277.30" y1="303.45" x2="446.50" y2="303.45" stroke="#d9d9d9" stroke-width="0.9"/><line x1="277.30" y1="283.57" x2="446.50" y2="283.57" stroke="#d9d9d9" stroke-width="0.9"/><line x1="277.30" y1="295.10" x2="446.50" y2="321.74" stroke="#333" stroke-width="1"/><g fill="#fff" stroke="#000" stroke-width="0.8"><circle cx="277.30" cy="307.43" r="1.55"/><circle cx="280.68" cy="306.92" r="1.55"/><circle cx="284.07" cy="306.41" r="1.55"/><circle cx="287.45" cy="305.91" r="1.55"/><circle cx="290.84" cy="305.40" r="1.55"/><circle cx="294.22" cy="304.89" r="1.55"/><circle cx="297.60" cy="304.38" r="1.55"/><circle cx="300.99" cy="303.85" r="1.55"/><circle cx="304.37" cy="303.30" r="1.55"/><circle cx="307.76" cy="302.75" r="1.55"/><circle cx="311.14" cy="302.20" r="1.55"/><circle cx="314.52" cy="301.65" r="1.55"/><circle cx="317.91" cy="301.12" r="1.55"/><circle cx="321.29" cy="300.61" r="1.55"/><circle cx="324.68" cy="300.10" r="1.55"/><circle cx="328.06" cy="299.59" r="1.55"/><circle cx="331.44" cy="299.09" r="1.55"/><circle cx="334.83" cy="298.62" r="1.55"/><circle cx="338.21" cy="298.18" r="1.55"/><circle cx="341.60" cy="297.79" r="1.55"/><circle cx="344.98" cy="297.49" r="1.55"/><circle cx="348.36" cy="297.27" r="1.55"/><circle cx="351.75" cy="297.13" r="1.55"/><circle cx="355.13" cy="297.07" r="1.55"/><circle cx="358.52" cy="297.32" r="1.55"/><circle cx="361.90" cy="298.10" r="1.55"/><circle cx="365.28" cy="298.99" r="1.55"/><circle cx="368.67" cy="299.97" r="1.55"/><circle cx="372.05" cy="301.04" r="1.55"/><circle cx="375.44" cy="302.21" r="1.55"/><circle cx="378.82" cy="303.55" r="1.55"/><circle cx="382.20" cy="305.06" r="1.55"/><circle cx="385.59" cy="306.64" r="1.55"/><circle cx="388.97" cy="308.22" r="1.55"/><circle cx="392.36" cy="309.86" r="1.55"/><circle cx="395.74" cy="311.53" r="1.55"/><circle cx="399.12" cy="313.20" r="1.55"/><circle cx="402.51" cy="314.91" r="1.55"/><circle cx="405.89" cy="316.58" r="1.55"/><circle cx="409.28" cy="318.22" r="1.55"/><circle cx="412.66" cy="319.70" r="1.55"/><circle cx="416.04" cy="321.06" r="1.55"/><circle cx="419.43" cy="322.35" r="1.55"/><circle cx="422.81" cy="323.57" r="1.55"/><circle cx="426.20" cy="324.73" r="1.55"/><circle cx="429.58" cy="325.81" r="1.55"/><circle cx="432.96" cy="326.85" r="1.55"/><circle cx="436.35" cy="327.89" r="1.55"/><circle cx="439.73" cy="328.89" r="1.55"/><circle cx="443.12" cy="329.88" r="1.55"/><circle cx="446.50" cy="330.88" r="1.55"/></g><polyline points="277.30,307.43 358.09,296.49" fill="none" stroke="#ff0000" stroke-width="1.1"/><polyline points="358.09,296.49 446.50,332.47" fill="none" stroke="#0000ff" stroke-width="1.1"/><path d="M270.60,263.70V343.20M267.40,343.20H270.60M267.40,323.32H270.60M267.40,303.45H270.60M267.40,283.57H270.60M267.40,263.70H270.60M277.30,346.65H446.50M277.30,346.65V349.85M319.60,346.65V349.85M361.90,346.65V349.85M404.20,346.65V349.85M446.50,346.65V349.85" stroke="#000" stroke-width="1.2" fill="none"/><text transform="translate(266.00,346.55) scale(1.005,1)" font-size="8.6" text-anchor="end">0.32</text><text transform="translate(266.00,326.68) scale(1.005,1)" font-size="8.6" text-anchor="end">0.42</text><text transform="translate(266.00,306.80) scale(1.005,1)" font-size="8.6" text-anchor="end">0.52</text><text transform="translate(266.00,286.93) scale(1.005,1)" font-size="8.6" text-anchor="end">0.62</text><text transform="translate(266.00,267.05) scale(1.005,1)" font-size="8.6" text-anchor="end">0.72</text><text transform="translate(277.30,359.95) scale(1.005,1)" font-size="8.6" text-anchor="middle">0</text><text transform="translate(319.60,359.95) scale(1.005,1)" font-size="8.6" text-anchor="middle">10</text><text transform="translate(361.90,359.95) scale(1.005,1)" font-size="8.6" text-anchor="middle">20</text><text transform="translate(404.20,359.95) scale(1.005,1)" font-size="8.6" text-anchor="middle">30</text><text transform="translate(446.50,359.95) scale(1.005,1)" font-size="8.6" text-anchor="middle">40</text><text transform="translate(242.00,303.45) scale(1.04,1) rotate(-90)" font-size="9.85" text-anchor="middle">Amplitude in D</text><text transform="translate(361.90,381.85) scale(0.99,1)" font-size="10.3" text-anchor="middle">Time in s</text><text transform="translate(361.50,272.30) scale(0.917,1)" font-size="9.5" text-anchor="middle"><tspan font-style="italic">R</tspan><tspan font-size="5.6" dy="-4.0">2</tspan><tspan dy="4.0"> linear = 57 %; </tspan><tspan font-style="italic">R</tspan><tspan font-size="5.6" dy="-4.0">2</tspan><tspan dy="4.0"> segmented = 99 %</tspan></text><line x1="510.40" y1="343.20" x2="679.40" y2="343.20" stroke="#d9d9d9" stroke-width="0.9"/><line x1="510.40" y1="323.32" x2="679.40" y2="323.32" stroke="#d9d9d9" stroke-width="0.9"/><line x1="510.40" y1="303.45" x2="679.40" y2="303.45" stroke="#d9d9d9" stroke-width="0.9"/><line x1="510.40" y1="283.57" x2="679.40" y2="283.57" stroke="#d9d9d9" stroke-width="0.9"/><line x1="510.40" y1="321.74" x2="679.40" y2="276.26" stroke="#333" stroke-width="1"/><g fill="#fff" stroke="#000" stroke-width="0.8"><circle cx="510.40" cy="314.98" r="1.55"/><circle cx="513.78" cy="314.76" r="1.55"/><circle cx="517.16" cy="314.55" r="1.55"/><circle cx="520.54" cy="314.33" r="1.55"/><circle cx="523.92" cy="314.12" r="1.55"/><circle cx="527.30" cy="313.89" r="1.55"/><circle cx="530.68" cy="313.65" r="1.55"/><circle cx="534.06" cy="313.39" r="1.55"/><circle cx="537.44" cy="313.13" r="1.55"/><circle cx="540.82" cy="312.86" r="1.55"/><circle cx="544.20" cy="312.58" r="1.55"/><circle cx="547.58" cy="312.28" r="1.55"/><circle cx="550.96" cy="311.96" r="1.55"/><circle cx="554.34" cy="311.63" r="1.55"/><circle cx="557.72" cy="311.29" r="1.55"/><circle cx="561.10" cy="310.93" r="1.55"/><circle cx="564.48" cy="310.56" r="1.55"/><circle cx="567.86" cy="310.16" r="1.55"/><circle cx="571.24" cy="309.74" r="1.55"/><circle cx="574.62" cy="309.30" r="1.55"/><circle cx="578.00" cy="308.85" r="1.55"/><circle cx="581.38" cy="308.30" r="1.55"/><circle cx="584.76" cy="307.54" r="1.55"/><circle cx="588.14" cy="306.40" r="1.55"/><circle cx="591.52" cy="304.93" r="1.55"/><circle cx="594.90" cy="303.45" r="1.55"/><circle cx="598.28" cy="302.04" r="1.55"/><circle cx="601.66" cy="300.62" r="1.55"/><circle cx="605.04" cy="299.25" r="1.55"/><circle cx="608.42" cy="297.94" r="1.55"/><circle cx="611.80" cy="296.67" r="1.55"/><circle cx="615.18" cy="295.42" r="1.55"/><circle cx="618.56" cy="294.15" r="1.55"/><circle cx="621.94" cy="292.88" r="1.55"/><circle cx="625.32" cy="291.60" r="1.55"/><circle cx="628.70" cy="290.33" r="1.55"/><circle cx="632.08" cy="289.06" r="1.55"/><circle cx="635.46" cy="287.79" r="1.55"/><circle cx="638.84" cy="286.52" r="1.55"/><circle cx="642.22" cy="285.24" r="1.55"/><circle cx="645.60" cy="283.97" r="1.55"/><circle cx="648.98" cy="282.70" r="1.55"/><circle cx="652.36" cy="281.43" r="1.55"/><circle cx="655.74" cy="280.16" r="1.55"/><circle cx="659.12" cy="278.88" r="1.55"/><circle cx="662.50" cy="277.61" r="1.55"/><circle cx="665.88" cy="276.34" r="1.55"/><circle cx="669.26" cy="275.07" r="1.55"/><circle cx="672.64" cy="273.80" r="1.55"/><circle cx="676.02" cy="272.52" r="1.55"/><circle cx="679.40" cy="271.25" r="1.55"/></g><polyline points="510.40,314.66 585.18,307.70" fill="none" stroke="#ff0000" stroke-width="1.1"/><polyline points="585.18,307.70 679.40,270.46" fill="none" stroke="#0000ff" stroke-width="1.1"/><path d="M503.70,263.70V343.20M500.50,343.20H503.70M500.50,323.32H503.70M500.50,303.45H503.70M500.50,283.57H503.70M500.50,263.70H503.70M510.40,346.65H679.40M510.40,346.65V349.85M552.65,346.65V349.85M594.90,346.65V349.85M637.15,346.65V349.85M679.40,346.65V349.85" stroke="#000" stroke-width="1.2" fill="none"/><text transform="translate(499.10,346.55) scale(1.005,1)" font-size="8.6" text-anchor="end">0.19</text><text transform="translate(499.10,326.68) scale(1.005,1)" font-size="8.6" text-anchor="end">0.69</text><text transform="translate(499.10,306.80) scale(1.005,1)" font-size="8.6" text-anchor="end">1.19</text><text transform="translate(499.10,286.93) scale(1.005,1)" font-size="8.6" text-anchor="end">1.69</text><text transform="translate(499.10,267.05) scale(1.005,1)" font-size="8.6" text-anchor="end">2.19</text><text transform="translate(510.40,359.95) scale(1.005,1)" font-size="8.6" text-anchor="middle">0</text><text transform="translate(552.65,359.95) scale(1.005,1)" font-size="8.6" text-anchor="middle">10</text><text transform="translate(594.90,359.95) scale(1.005,1)" font-size="8.6" text-anchor="middle">20</text><text transform="translate(637.15,359.95) scale(1.005,1)" font-size="8.6" text-anchor="middle">30</text><text transform="translate(679.40,359.95) scale(1.005,1)" font-size="8.6" text-anchor="middle">40</text><text transform="translate(475.10,303.45) scale(1.04,1) rotate(-90)" font-size="9.85" text-anchor="middle">Phase in s</text><rect x="505" y="259.7" width="174.4" height="16.60" fill="#fff"/><text transform="translate(594.50,272.30) scale(0.917,1)" font-size="9.5" text-anchor="middle"><tspan font-style="italic">R</tspan><tspan font-size="5.6" dy="-4.0">2</tspan><tspan dy="4.0"> linear = 93 %; </tspan><tspan font-style="italic">R</tspan><tspan font-size="5.6" dy="-4.0">2</tspan><tspan dy="4.0"> segmented = 100 %</tspan></text><line x1="44.00" y1="472.60" x2="213.30" y2="472.60" stroke="#d9d9d9" stroke-width="0.9"/><line x1="44.00" y1="452.73" x2="213.30" y2="452.73" stroke="#d9d9d9" stroke-width="0.9"/><line x1="44.00" y1="432.85" x2="213.30" y2="432.85" stroke="#d9d9d9" stroke-width="0.9"/><line x1="44.00" y1="412.98" x2="213.30" y2="412.98" stroke="#d9d9d9" stroke-width="0.9"/><path d="M44.0,440.7h0.01M44.3,440.4h0.01M44.5,438.4h0.01M44.8,438.3h0.01M45.0,437.3h0.01M45.3,436.4h0.01M45.5,434.2h0.01M45.8,429.7h0.01M46.1,434.9h0.01M46.3,432.2h0.01M46.6,428.6h0.01M46.8,433.8h0.01M47.1,430.1h0.01M47.3,432.1h0.01M47.6,430.6h0.01M47.8,430.2h0.01M48.1,429.3h0.01M48.4,428.7h0.01M48.6,427.9h0.01M48.9,427.2h0.01M49.1,425.8h0.01M49.4,427.3h0.01M49.6,424.0h0.01M49.9,425.2h0.01M50.2,422.3h0.01M50.4,420.8h0.01M50.7,423.3h0.01M50.9,422.5h0.01M51.2,422.1h0.01M51.4,423.9h0.01M51.7,420.4h0.01M52.0,423.9h0.01M52.2,416.9h0.01M52.5,417.4h0.01M52.7,413.2h0.01M53.0,410.7h0.01M53.2,418.7h0.01M53.5,407.6h0.01M53.7,414.4h0.01M54.0,420.2h0.01M54.3,419.9h0.01M54.5,420.5h0.01M54.8,419.2h0.01M55.0,415.2h0.01M55.3,417.0h0.01M55.5,412.5h0.01M55.8,415.4h0.01M56.1,415.2h0.01M56.3,412.2h0.01M56.6,413.9h0.01M56.8,415.0h0.01M57.1,414.4h0.01M57.3,416.6h0.01M57.6,415.4h0.01M57.9,418.2h0.01M58.1,417.8h0.01M58.4,417.6h0.01M58.6,418.4h0.01M58.9,416.1h0.01M59.1,414.5h0.01M59.4,414.1h0.01M59.6,415.5h0.01M59.9,411.2h0.01M60.2,417.6h0.01M60.4,414.4h0.01M60.7,417.0h0.01M60.9,410.0h0.01M61.2,410.7h0.01M61.4,409.1h0.01M61.7,408.9h0.01M62.0,409.8h0.01M62.2,410.9h0.01M62.5,414.0h0.01M62.7,414.4h0.01M63.0,412.5h0.01M63.2,419.2h0.01M63.5,413.2h0.01M63.8,416.7h0.01M64.0,418.4h0.01M64.3,415.2h0.01M64.5,412.1h0.01M64.8,415.0h0.01M65.0,413.6h0.01M65.3,414.7h0.01M65.5,411.8h0.01M65.8,414.6h0.01M66.1,416.8h0.01M66.3,412.2h0.01M66.6,413.0h0.01M66.8,414.6h0.01M67.1,418.3h0.01M67.3,416.6h0.01M67.6,416.5h0.01M67.9,416.2h0.01M68.1,412.7h0.01M68.4,411.6h0.01M68.6,409.5h0.01M68.9,411.8h0.01M69.1,418.2h0.01M69.4,418.2h0.01M69.7,420.9h0.01M69.9,423.4h0.01M70.2,420.9h0.01M70.4,423.2h0.01M70.7,427.6h0.01M70.9,426.4h0.01M71.2,426.9h0.01M71.4,426.8h0.01M71.7,426.7h0.01M72.0,428.0h0.01M72.2,428.9h0.01M72.5,425.1h0.01M72.7,427.6h0.01M73.0,429.7h0.01M73.2,427.6h0.01M73.5,426.8h0.01M73.8,430.7h0.01M74.0,432.3h0.01M74.3,433.4h0.01M74.5,435.3h0.01M74.8,437.7h0.01M75.0,437.1h0.01M75.3,435.0h0.01M75.6,438.2h0.01M75.8,439.5h0.01M76.1,433.4h0.01M76.3,437.5h0.01M76.6,437.8h0.01M76.8,437.1h0.01M77.1,440.8h0.01M77.3,441.8h0.01M77.6,440.8h0.01M77.9,440.0h0.01M78.1,443.8h0.01M78.4,443.7h0.01M78.6,440.9h0.01M78.9,449.5h0.01M79.1,445.5h0.01M79.4,444.2h0.01M79.7,444.6h0.01M79.9,445.7h0.01M80.2,448.1h0.01M80.4,449.2h0.01M80.7,447.4h0.01M80.9,446.1h0.01M81.2,444.8h0.01M81.5,444.4h0.01M81.7,443.3h0.01M82.0,443.4h0.01M82.2,444.9h0.01M82.5,444.9h0.01M82.7,443.0h0.01M83.0,444.9h0.01M83.2,447.4h0.01M83.5,449.1h0.01M83.8,446.0h0.01M84.0,447.4h0.01M84.3,447.2h0.01M84.5,447.1h0.01M84.8,447.2h0.01M85.0,448.1h0.01M85.3,449.5h0.01M85.6,446.5h0.01M85.8,448.5h0.01M86.1,450.0h0.01M86.3,449.5h0.01M86.6,445.1h0.01M86.8,448.5h0.01M87.1,444.6h0.01M87.4,446.4h0.01M87.6,452.4h0.01M87.9,448.2h0.01M88.1,449.8h0.01M88.4,450.1h0.01M88.6,449.6h0.01M88.9,445.4h0.01M89.1,449.3h0.01M89.4,450.1h0.01M89.7,450.8h0.01M89.9,453.6h0.01M90.2,453.0h0.01M90.4,449.5h0.01M90.7,450.7h0.01M90.9,453.9h0.01M91.2,456.4h0.01M91.5,451.3h0.01M91.7,453.7h0.01M92.0,452.8h0.01M92.2,454.2h0.01M92.5,450.9h0.01M92.7,451.5h0.01M93.0,449.0h0.01M93.3,450.2h0.01M93.5,448.2h0.01M93.8,452.4h0.01M94.0,449.5h0.01M94.3,447.2h0.01M94.5,446.9h0.01M94.8,448.3h0.01M95.0,446.7h0.01M95.3,447.0h0.01M95.6,446.9h0.01M95.8,445.4h0.01M96.1,451.3h0.01M96.3,446.3h0.01M96.6,448.1h0.01M96.8,447.3h0.01M97.1,452.7h0.01M97.4,446.4h0.01M97.6,450.7h0.01M97.9,447.4h0.01M98.1,444.6h0.01M98.4,444.3h0.01M98.6,445.1h0.01M98.9,446.6h0.01M99.2,441.9h0.01M99.4,441.4h0.01M99.7,441.8h0.01M99.9,438.1h0.01M100.2,438.0h0.01M100.4,434.5h0.01M100.7,436.1h0.01M100.9,432.0h0.01M101.2,440.1h0.01M101.5,436.9h0.01M101.7,435.4h0.01M102.0,436.0h0.01M102.2,431.9h0.01M102.5,429.7h0.01M102.7,430.8h0.01M103.0,437.1h0.01M103.3,430.0h0.01M103.5,428.2h0.01M103.8,428.4h0.01M104.0,427.6h0.01M104.3,427.6h0.01M104.5,424.8h0.01M104.8,431.0h0.01M105.1,429.2h0.01M105.3,424.0h0.01M105.6,427.6h0.01M105.8,426.5h0.01M106.1,426.7h0.01M106.3,429.2h0.01M106.6,424.9h0.01M106.8,423.3h0.01M107.1,426.6h0.01M107.4,424.6h0.01M107.6,428.2h0.01M107.9,424.7h0.01M108.1,423.3h0.01M108.4,425.6h0.01M108.6,426.6h0.01M108.9,424.0h0.01M109.2,425.5h0.01M109.4,422.2h0.01M109.7,425.3h0.01M109.9,421.5h0.01M110.2,428.7h0.01M110.4,424.3h0.01M110.7,421.8h0.01M111.0,423.8h0.01M111.2,423.4h0.01M111.5,423.4h0.01M111.7,423.8h0.01M112.0,426.2h0.01M112.2,422.9h0.01M112.5,421.0h0.01M112.7,423.2h0.01M113.0,420.8h0.01M113.3,417.4h0.01M113.5,422.1h0.01M113.8,420.9h0.01M114.0,420.8h0.01M114.3,421.1h0.01M114.5,419.5h0.01M114.8,420.8h0.01M115.1,422.3h0.01M115.3,419.8h0.01M115.6,425.3h0.01M115.8,423.3h0.01M116.1,421.0h0.01M116.3,423.8h0.01M116.6,423.3h0.01M116.9,422.4h0.01M117.1,422.7h0.01M117.4,420.4h0.01M117.6,422.8h0.01M117.9,417.4h0.01M118.1,418.6h0.01M118.4,417.6h0.01M118.6,419.0h0.01M118.9,417.1h0.01M119.2,419.2h0.01M119.4,417.4h0.01M119.7,416.8h0.01M119.9,418.3h0.01M120.2,415.9h0.01M120.4,416.6h0.01M120.7,418.5h0.01M121.0,414.3h0.01M121.2,413.8h0.01M121.5,415.3h0.01M121.7,417.4h0.01M122.0,415.2h0.01M122.2,414.8h0.01M122.5,413.5h0.01M122.8,413.4h0.01M123.0,415.5h0.01M123.3,413.3h0.01M123.5,418.3h0.01M123.8,418.1h0.01M124.0,419.0h0.01M124.3,418.9h0.01M124.5,416.3h0.01M124.8,417.6h0.01M125.1,417.3h0.01M125.3,417.2h0.01M125.6,415.2h0.01M125.8,414.3h0.01M126.1,419.1h0.01M126.3,417.9h0.01M126.6,422.1h0.01M126.9,421.5h0.01M127.1,422.8h0.01M127.4,423.5h0.01M127.6,425.8h0.01M127.9,426.3h0.01M128.1,425.0h0.01M128.4,429.3h0.01M128.7,425.4h0.01M128.9,425.1h0.01M129.2,425.7h0.01M129.4,425.2h0.01M129.7,426.2h0.01M129.9,430.0h0.01M130.2,430.3h0.01M130.4,426.3h0.01M130.7,428.8h0.01M131.0,429.8h0.01M131.2,428.2h0.01M131.5,427.6h0.01M131.7,429.6h0.01M132.0,425.2h0.01M132.2,430.4h0.01M132.5,432.4h0.01M132.8,433.3h0.01M133.0,435.2h0.01M133.3,434.8h0.01M133.5,434.4h0.01M133.8,437.4h0.01M134.0,435.1h0.01M134.3,434.2h0.01M134.5,436.0h0.01M134.8,438.9h0.01M135.1,439.2h0.01M135.3,440.1h0.01M135.6,442.6h0.01M135.8,444.8h0.01M136.1,447.1h0.01M136.3,453.0h0.01M136.6,455.7h0.01M136.9,452.7h0.01M137.1,450.6h0.01M137.4,446.7h0.01M137.6,443.3h0.01M137.9,441.6h0.01M138.1,441.3h0.01M138.4,443.1h0.01M138.7,443.5h0.01M138.9,440.6h0.01M139.2,443.6h0.01M139.4,443.1h0.01M139.7,444.9h0.01M139.9,444.8h0.01M140.2,448.5h0.01M140.4,447.0h0.01M140.7,446.9h0.01M141.0,447.5h0.01M141.2,451.2h0.01M141.5,454.6h0.01M141.7,453.3h0.01M142.0,448.7h0.01M142.2,449.9h0.01M142.5,450.3h0.01M142.8,453.5h0.01M143.0,452.6h0.01M143.3,447.6h0.01M143.5,447.2h0.01M143.8,449.4h0.01M144.0,448.9h0.01M144.3,447.9h0.01M144.6,450.8h0.01M144.8,444.6h0.01M145.1,449.1h0.01M145.3,447.1h0.01M145.6,446.4h0.01M145.8,450.3h0.01M146.1,444.6h0.01M146.3,445.8h0.01M146.6,447.0h0.01M146.9,443.9h0.01M147.1,446.9h0.01M147.4,448.2h0.01M147.6,450.7h0.01M147.9,454.0h0.01M148.1,448.6h0.01M148.4,449.0h0.01M148.7,446.1h0.01M148.9,446.5h0.01M149.2,449.3h0.01M149.4,446.5h0.01M149.7,448.6h0.01M149.9,445.3h0.01M150.2,450.9h0.01M150.5,449.3h0.01M150.7,448.7h0.01M151.0,446.3h0.01M151.2,447.5h0.01M151.5,445.6h0.01M151.7,447.1h0.01M152.0,450.2h0.01M152.2,448.0h0.01M152.5,446.4h0.01M152.8,448.1h0.01M153.0,447.2h0.01M153.3,448.2h0.01M153.5,446.4h0.01M153.8,441.0h0.01M154.0,442.7h0.01M154.3,442.9h0.01M154.6,443.2h0.01M154.8,443.4h0.01M155.1,442.7h0.01M155.3,439.5h0.01M155.6,438.0h0.01M155.8,436.6h0.01M156.1,434.8h0.01M156.4,439.0h0.01M156.6,439.3h0.01M156.9,433.3h0.01M157.1,435.9h0.01M157.4,436.9h0.01M157.6,437.9h0.01M157.9,436.1h0.01M158.1,432.3h0.01M158.4,436.0h0.01M158.7,436.9h0.01M158.9,433.9h0.01M159.2,436.0h0.01M159.4,434.3h0.01M159.7,431.7h0.01M159.9,434.9h0.01M160.2,434.3h0.01M160.5,434.2h0.01M160.7,435.4h0.01M161.0,432.3h0.01M161.2,429.0h0.01M161.5,434.1h0.01M161.7,429.8h0.01M162.0,430.7h0.01M162.3,428.6h0.01M162.5,430.9h0.01M162.8,430.8h0.01M163.0,430.2h0.01M163.3,429.2h0.01M163.5,427.6h0.01M163.8,429.0h0.01M164.0,429.9h0.01M164.3,428.4h0.01M164.6,429.3h0.01M164.8,427.2h0.01M165.1,425.4h0.01M165.3,421.8h0.01M165.6,423.6h0.01M165.8,415.4h0.01M166.1,416.7h0.01M166.4,421.4h0.01M166.6,422.5h0.01M166.9,429.3h0.01M167.1,424.2h0.01M167.4,422.7h0.01M167.6,421.2h0.01M167.9,424.8h0.01M168.2,421.5h0.01M168.4,422.5h0.01M168.7,423.4h0.01M168.9,426.8h0.01M169.2,420.5h0.01M169.4,423.2h0.01M169.7,422.7h0.01M169.9,420.0h0.01M170.2,423.5h0.01M170.5,423.8h0.01M170.7,424.4h0.01M171.0,422.4h0.01M171.2,423.9h0.01M171.5,420.6h0.01M171.7,418.7h0.01M172.0,417.1h0.01M172.3,416.5h0.01M172.5,417.5h0.01M172.8,415.6h0.01M173.0,413.4h0.01M173.3,412.3h0.01M173.5,414.3h0.01M173.8,417.7h0.01M174.1,416.5h0.01M174.3,413.7h0.01M174.6,417.7h0.01M174.8,416.9h0.01M175.1,420.2h0.01M175.3,420.3h0.01M175.6,420.9h0.01M175.8,416.6h0.01M176.1,423.4h0.01M176.4,419.0h0.01M176.6,421.8h0.01M176.9,418.4h0.01M177.1,419.3h0.01M177.4,420.8h0.01M177.6,424.0h0.01M177.9,420.0h0.01M178.2,419.7h0.01M178.4,423.0h0.01M178.7,422.9h0.01M178.9,423.3h0.01M179.2,422.9h0.01M179.4,420.4h0.01M179.7,419.5h0.01M180.0,417.1h0.01M180.2,417.2h0.01M180.5,419.8h0.01M180.7,419.3h0.01M181.0,420.4h0.01M181.2,421.7h0.01M181.5,419.9h0.01M181.7,420.9h0.01M182.0,424.4h0.01M182.3,424.3h0.01M182.5,426.9h0.01M182.8,422.6h0.01M183.0,424.3h0.01M183.3,423.6h0.01M183.5,423.4h0.01M183.8,427.7h0.01M184.1,429.4h0.01M184.3,421.2h0.01M184.6,427.5h0.01M184.8,427.9h0.01M185.1,425.7h0.01M185.3,424.4h0.01M185.6,424.8h0.01M185.9,427.7h0.01M186.1,426.5h0.01M186.4,425.8h0.01M186.6,427.0h0.01M186.9,427.9h0.01M187.1,430.6h0.01M187.4,428.9h0.01M187.6,433.4h0.01M187.9,429.4h0.01M188.2,424.3h0.01M188.4,426.9h0.01M188.7,429.0h0.01M188.9,430.9h0.01M189.2,432.3h0.01M189.4,427.0h0.01M189.7,433.6h0.01M190.0,438.6h0.01M190.2,436.8h0.01M190.5,433.1h0.01M190.7,437.4h0.01M191.0,436.2h0.01M191.2,438.3h0.01M191.5,434.5h0.01M191.8,435.9h0.01M192.0,436.3h0.01M192.3,436.5h0.01M192.5,441.2h0.01M192.8,441.6h0.01M193.0,443.8h0.01M193.3,445.4h0.01M193.5,441.6h0.01M193.8,443.9h0.01M194.1,441.3h0.01M194.3,444.5h0.01M194.6,445.2h0.01M194.8,449.3h0.01M195.1,445.0h0.01M195.3,448.2h0.01M195.6,445.6h0.01M195.9,451.5h0.01M196.1,446.9h0.01M196.4,445.6h0.01M196.6,446.3h0.01M196.9,448.9h0.01M197.1,449.6h0.01M197.4,446.0h0.01M197.7,447.8h0.01M197.9,451.5h0.01M198.2,452.1h0.01M198.4,448.8h0.01M198.7,448.7h0.01M198.9,447.1h0.01M199.2,450.0h0.01M199.4,450.7h0.01M199.7,455.1h0.01M200.0,454.5h0.01M200.2,453.3h0.01M200.5,453.4h0.01M200.7,455.6h0.01M201.0,453.2h0.01M201.2,455.3h0.01M201.5,458.5h0.01M201.8,454.0h0.01M202.0,456.5h0.01M202.3,458.7h0.01M202.5,458.4h0.01M202.8,456.0h0.01M203.0,457.2h0.01M203.3,459.6h0.01M203.6,460.7h0.01M203.8,456.5h0.01M204.1,456.1h0.01M204.3,453.8h0.01M204.6,456.0h0.01M204.8,457.6h0.01M205.1,453.0h0.01M205.3,449.2h0.01M205.6,453.3h0.01M205.9,453.9h0.01M206.1,454.3h0.01M206.4,451.1h0.01M206.6,452.3h0.01M206.9,447.3h0.01M207.1,448.5h0.01M207.4,449.4h0.01M207.7,449.4h0.01M207.9,449.5h0.01M208.2,452.6h0.01M208.4,454.4h0.01M208.7,450.4h0.01M208.9,453.4h0.01M209.2,456.7h0.01M209.5,453.8h0.01M209.7,458.7h0.01M210.0,458.0h0.01M210.2,450.1h0.01M210.5,451.1h0.01M210.7,449.1h0.01M211.0,447.9h0.01M211.2,446.9h0.01M211.5,447.8h0.01M211.8,449.3h0.01M212.0,448.0h0.01M212.3,446.5h0.01M212.5,447.3h0.01M212.8,447.6h0.01M213.0,445.4h0.01M213.3,447.1h0.01" stroke="#878787" stroke-width="1.8" stroke-linecap="round" fill="none"/><polyline points="44.00,432.85 44.28,432.23 44.56,431.61 44.84,430.99 45.12,430.37 45.41,429.75 45.69,429.14 45.97,428.53 46.25,427.92 46.53,427.32 46.81,426.73 47.09,426.14 47.37,425.56 47.66,424.98 47.94,424.41 48.22,423.85 48.50,423.30 48.78,422.76 49.06,422.23 49.34,421.71 49.62,421.20 49.91,420.70 50.19,420.22 50.47,419.74 50.75,419.28 51.03,418.83 51.31,418.40 51.59,417.98 51.87,417.57 52.16,417.18 52.44,416.81 52.72,416.45 53.00,416.10 53.28,415.78 53.56,415.47 53.84,415.17 54.12,414.90 54.41,414.64 54.69,414.40 54.97,414.18 55.25,413.97 55.53,413.79 55.81,413.62 56.09,413.47 56.37,413.34 56.66,413.23 56.94,413.14 57.22,413.07 57.50,413.02 57.78,412.99 58.06,412.98 58.34,412.98 58.62,413.01 58.90,413.05 59.19,413.12 59.47,413.20 59.75,413.31 60.03,413.43 60.31,413.57 60.59,413.73 60.87,413.91 61.15,414.11 61.44,414.32 61.72,414.56 62.00,414.81 62.28,415.08 62.56,415.37 62.84,415.67 63.12,415.99 63.40,416.33 63.69,416.69 63.97,417.06 64.25,417.44 64.53,417.84 64.81,418.26 65.09,418.69 65.37,419.13 65.65,419.59 65.94,420.06 66.22,420.54 66.50,421.03 66.78,421.54 67.06,422.06 67.34,422.58 67.62,423.12 67.90,423.67 68.19,424.23 68.47,424.79 68.75,425.36 69.03,425.94 69.31,426.53 69.59,427.12 69.87,427.72 70.15,428.33 70.44,428.93 70.72,429.55 71.00,430.16 71.28,430.78 71.56,431.40 71.84,432.02 72.12,432.64 72.40,433.26 72.69,433.89 72.97,434.51 73.25,435.13 73.53,435.74 73.81,436.36 74.09,436.97 74.37,437.57 74.65,438.18 74.93,438.77 75.22,439.36 75.50,439.95 75.78,440.53 76.06,441.10 76.34,441.66 76.62,442.21 76.90,442.76 77.18,443.29 77.47,443.82 77.75,444.33 78.03,444.83 78.31,445.32 78.59,445.80 78.87,446.27 79.15,446.72 79.43,447.16 79.72,447.58 80.00,447.99 80.28,448.39 80.56,448.77 80.84,449.13 81.12,449.48 81.40,449.81 81.68,450.13 81.97,450.43 82.25,450.71 82.53,450.98 82.81,451.22 83.09,451.45 83.37,451.66 83.65,451.85 83.93,452.02 84.22,452.18 84.50,452.31 84.78,452.43 85.06,452.53 85.34,452.61 85.62,452.66 85.90,452.70 86.18,452.72 86.47,452.72 86.75,452.70 87.03,452.66 87.31,452.61 87.59,452.53 87.87,452.43 88.15,452.32 88.43,452.18 88.71,452.03 89.00,451.85 89.28,451.66 89.56,451.45 89.84,451.22 90.12,450.98 90.40,450.71 90.68,450.43 90.96,450.13 91.25,449.82 91.53,449.48 91.81,449.13 92.09,448.77 92.37,448.39 92.65,447.99 92.93,447.58 93.21,447.16 93.50,446.72 93.78,446.27 94.06,445.80 94.34,445.32 94.62,444.83 94.90,444.33 95.18,443.82 95.46,443.29 95.75,442.76 96.03,442.21 96.31,441.66 96.59,441.10 96.87,440.53 97.15,439.95 97.43,439.37 97.71,438.78 98.00,438.18 98.28,437.58 98.56,436.97 98.84,436.36 99.12,435.75 99.40,435.13 99.68,434.51 99.96,433.89 100.25,433.27 100.53,432.64 100.81,432.02 101.09,431.40 101.37,430.78 101.65,430.16 101.93,429.55 102.21,428.94 102.50,428.33 102.78,427.72 103.06,427.13 103.34,426.53 103.62,425.95 103.90,425.37 104.18,424.79 104.46,424.23 104.74,423.67 105.03,423.12 105.31,422.59 105.59,422.06 105.87,421.54 106.15,421.04 106.43,420.54 106.71,420.06 106.99,419.59 107.28,419.13 107.56,418.69 107.84,418.26 108.12,417.84 108.40,417.44 108.68,417.06 108.96,416.69 109.24,416.33 109.53,415.99 109.81,415.67 110.09,415.37 110.37,415.08 110.65,414.81 110.93,414.56 111.21,414.32 111.49,414.11 111.78,413.91 112.06,413.73 112.34,413.57 112.62,413.43 112.90,413.31 113.18,413.20 113.46,413.12 113.74,413.05 114.03,413.01 114.31,412.98 114.59,412.98 114.87,412.99 115.15,413.02 115.43,413.07 115.71,413.14 115.99,413.23 116.28,413.34 116.56,413.47 116.84,413.62 117.12,413.79 117.40,413.97 117.68,414.18 117.96,414.40 118.24,414.64 118.52,414.90 118.81,415.17 119.09,415.47 119.37,415.78 119.65,416.10 119.93,416.45 120.21,416.81 120.49,417.18 120.77,417.57 121.06,417.98 121.34,418.40 121.62,418.83 121.90,419.28 122.18,419.74 122.46,420.21 122.74,420.70 123.02,421.20 123.31,421.71 123.59,422.23 123.87,422.76 124.15,423.30 124.43,423.85 124.71,424.41 124.99,424.98 125.27,425.55 125.56,426.14 125.84,426.73 126.12,427.32 126.40,427.92 126.68,428.53 126.96,429.14 127.24,429.75 127.52,430.37 127.81,430.98 128.09,431.60 128.37,432.23 128.65,432.85 128.93,433.47 129.21,434.09 129.49,434.71 129.77,435.33 130.06,435.95 130.34,436.56 130.62,437.17 130.90,437.77 131.18,438.37 131.46,438.97 131.74,439.56 132.02,440.14 132.30,440.72 132.59,441.28 132.87,441.84 133.15,442.39 133.43,442.93 133.71,443.47 133.99,443.99 134.27,444.50 134.55,445.00 134.84,445.48 135.12,445.96 135.40,446.42 135.68,446.87 135.96,447.30 136.24,447.72 136.52,448.13 136.80,448.52 137.09,448.89 137.37,449.25 137.65,449.59 137.93,449.92 138.21,450.23 138.49,450.52 138.77,450.80 139.05,451.06 139.34,451.30 139.62,451.52 139.90,451.73 140.18,451.91 140.46,452.08 140.74,452.23 141.02,452.36 141.30,452.47 141.59,452.56 141.87,452.63 142.15,452.68 142.43,452.71 142.71,452.72 142.99,452.72 143.27,452.69 143.55,452.65 143.84,452.58 144.12,452.50 144.40,452.39 144.68,452.27 144.96,452.13 145.24,451.97 145.52,451.79 145.80,451.59 146.09,451.38 146.37,451.14 146.65,450.89 146.93,450.62 147.21,450.33 147.49,450.03 147.77,449.71 148.05,449.37 148.33,449.02 148.62,448.65 148.90,448.26 149.18,447.86 149.46,447.44 149.74,447.02 150.02,446.57 150.30,446.11 150.58,445.65 150.87,445.16 151.15,444.67 151.43,444.16 151.71,443.65 151.99,443.12 152.27,442.58 152.55,442.03 152.83,441.48 153.12,440.91 153.40,440.34 153.68,439.76 153.96,439.17 154.24,438.58 154.52,437.98 154.80,437.38 155.08,436.77 155.37,436.16 155.65,435.54 155.93,434.92 156.21,434.30 156.49,433.68 156.77,433.06 157.05,432.44 157.33,431.82 157.62,431.20 157.90,430.58 158.18,429.96 158.46,429.34 158.74,428.73 159.02,428.13 159.30,427.53 159.58,426.93 159.87,426.34 160.15,425.75 160.43,425.17 160.71,424.60 160.99,424.04 161.27,423.49 161.55,422.94 161.83,422.41 162.11,421.89 162.40,421.37 162.68,420.87 162.96,420.38 163.24,419.90 163.52,419.44 163.80,418.98 164.08,418.54 164.36,418.12 164.65,417.71 164.93,417.31 165.21,416.93 165.49,416.57 165.77,416.22 166.05,415.89 166.33,415.57 166.61,415.27 166.90,414.99 167.18,414.73 167.46,414.48 167.74,414.25 168.02,414.04 168.30,413.85 168.58,413.68 168.86,413.52 169.15,413.39 169.43,413.27 169.71,413.17 169.99,413.09 170.27,413.04 170.55,413.00 170.83,412.98 171.11,412.98 171.40,413.00 171.68,413.04 171.96,413.09 172.24,413.17 172.52,413.27 172.80,413.38 173.08,413.52 173.36,413.67 173.65,413.85 173.93,414.04 174.21,414.25 174.49,414.48 174.77,414.72 175.05,414.99 175.33,415.27 175.61,415.57 175.90,415.88 176.18,416.22 176.46,416.56 176.74,416.93 177.02,417.31 177.30,417.70 177.58,418.11 177.86,418.54 178.14,418.98 178.43,419.43 178.71,419.90 178.99,420.37 179.27,420.87 179.55,421.37 179.83,421.88 180.11,422.41 180.39,422.94 180.68,423.48 180.96,424.04 181.24,424.60 181.52,425.17 181.80,425.75 182.08,426.33 182.36,426.92 182.64,427.52 182.93,428.12 183.21,428.73 183.49,429.34 183.77,429.95 184.05,430.57 184.33,431.19 184.61,431.81 184.89,432.43 185.18,433.05 185.46,433.68 185.74,434.30 186.02,434.92 186.30,435.53 186.58,436.15 186.86,436.76 187.14,437.37 187.43,437.97 187.71,438.57 187.99,439.17 188.27,439.75 188.55,440.33 188.83,440.91 189.11,441.47 189.39,442.03 189.68,442.57 189.96,443.11 190.24,443.64 190.52,444.16 190.80,444.66 191.08,445.16 191.36,445.64 191.64,446.11 191.92,446.57 192.21,447.01 192.49,447.44 192.77,447.86 193.05,448.26 193.33,448.64 193.61,449.01 193.89,449.37 194.17,449.70 194.46,450.03 194.74,450.33 195.02,450.62 195.30,450.89 195.58,451.14 195.86,451.37 196.14,451.59 196.42,451.79 196.71,451.97 196.99,452.13 197.27,452.27 197.55,452.39 197.83,452.50 198.11,452.58 198.39,452.65 198.67,452.69 198.96,452.72 199.24,452.72 199.52,452.71 199.80,452.68 200.08,452.63 200.36,452.56 200.64,452.47 200.92,452.36 201.21,452.23 201.49,452.08 201.77,451.91 202.05,451.73 202.33,451.52 202.61,451.30 202.89,451.06 203.17,450.80 203.46,450.53 203.74,450.23 204.02,449.92 204.30,449.60 204.58,449.25 204.86,448.89 205.14,448.52 205.42,448.13 205.71,447.72 205.99,447.30 206.27,446.87 206.55,446.42 206.83,445.96 207.11,445.49 207.39,445.00 207.67,444.50 207.95,443.99 208.24,443.47 208.52,442.94 208.80,442.40 209.08,441.85 209.36,441.29 209.64,440.72 209.92,440.15 210.20,439.56 210.49,438.98 210.77,438.38 211.05,437.78 211.33,437.18 211.61,436.57 211.89,435.95 212.17,435.34 212.45,434.72 212.74,434.10" fill="none" stroke="#0000ff" stroke-width="1.3"/><polyline points="44.00,440.58 44.28,440.06 44.56,439.54 44.84,439.01 45.12,438.47 45.41,437.93 45.69,437.39 45.97,436.85 46.25,436.30 46.53,435.75 46.81,435.21 47.09,434.66 47.37,434.10 47.66,433.55 47.94,433.01 48.22,432.46 48.50,431.91 48.78,431.37 49.06,430.83 49.34,430.29 49.62,429.76 49.91,429.23 50.19,428.71 50.47,428.20 50.75,427.69 51.03,427.18 51.31,426.69 51.59,426.20 51.87,425.72 52.16,425.25 52.44,424.78 52.72,424.33 53.00,423.89 53.28,423.45 53.56,423.03 53.84,422.62 54.12,422.22 54.41,421.84 54.69,421.46 54.97,421.10 55.25,420.76 55.53,420.42 55.81,420.10 56.09,419.79 56.37,419.50 56.66,419.22 56.94,418.96 57.22,418.71 57.50,418.48 57.78,418.27 58.06,418.07 58.34,417.88 58.62,417.71 58.90,417.56 59.19,417.43 59.47,417.31 59.75,417.21 60.03,417.12 60.31,417.05 60.59,417.00 60.87,416.97 61.15,416.95 61.44,416.95 61.72,416.97 62.00,417.00 62.28,417.05 62.56,417.12 62.84,417.20 63.12,417.30 63.40,417.42 63.69,417.55 63.97,417.70 64.25,417.87 64.53,418.05 64.81,418.25 65.09,418.46 65.37,418.69 65.65,418.93 65.94,419.19 66.22,419.46 66.50,419.75 66.78,420.05 67.06,420.37 67.34,420.69 67.62,421.03 67.90,421.39 68.19,421.75 68.47,422.13 68.75,422.52 69.03,422.92 69.31,423.33 69.59,423.76 69.87,424.19 70.15,424.63 70.44,425.08 70.72,425.54 71.00,426.00 71.28,426.48 71.56,426.96 71.84,427.45 72.12,427.94 72.40,428.44 72.69,428.95 72.97,429.46 73.25,429.97 73.53,430.49 73.81,431.01 74.09,431.54 74.37,432.07 74.65,432.59 74.93,433.12 75.22,433.65 75.50,434.18 75.78,434.71 76.06,435.24 76.34,435.77 76.62,436.30 76.90,436.82 77.18,437.34 77.47,437.86 77.75,438.37 78.03,438.88 78.31,439.38 78.59,439.88 78.87,440.37 79.15,440.86 79.43,441.34 79.72,441.81 80.00,442.27 80.28,442.73 80.56,443.18 80.84,443.62 81.12,444.04 81.40,444.46 81.68,444.87 81.97,445.27 82.25,445.66 82.53,446.03 82.81,446.40 83.09,446.75 83.37,447.09 83.65,447.41 83.93,447.73 84.22,448.03 84.50,448.32 84.78,448.59 85.06,448.85 85.34,449.09 85.62,449.32 85.90,449.54 86.18,449.74 86.47,449.92 86.75,450.09 87.03,450.25 87.31,450.39 87.59,450.51 87.87,450.62 88.15,450.71 88.43,450.79 88.71,450.85 89.00,450.89 89.28,450.92 89.56,450.93 89.84,450.93 90.12,450.91 90.40,450.87 90.68,450.82 90.96,450.75 91.25,450.67 91.53,450.57 91.81,450.45 92.09,450.32 92.37,450.18 92.65,450.02 92.93,449.84 93.21,449.65 93.50,449.45 93.78,449.23 94.06,449.00 94.34,448.75 94.62,448.49 94.90,448.22 95.18,447.93 95.46,447.64 95.75,447.33 96.03,447.00 96.31,446.67 96.59,446.32 96.87,445.97 97.15,445.60 97.43,445.22 97.71,444.83 98.00,444.44 98.28,444.03 98.56,443.62 98.84,443.19 99.12,442.76 99.40,442.33 99.68,441.88 99.96,441.43 100.25,440.97 100.53,440.51 100.81,440.04 101.09,439.56 101.37,439.08 101.65,438.59 101.93,438.11 102.21,437.62 102.50,437.12 102.78,436.63 103.06,436.13 103.34,435.64 103.62,435.14 103.90,434.64 104.18,434.15 104.46,433.65 104.74,433.16 105.03,432.67 105.31,432.18 105.59,431.69 105.87,431.21 106.15,430.73 106.43,430.26 106.71,429.79 106.99,429.33 107.28,428.87 107.56,428.42 107.84,427.98 108.12,427.54 108.40,427.11 108.68,426.69 108.96,426.27 109.24,425.87 109.53,425.47 109.81,425.09 110.09,424.71 110.37,424.34 110.65,423.99 110.93,423.64 111.21,423.31 111.49,422.99 111.78,422.68 112.06,422.38 112.34,422.09 112.62,421.82 112.90,421.56 113.18,421.31 113.46,421.07 113.74,420.85 114.03,420.65 114.31,420.45 114.59,420.27 114.87,420.11 115.15,419.96 115.43,419.82 115.71,419.70 115.99,419.59 116.28,419.50 116.56,419.42 116.84,419.36 117.12,419.31 117.40,419.28 117.68,419.26 117.96,419.26 118.24,419.28 118.52,419.30 118.81,419.35 119.09,419.41 119.37,419.48 119.65,419.57 119.93,419.67 120.21,419.79 120.49,419.92 120.77,420.07 121.06,420.23 121.34,420.41 121.62,420.60 121.90,420.80 122.18,421.02 122.46,421.25 122.74,421.49 123.02,421.75 123.31,422.02 123.59,422.30 123.87,422.59 124.15,422.90 124.43,423.22 124.71,423.55 124.99,423.89 125.27,424.24 125.56,424.60 125.84,424.97 126.12,425.35 126.40,425.74 126.68,426.14 126.96,426.54 127.24,426.96 127.52,427.38 127.81,427.81 128.09,428.25 128.37,428.69 128.65,429.14 128.93,429.60 129.21,430.06 129.49,430.52 129.77,430.99 130.06,431.47 130.34,431.94 130.62,432.42 130.90,432.90 131.18,433.39 131.46,433.87 131.74,434.36 132.02,434.84 132.30,435.33 132.59,435.82 132.87,436.30 133.15,436.79 133.43,437.27 133.71,437.75 133.99,438.23 134.27,438.70 134.55,439.17 134.84,439.64 135.12,440.10 135.40,440.56 135.68,441.01 135.96,441.46 136.24,441.90 136.52,442.33 136.80,442.76 137.09,443.18 137.37,443.59 137.65,443.99 137.93,444.38 138.21,444.76 138.49,445.14 138.77,445.50 139.05,445.86 139.34,446.20 139.62,446.54 139.90,446.86 140.18,447.17 140.46,447.47 140.74,447.75 141.02,448.03 141.30,448.29 141.59,448.54 141.87,448.77 142.15,448.99 142.43,449.20 142.71,449.40 142.99,449.58 143.27,449.74 143.55,449.90 143.84,450.03 144.12,450.16 144.40,450.26 144.68,450.36 144.96,450.44 145.24,450.50 145.52,450.55 145.80,450.58 146.09,450.60 146.37,450.60 146.65,450.59 146.93,450.56 147.21,450.52 147.49,450.46 147.77,450.39 148.05,450.30 148.33,450.20 148.62,450.08 148.90,449.95 149.18,449.81 149.46,449.65 149.74,449.47 150.02,449.28 150.30,449.08 150.58,448.86 150.87,448.63 151.15,448.39 151.43,448.13 151.71,447.86 151.99,447.58 152.27,447.29 152.55,446.98 152.83,446.66 153.12,446.33 153.40,445.99 153.68,445.64 153.96,445.28 154.24,444.91 154.52,444.53 154.80,444.14 155.08,443.74 155.37,443.33 155.65,442.92 155.93,442.49 156.21,442.06 156.49,441.63 156.77,441.18 157.05,440.73 157.33,440.28 157.62,439.82 157.90,439.35 158.18,438.88 158.46,438.41 158.74,437.93 159.02,437.45 159.30,436.97 159.58,436.49 159.87,436.00 160.15,435.51 160.43,435.03 160.71,434.54 160.99,434.05 161.27,433.57 161.55,433.08 161.83,432.60 162.11,432.12 162.40,431.64 162.68,431.17 162.96,430.70 163.24,430.23 163.52,429.77 163.80,429.32 164.08,428.87 164.36,428.42 164.65,427.98 164.93,427.55 165.21,427.13 165.49,426.71 165.77,426.30 166.05,425.90 166.33,425.51 166.61,425.13 166.90,424.75 167.18,424.39 167.46,424.04 167.74,423.70 168.02,423.37 168.30,423.05 168.58,422.74 168.86,422.45 169.15,422.16 169.43,421.89 169.71,421.63 169.99,421.39 170.27,421.16 170.55,420.94 170.83,420.73 171.11,420.54 171.40,420.37 171.68,420.20 171.96,420.06 172.24,419.92 172.52,419.80 172.80,419.70 173.08,419.61 173.36,419.54 173.65,419.48 173.93,419.44 174.21,419.41 174.49,419.39 174.77,419.40 175.05,419.41 175.33,419.45 175.61,419.49 175.90,419.56 176.18,419.63 176.46,419.73 176.74,419.84 177.02,419.96 177.30,420.10 177.58,420.25 177.86,420.42 178.14,420.60 178.43,420.79 178.71,421.00 178.99,421.22 179.27,421.46 179.55,421.71 179.83,421.97 180.11,422.25 180.39,422.53 180.68,422.83 180.96,423.15 181.24,423.47 181.52,423.81 181.80,424.15 182.08,424.51 182.36,424.88 182.64,425.25 182.93,425.64 183.21,426.04 183.49,426.44 183.77,426.85 184.05,427.27 184.33,427.70 184.61,428.14 184.89,428.58 185.18,429.03 185.46,429.49 185.74,429.95 186.02,430.42 186.30,430.89 186.58,431.36 186.86,431.84 187.14,432.32 187.43,432.81 187.71,433.29 187.99,433.78 188.27,434.27 188.55,434.76 188.83,435.26 189.11,435.75 189.39,436.24 189.68,436.73 189.96,437.22 190.24,437.70 190.52,438.19 190.80,438.67 191.08,439.15 191.36,439.62 191.64,440.09 191.92,440.55 192.21,441.01 192.49,441.47 192.77,441.92 193.05,442.36 193.33,442.79 193.61,443.22 193.89,443.64 194.17,444.05 194.46,444.45 194.74,444.85 195.02,445.23 195.30,445.60 195.58,445.97 195.86,446.32 196.14,446.67 196.42,447.00 196.71,447.32 196.99,447.63 197.27,447.92 197.55,448.21 197.83,448.48 198.11,448.74 198.39,448.99 198.67,449.22 198.96,449.44 199.24,449.64 199.52,449.83 199.80,450.01 200.08,450.17 200.36,450.32 200.64,450.45 200.92,450.57 201.21,450.68 201.49,450.76 201.77,450.84 202.05,450.90 202.33,450.94 202.61,450.97 202.89,450.98 203.17,450.98 203.46,450.96 203.74,450.92 204.02,450.88 204.30,450.81 204.58,450.73 204.86,450.64 205.14,450.53 205.42,450.40 205.71,450.27 205.99,450.11 206.27,449.94 206.55,449.76 206.83,449.57 207.11,449.36 207.39,449.13 207.67,448.90 207.95,448.64 208.24,448.38 208.52,448.10 208.80,447.81 209.08,447.51 209.36,447.20 209.64,446.88 209.92,446.54 210.20,446.19 210.49,445.83 210.77,445.47 211.05,445.09 211.33,444.70 211.61,444.30 211.89,443.90 212.17,443.48 212.45,443.06 212.74,442.63" fill="none" stroke="#000" stroke-width="1.25"/><path d="M37.30,393.10V472.60M34.10,472.60H37.30M34.10,452.73H37.30M34.10,432.85H37.30M34.10,412.98H37.30M34.10,393.10H37.30M44.00,476.05H213.30M44.00,476.05V479.25M72.22,476.05V479.25M100.43,476.05V479.25M128.65,476.05V479.25M156.87,476.05V479.25M185.08,476.05V479.25M213.30,476.05V479.25" stroke="#000" stroke-width="1.2" fill="none"/><text transform="translate(32.70,475.95) scale(1.005,1)" font-size="8.6" text-anchor="end">0</text><text transform="translate(32.70,456.08) scale(1.005,1)" font-size="8.6" text-anchor="end">1</text><text transform="translate(32.70,436.20) scale(1.005,1)" font-size="8.6" text-anchor="end">2</text><text transform="translate(32.70,416.33) scale(1.005,1)" font-size="8.6" text-anchor="end">3</text><text transform="translate(32.70,396.45) scale(1.005,1)" font-size="8.6" text-anchor="end">4</text><text transform="translate(44.00,489.35) scale(1.005,1)" font-size="8.6" text-anchor="middle">0</text><text transform="translate(72.22,489.35) scale(1.005,1)" font-size="8.6" text-anchor="middle">5</text><text transform="translate(100.43,489.35) scale(1.005,1)" font-size="8.6" text-anchor="middle">10</text><text transform="translate(128.65,489.35) scale(1.005,1)" font-size="8.6" text-anchor="middle">15</text><text transform="translate(156.87,489.35) scale(1.005,1)" font-size="8.6" text-anchor="middle">20</text><text transform="translate(185.08,489.35) scale(1.005,1)" font-size="8.6" text-anchor="middle">25</text><text transform="translate(213.30,489.35) scale(1.005,1)" font-size="8.6" text-anchor="middle">30</text><text transform="translate(8.70,432.85) scale(1.04,1) rotate(-90)" font-size="9.85" text-anchor="middle">Response in D</text><clipPath id="cl3"><rect x="0" y="383.1" width="219.6" height="30"/></clipPath><g clip-path="url(#cl3)"><text transform="translate(44.90,399.40) scale(1.047,1)" font-size="8.25" text-anchor="start">Observer: s08; condition: 0.1 Hz; repetition: 4</text></g><line x1="277.30" y1="472.60" x2="446.50" y2="472.60" stroke="#d9d9d9" stroke-width="0.9"/><line x1="277.30" y1="452.73" x2="446.50" y2="452.73" stroke="#d9d9d9" stroke-width="0.9"/><line x1="277.30" y1="432.85" x2="446.50" y2="432.85" stroke="#d9d9d9" stroke-width="0.9"/><line x1="277.30" y1="412.98" x2="446.50" y2="412.98" stroke="#d9d9d9" stroke-width="0.9"/><line x1="277.30" y1="420.73" x2="446.50" y2="438.22" stroke="#333" stroke-width="1"/><g fill="#fff" stroke="#000" stroke-width="0.8"><circle cx="277.30" cy="411.98" r="1.55"/><circle cx="280.68" cy="413.12" r="1.55"/><circle cx="284.07" cy="414.25" r="1.55"/><circle cx="287.45" cy="415.39" r="1.55"/><circle cx="290.84" cy="416.53" r="1.55"/><circle cx="294.22" cy="417.66" r="1.55"/><circle cx="297.60" cy="418.79" r="1.55"/><circle cx="300.99" cy="419.91" r="1.55"/><circle cx="304.37" cy="421.03" r="1.55"/><circle cx="307.76" cy="422.17" r="1.55"/><circle cx="311.14" cy="423.29" r="1.55"/><circle cx="314.52" cy="424.40" r="1.55"/><circle cx="317.91" cy="425.49" r="1.55"/><circle cx="321.29" cy="426.54" r="1.55"/><circle cx="324.68" cy="427.56" r="1.55"/><circle cx="328.06" cy="428.54" r="1.55"/><circle cx="331.44" cy="429.47" r="1.55"/><circle cx="334.83" cy="430.36" r="1.55"/><circle cx="338.21" cy="431.19" r="1.55"/><circle cx="341.60" cy="431.97" r="1.55"/><circle cx="344.98" cy="432.65" r="1.55"/><circle cx="348.36" cy="433.19" r="1.55"/><circle cx="351.75" cy="433.54" r="1.55"/><circle cx="355.13" cy="433.77" r="1.55"/><circle cx="358.52" cy="433.92" r="1.55"/><circle cx="361.90" cy="434.00" r="1.55"/><circle cx="365.28" cy="434.04" r="1.55"/><circle cx="368.67" cy="434.04" r="1.55"/><circle cx="372.05" cy="434.00" r="1.55"/><circle cx="375.44" cy="433.93" r="1.55"/><circle cx="378.82" cy="433.83" r="1.55"/><circle cx="382.20" cy="433.72" r="1.55"/><circle cx="385.59" cy="433.60" r="1.55"/><circle cx="388.97" cy="433.48" r="1.55"/><circle cx="392.36" cy="433.37" r="1.55"/><circle cx="395.74" cy="433.26" r="1.55"/><circle cx="399.12" cy="433.13" r="1.55"/><circle cx="402.51" cy="433.00" r="1.55"/><circle cx="405.89" cy="432.87" r="1.55"/><circle cx="409.28" cy="432.75" r="1.55"/><circle cx="412.66" cy="432.63" r="1.55"/><circle cx="416.04" cy="432.52" r="1.55"/><circle cx="419.43" cy="432.42" r="1.55"/><circle cx="422.81" cy="432.33" r="1.55"/><circle cx="426.20" cy="432.26" r="1.55"/><circle cx="429.58" cy="432.19" r="1.55"/><circle cx="432.96" cy="432.12" r="1.55"/><circle cx="436.35" cy="432.05" r="1.55"/><circle cx="439.73" cy="431.99" r="1.55"/><circle cx="443.12" cy="431.93" r="1.55"/><circle cx="446.50" cy="431.86" r="1.55"/></g><polyline points="277.30,412.38 346.11,434.04" fill="none" stroke="#ff0000" stroke-width="1.1"/><polyline points="346.11,434.04 446.50,432.85" fill="none" stroke="#0000ff" stroke-width="1.1"/><path d="M270.60,393.10V472.60M267.40,472.60H270.60M267.40,452.73H270.60M267.40,432.85H270.60M267.40,412.98H270.60M267.40,393.10H270.60M277.30,476.05H446.50M277.30,476.05V479.25M305.50,476.05V479.25M333.70,476.05V479.25M361.90,476.05V479.25M390.10,476.05V479.25M418.30,476.05V479.25M446.50,476.05V479.25" stroke="#000" stroke-width="1.2" fill="none"/><text transform="translate(266.00,475.95) scale(1.005,1)" font-size="8.6" text-anchor="end">0.59</text><text transform="translate(266.00,456.08) scale(1.005,1)" font-size="8.6" text-anchor="end">0.69</text><text transform="translate(266.00,436.20) scale(1.005,1)" font-size="8.6" text-anchor="end">0.79</text><text transform="translate(266.00,416.33) scale(1.005,1)" font-size="8.6" text-anchor="end">0.89</text><text transform="translate(266.00,396.45) scale(1.005,1)" font-size="8.6" text-anchor="end">0.99</text><text transform="translate(277.30,489.35) scale(1.005,1)" font-size="8.6" text-anchor="middle">0</text><text transform="translate(305.50,489.35) scale(1.005,1)" font-size="8.6" text-anchor="middle">5</text><text transform="translate(333.70,489.35) scale(1.005,1)" font-size="8.6" text-anchor="middle">10</text><text transform="translate(361.90,489.35) scale(1.005,1)" font-size="8.6" text-anchor="middle">15</text><text transform="translate(390.10,489.35) scale(1.005,1)" font-size="8.6" text-anchor="middle">20</text><text transform="translate(418.30,489.35) scale(1.005,1)" font-size="8.6" text-anchor="middle">25</text><text transform="translate(446.50,489.35) scale(1.005,1)" font-size="8.6" text-anchor="middle">30</text><text transform="translate(242.00,432.85) scale(1.04,1) rotate(-90)" font-size="9.85" text-anchor="middle">Amplitude in D</text><text transform="translate(361.90,510.55) scale(0.99,1)" font-size="10.3" text-anchor="middle">Time in s</text><text transform="translate(361.50,401.70) scale(0.917,1)" font-size="9.5" text-anchor="middle"><tspan font-style="italic">R</tspan><tspan font-size="5.6" dy="-4.0">2</tspan><tspan dy="4.0"> linear = 61 %; </tspan><tspan font-style="italic">R</tspan><tspan font-size="5.6" dy="-4.0">2</tspan><tspan dy="4.0"> segmented = 99 %</tspan></text><line x1="510.40" y1="472.60" x2="679.40" y2="472.60" stroke="#d9d9d9" stroke-width="0.9"/><line x1="510.40" y1="452.73" x2="679.40" y2="452.73" stroke="#d9d9d9" stroke-width="0.9"/><line x1="510.40" y1="432.85" x2="679.40" y2="432.85" stroke="#d9d9d9" stroke-width="0.9"/><line x1="510.40" y1="412.98" x2="679.40" y2="412.98" stroke="#d9d9d9" stroke-width="0.9"/><g fill="#fff" stroke="#000" stroke-width="0.8"><circle cx="510.40" cy="432.93" r="1.55"/><circle cx="513.78" cy="433.00" r="1.55"/><circle cx="517.16" cy="433.08" r="1.55"/><circle cx="520.54" cy="433.16" r="1.55"/><circle cx="523.92" cy="433.24" r="1.55"/><circle cx="527.30" cy="433.31" r="1.55"/><circle cx="530.68" cy="433.38" r="1.55"/><circle cx="534.06" cy="433.45" r="1.55"/><circle cx="537.44" cy="433.51" r="1.55"/><circle cx="540.82" cy="433.56" r="1.55"/><circle cx="544.20" cy="433.62" r="1.55"/><circle cx="547.58" cy="433.67" r="1.55"/><circle cx="550.96" cy="433.72" r="1.55"/><circle cx="554.34" cy="433.77" r="1.55"/><circle cx="557.72" cy="433.82" r="1.55"/><circle cx="561.10" cy="433.85" r="1.55"/><circle cx="564.48" cy="433.88" r="1.55"/><circle cx="567.86" cy="433.89" r="1.55"/><circle cx="571.24" cy="433.89" r="1.55"/><circle cx="574.62" cy="433.87" r="1.55"/><circle cx="578.00" cy="433.82" r="1.55"/><circle cx="581.38" cy="433.76" r="1.55"/><circle cx="584.76" cy="433.69" r="1.55"/><circle cx="588.14" cy="433.60" r="1.55"/><circle cx="591.52" cy="433.50" r="1.55"/><circle cx="594.90" cy="433.40" r="1.55"/><circle cx="598.28" cy="433.31" r="1.55"/><circle cx="601.66" cy="433.22" r="1.55"/><circle cx="605.04" cy="433.13" r="1.55"/><circle cx="608.42" cy="433.04" r="1.55"/><circle cx="611.80" cy="432.94" r="1.55"/><circle cx="615.18" cy="432.85" r="1.55"/><circle cx="618.56" cy="432.75" r="1.55"/><circle cx="621.94" cy="432.65" r="1.55"/><circle cx="625.32" cy="432.54" r="1.55"/><circle cx="628.70" cy="432.44" r="1.55"/><circle cx="632.08" cy="432.33" r="1.55"/><circle cx="635.46" cy="432.22" r="1.55"/><circle cx="638.84" cy="432.10" r="1.55"/><circle cx="642.22" cy="431.98" r="1.55"/><circle cx="645.60" cy="431.86" r="1.55"/><circle cx="648.98" cy="431.74" r="1.55"/><circle cx="652.36" cy="431.62" r="1.55"/><circle cx="655.74" cy="431.50" r="1.55"/><circle cx="659.12" cy="431.37" r="1.55"/><circle cx="662.50" cy="431.25" r="1.55"/><circle cx="665.88" cy="431.12" r="1.55"/><circle cx="669.26" cy="431.00" r="1.55"/><circle cx="672.64" cy="430.87" r="1.55"/><circle cx="676.02" cy="430.75" r="1.55"/><circle cx="679.40" cy="430.62" r="1.55"/></g><polyline points="510.40,433.01 572.37,433.88" fill="none" stroke="#ff0000" stroke-width="1.1"/><polyline points="572.37,433.88 679.40,430.70" fill="none" stroke="#0000ff" stroke-width="1.1"/><path d="M503.70,393.10V472.60M500.50,472.60H503.70M500.50,452.73H503.70M500.50,432.85H503.70M500.50,412.98H503.70M500.50,393.10H503.70M510.40,476.05H679.40M510.40,476.05V479.25M538.57,476.05V479.25M566.73,476.05V479.25M594.90,476.05V479.25M623.07,476.05V479.25M651.23,476.05V479.25M679.40,476.05V479.25" stroke="#000" stroke-width="1.2" fill="none"/><text transform="translate(499.10,475.95) scale(1.005,1)" font-size="8.6" text-anchor="end">−0.38</text><text transform="translate(499.10,456.08) scale(1.005,1)" font-size="8.6" text-anchor="end">0.12</text><text transform="translate(499.10,436.20) scale(1.005,1)" font-size="8.6" text-anchor="end">0.62</text><text transform="translate(499.10,416.33) scale(1.005,1)" font-size="8.6" text-anchor="end">1.12</text><text transform="translate(499.10,396.45) scale(1.005,1)" font-size="8.6" text-anchor="end">1.62</text><text transform="translate(510.40,489.35) scale(1.005,1)" font-size="8.6" text-anchor="middle">0</text><text transform="translate(538.57,489.35) scale(1.005,1)" font-size="8.6" text-anchor="middle">5</text><text transform="translate(566.73,489.35) scale(1.005,1)" font-size="8.6" text-anchor="middle">10</text><text transform="translate(594.90,489.35) scale(1.005,1)" font-size="8.6" text-anchor="middle">15</text><text transform="translate(623.07,489.35) scale(1.005,1)" font-size="8.6" text-anchor="middle">20</text><text transform="translate(651.23,489.35) scale(1.005,1)" font-size="8.6" text-anchor="middle">25</text><text transform="translate(679.40,489.35) scale(1.005,1)" font-size="8.6" text-anchor="middle">30</text><text transform="translate(475.10,432.85) scale(1.04,1) rotate(-90)" font-size="9.85" text-anchor="middle">Phase in s</text><text transform="translate(594.50,401.70) scale(0.917,1)" font-size="9.5" text-anchor="middle"><tspan font-style="italic">R</tspan><tspan font-size="5.6" dy="-4.0">2</tspan><tspan dy="4.0"> linear = 65 %; </tspan><tspan font-style="italic">R</tspan><tspan font-size="5.6" dy="-4.0">2</tspan><tspan dy="4.0"> segmented = 99 %</tspan></text></svg>
</body></html>
